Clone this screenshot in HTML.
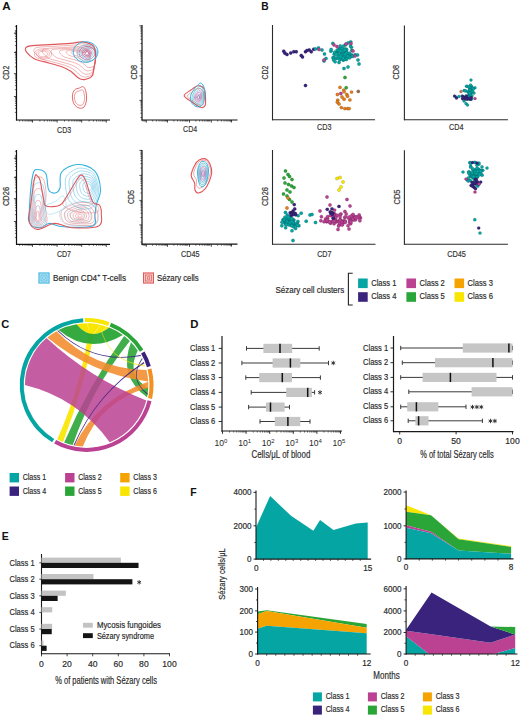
<!DOCTYPE html>
<html><head><meta charset="utf-8"><style>
html,body{margin:0;padding:0;background:#fff;}
svg{display:block;}
text{font-family:"Liberation Sans",sans-serif;}
</style></head><body>
<svg width="520" height="715" viewBox="0 0 520 715">
<rect width="520" height="715" fill="#fff"/>
<text x="2.30" y="9.70" font-size="11.5" text-anchor="start" fill="#111" font-weight="bold" textLength="8.4" lengthAdjust="spacingAndGlyphs">A</text>
<line x1="16.50" y1="25.00" x2="16.50" y2="120.50" stroke="#111" stroke-width="1.2"/>
<line x1="16.00" y1="120.00" x2="110.00" y2="120.00" stroke="#111" stroke-width="1.2"/>
<line x1="19.64" y1="120.00" x2="19.64" y2="121.60" stroke="#111" stroke-width="0.6"/>
<line x1="22.71" y1="120.00" x2="22.71" y2="121.60" stroke="#111" stroke-width="0.6"/>
<line x1="25.09" y1="120.00" x2="25.09" y2="121.60" stroke="#111" stroke-width="0.6"/>
<line x1="27.04" y1="120.00" x2="27.04" y2="121.60" stroke="#111" stroke-width="0.6"/>
<line x1="28.69" y1="120.00" x2="28.69" y2="121.60" stroke="#111" stroke-width="0.6"/>
<line x1="30.12" y1="120.00" x2="30.12" y2="121.60" stroke="#111" stroke-width="0.6"/>
<line x1="31.37" y1="120.00" x2="31.37" y2="121.60" stroke="#111" stroke-width="0.6"/>
<line x1="32.50" y1="120.00" x2="32.50" y2="122.60" stroke="#111" stroke-width="0.75"/>
<line x1="39.91" y1="120.00" x2="39.91" y2="121.60" stroke="#111" stroke-width="0.6"/>
<line x1="44.24" y1="120.00" x2="44.24" y2="121.60" stroke="#111" stroke-width="0.6"/>
<line x1="47.31" y1="120.00" x2="47.31" y2="121.60" stroke="#111" stroke-width="0.6"/>
<line x1="49.69" y1="120.00" x2="49.69" y2="121.60" stroke="#111" stroke-width="0.6"/>
<line x1="51.64" y1="120.00" x2="51.64" y2="121.60" stroke="#111" stroke-width="0.6"/>
<line x1="53.29" y1="120.00" x2="53.29" y2="121.60" stroke="#111" stroke-width="0.6"/>
<line x1="54.72" y1="120.00" x2="54.72" y2="121.60" stroke="#111" stroke-width="0.6"/>
<line x1="55.97" y1="120.00" x2="55.97" y2="121.60" stroke="#111" stroke-width="0.6"/>
<line x1="57.10" y1="120.00" x2="57.10" y2="122.60" stroke="#111" stroke-width="0.75"/>
<line x1="64.51" y1="120.00" x2="64.51" y2="121.60" stroke="#111" stroke-width="0.6"/>
<line x1="68.84" y1="120.00" x2="68.84" y2="121.60" stroke="#111" stroke-width="0.6"/>
<line x1="71.91" y1="120.00" x2="71.91" y2="121.60" stroke="#111" stroke-width="0.6"/>
<line x1="74.29" y1="120.00" x2="74.29" y2="121.60" stroke="#111" stroke-width="0.6"/>
<line x1="76.24" y1="120.00" x2="76.24" y2="121.60" stroke="#111" stroke-width="0.6"/>
<line x1="77.89" y1="120.00" x2="77.89" y2="121.60" stroke="#111" stroke-width="0.6"/>
<line x1="79.32" y1="120.00" x2="79.32" y2="121.60" stroke="#111" stroke-width="0.6"/>
<line x1="80.57" y1="120.00" x2="80.57" y2="121.60" stroke="#111" stroke-width="0.6"/>
<line x1="81.70" y1="120.00" x2="81.70" y2="122.60" stroke="#111" stroke-width="0.75"/>
<line x1="89.11" y1="120.00" x2="89.11" y2="121.60" stroke="#111" stroke-width="0.6"/>
<line x1="93.44" y1="120.00" x2="93.44" y2="121.60" stroke="#111" stroke-width="0.6"/>
<line x1="96.51" y1="120.00" x2="96.51" y2="121.60" stroke="#111" stroke-width="0.6"/>
<line x1="98.89" y1="120.00" x2="98.89" y2="121.60" stroke="#111" stroke-width="0.6"/>
<line x1="100.84" y1="120.00" x2="100.84" y2="121.60" stroke="#111" stroke-width="0.6"/>
<line x1="102.49" y1="120.00" x2="102.49" y2="121.60" stroke="#111" stroke-width="0.6"/>
<line x1="103.92" y1="120.00" x2="103.92" y2="121.60" stroke="#111" stroke-width="0.6"/>
<line x1="105.17" y1="120.00" x2="105.17" y2="121.60" stroke="#111" stroke-width="0.6"/>
<line x1="106.30" y1="120.00" x2="106.30" y2="122.60" stroke="#111" stroke-width="0.75"/>
<line x1="16.50" y1="112.44" x2="14.90" y2="112.44" stroke="#111" stroke-width="0.6"/>
<line x1="16.50" y1="108.42" x2="14.90" y2="108.42" stroke="#111" stroke-width="0.6"/>
<line x1="16.50" y1="105.57" x2="14.90" y2="105.57" stroke="#111" stroke-width="0.6"/>
<line x1="16.50" y1="103.36" x2="14.90" y2="103.36" stroke="#111" stroke-width="0.6"/>
<line x1="16.50" y1="101.56" x2="14.90" y2="101.56" stroke="#111" stroke-width="0.6"/>
<line x1="16.50" y1="100.03" x2="14.90" y2="100.03" stroke="#111" stroke-width="0.6"/>
<line x1="16.50" y1="98.71" x2="14.90" y2="98.71" stroke="#111" stroke-width="0.6"/>
<line x1="16.50" y1="97.54" x2="14.90" y2="97.54" stroke="#111" stroke-width="0.6"/>
<line x1="16.50" y1="96.50" x2="13.90" y2="96.50" stroke="#111" stroke-width="0.75"/>
<line x1="16.50" y1="89.64" x2="14.90" y2="89.64" stroke="#111" stroke-width="0.6"/>
<line x1="16.50" y1="85.62" x2="14.90" y2="85.62" stroke="#111" stroke-width="0.6"/>
<line x1="16.50" y1="82.77" x2="14.90" y2="82.77" stroke="#111" stroke-width="0.6"/>
<line x1="16.50" y1="80.56" x2="14.90" y2="80.56" stroke="#111" stroke-width="0.6"/>
<line x1="16.50" y1="78.76" x2="14.90" y2="78.76" stroke="#111" stroke-width="0.6"/>
<line x1="16.50" y1="77.23" x2="14.90" y2="77.23" stroke="#111" stroke-width="0.6"/>
<line x1="16.50" y1="75.91" x2="14.90" y2="75.91" stroke="#111" stroke-width="0.6"/>
<line x1="16.50" y1="74.74" x2="14.90" y2="74.74" stroke="#111" stroke-width="0.6"/>
<line x1="16.50" y1="73.70" x2="13.90" y2="73.70" stroke="#111" stroke-width="0.75"/>
<line x1="16.50" y1="66.84" x2="14.90" y2="66.84" stroke="#111" stroke-width="0.6"/>
<line x1="16.50" y1="62.82" x2="14.90" y2="62.82" stroke="#111" stroke-width="0.6"/>
<line x1="16.50" y1="59.97" x2="14.90" y2="59.97" stroke="#111" stroke-width="0.6"/>
<line x1="16.50" y1="57.76" x2="14.90" y2="57.76" stroke="#111" stroke-width="0.6"/>
<line x1="16.50" y1="55.96" x2="14.90" y2="55.96" stroke="#111" stroke-width="0.6"/>
<line x1="16.50" y1="54.43" x2="14.90" y2="54.43" stroke="#111" stroke-width="0.6"/>
<line x1="16.50" y1="53.11" x2="14.90" y2="53.11" stroke="#111" stroke-width="0.6"/>
<line x1="16.50" y1="51.94" x2="14.90" y2="51.94" stroke="#111" stroke-width="0.6"/>
<line x1="16.50" y1="52.40" x2="13.90" y2="52.40" stroke="#111" stroke-width="0.75"/>
<line x1="16.50" y1="45.54" x2="14.90" y2="45.54" stroke="#111" stroke-width="0.6"/>
<line x1="16.50" y1="41.52" x2="14.90" y2="41.52" stroke="#111" stroke-width="0.6"/>
<line x1="16.50" y1="38.67" x2="14.90" y2="38.67" stroke="#111" stroke-width="0.6"/>
<line x1="16.50" y1="36.46" x2="14.90" y2="36.46" stroke="#111" stroke-width="0.6"/>
<line x1="16.50" y1="34.66" x2="14.90" y2="34.66" stroke="#111" stroke-width="0.6"/>
<line x1="16.50" y1="33.13" x2="14.90" y2="33.13" stroke="#111" stroke-width="0.6"/>
<line x1="16.50" y1="31.81" x2="14.90" y2="31.81" stroke="#111" stroke-width="0.6"/>
<line x1="16.50" y1="30.64" x2="14.90" y2="30.64" stroke="#111" stroke-width="0.6"/>
<line x1="16.50" y1="33.20" x2="13.90" y2="33.20" stroke="#111" stroke-width="0.75"/>
<line x1="16.50" y1="26.34" x2="14.90" y2="26.34" stroke="#111" stroke-width="0.6"/>
<text x="64.10" y="132.90" font-size="9.2" text-anchor="middle" fill="#333" stroke="#333" stroke-width="0.18" textLength="14" lengthAdjust="spacingAndGlyphs">CD3</text>
<text x="8.80" y="72.70" font-size="9.2" text-anchor="middle" fill="#333" stroke="#333" stroke-width="0.18" textLength="14" lengthAdjust="spacingAndGlyphs" transform="rotate(-90 8.80 72.70)">CD2</text>
<line x1="142.00" y1="25.00" x2="142.00" y2="120.50" stroke="#111" stroke-width="1.2"/>
<line x1="141.50" y1="120.00" x2="237.50" y2="120.00" stroke="#111" stroke-width="1.2"/>
<line x1="143.02" y1="120.00" x2="143.02" y2="121.60" stroke="#111" stroke-width="0.6"/>
<line x1="144.25" y1="120.00" x2="144.25" y2="121.60" stroke="#111" stroke-width="0.6"/>
<line x1="145.33" y1="120.00" x2="145.33" y2="121.60" stroke="#111" stroke-width="0.6"/>
<line x1="146.30" y1="120.00" x2="146.30" y2="122.60" stroke="#111" stroke-width="0.75"/>
<line x1="152.68" y1="120.00" x2="152.68" y2="121.60" stroke="#111" stroke-width="0.6"/>
<line x1="156.41" y1="120.00" x2="156.41" y2="121.60" stroke="#111" stroke-width="0.6"/>
<line x1="159.06" y1="120.00" x2="159.06" y2="121.60" stroke="#111" stroke-width="0.6"/>
<line x1="161.12" y1="120.00" x2="161.12" y2="121.60" stroke="#111" stroke-width="0.6"/>
<line x1="162.80" y1="120.00" x2="162.80" y2="121.60" stroke="#111" stroke-width="0.6"/>
<line x1="164.22" y1="120.00" x2="164.22" y2="121.60" stroke="#111" stroke-width="0.6"/>
<line x1="165.45" y1="120.00" x2="165.45" y2="121.60" stroke="#111" stroke-width="0.6"/>
<line x1="166.53" y1="120.00" x2="166.53" y2="121.60" stroke="#111" stroke-width="0.6"/>
<line x1="167.50" y1="120.00" x2="167.50" y2="122.60" stroke="#111" stroke-width="0.75"/>
<line x1="173.88" y1="120.00" x2="173.88" y2="121.60" stroke="#111" stroke-width="0.6"/>
<line x1="177.61" y1="120.00" x2="177.61" y2="121.60" stroke="#111" stroke-width="0.6"/>
<line x1="180.26" y1="120.00" x2="180.26" y2="121.60" stroke="#111" stroke-width="0.6"/>
<line x1="182.32" y1="120.00" x2="182.32" y2="121.60" stroke="#111" stroke-width="0.6"/>
<line x1="184.00" y1="120.00" x2="184.00" y2="121.60" stroke="#111" stroke-width="0.6"/>
<line x1="185.42" y1="120.00" x2="185.42" y2="121.60" stroke="#111" stroke-width="0.6"/>
<line x1="186.65" y1="120.00" x2="186.65" y2="121.60" stroke="#111" stroke-width="0.6"/>
<line x1="187.73" y1="120.00" x2="187.73" y2="121.60" stroke="#111" stroke-width="0.6"/>
<line x1="189.50" y1="120.00" x2="189.50" y2="122.60" stroke="#111" stroke-width="0.75"/>
<line x1="195.88" y1="120.00" x2="195.88" y2="121.60" stroke="#111" stroke-width="0.6"/>
<line x1="199.61" y1="120.00" x2="199.61" y2="121.60" stroke="#111" stroke-width="0.6"/>
<line x1="202.26" y1="120.00" x2="202.26" y2="121.60" stroke="#111" stroke-width="0.6"/>
<line x1="204.32" y1="120.00" x2="204.32" y2="121.60" stroke="#111" stroke-width="0.6"/>
<line x1="206.00" y1="120.00" x2="206.00" y2="121.60" stroke="#111" stroke-width="0.6"/>
<line x1="207.42" y1="120.00" x2="207.42" y2="121.60" stroke="#111" stroke-width="0.6"/>
<line x1="208.65" y1="120.00" x2="208.65" y2="121.60" stroke="#111" stroke-width="0.6"/>
<line x1="209.73" y1="120.00" x2="209.73" y2="121.60" stroke="#111" stroke-width="0.6"/>
<line x1="211.30" y1="120.00" x2="211.30" y2="122.60" stroke="#111" stroke-width="0.75"/>
<line x1="217.68" y1="120.00" x2="217.68" y2="121.60" stroke="#111" stroke-width="0.6"/>
<line x1="221.41" y1="120.00" x2="221.41" y2="121.60" stroke="#111" stroke-width="0.6"/>
<line x1="224.06" y1="120.00" x2="224.06" y2="121.60" stroke="#111" stroke-width="0.6"/>
<line x1="226.12" y1="120.00" x2="226.12" y2="121.60" stroke="#111" stroke-width="0.6"/>
<line x1="227.80" y1="120.00" x2="227.80" y2="121.60" stroke="#111" stroke-width="0.6"/>
<line x1="229.22" y1="120.00" x2="229.22" y2="121.60" stroke="#111" stroke-width="0.6"/>
<line x1="230.45" y1="120.00" x2="230.45" y2="121.60" stroke="#111" stroke-width="0.6"/>
<line x1="231.53" y1="120.00" x2="231.53" y2="121.60" stroke="#111" stroke-width="0.6"/>
<line x1="231.30" y1="120.00" x2="231.30" y2="122.60" stroke="#111" stroke-width="0.75"/>
<line x1="142.00" y1="117.52" x2="140.40" y2="117.52" stroke="#111" stroke-width="0.6"/>
<line x1="142.00" y1="113.21" x2="140.40" y2="113.21" stroke="#111" stroke-width="0.6"/>
<line x1="142.00" y1="110.15" x2="140.40" y2="110.15" stroke="#111" stroke-width="0.6"/>
<line x1="142.00" y1="107.78" x2="140.40" y2="107.78" stroke="#111" stroke-width="0.6"/>
<line x1="142.00" y1="105.84" x2="140.40" y2="105.84" stroke="#111" stroke-width="0.6"/>
<line x1="142.00" y1="104.20" x2="140.40" y2="104.20" stroke="#111" stroke-width="0.6"/>
<line x1="142.00" y1="102.77" x2="140.40" y2="102.77" stroke="#111" stroke-width="0.6"/>
<line x1="142.00" y1="101.52" x2="140.40" y2="101.52" stroke="#111" stroke-width="0.6"/>
<line x1="142.00" y1="100.40" x2="139.40" y2="100.40" stroke="#111" stroke-width="0.75"/>
<line x1="142.00" y1="93.02" x2="140.40" y2="93.02" stroke="#111" stroke-width="0.6"/>
<line x1="142.00" y1="88.71" x2="140.40" y2="88.71" stroke="#111" stroke-width="0.6"/>
<line x1="142.00" y1="85.65" x2="140.40" y2="85.65" stroke="#111" stroke-width="0.6"/>
<line x1="142.00" y1="83.28" x2="140.40" y2="83.28" stroke="#111" stroke-width="0.6"/>
<line x1="142.00" y1="81.34" x2="140.40" y2="81.34" stroke="#111" stroke-width="0.6"/>
<line x1="142.00" y1="79.70" x2="140.40" y2="79.70" stroke="#111" stroke-width="0.6"/>
<line x1="142.00" y1="78.27" x2="140.40" y2="78.27" stroke="#111" stroke-width="0.6"/>
<line x1="142.00" y1="77.02" x2="140.40" y2="77.02" stroke="#111" stroke-width="0.6"/>
<line x1="142.00" y1="75.90" x2="139.40" y2="75.90" stroke="#111" stroke-width="0.75"/>
<line x1="142.00" y1="68.52" x2="140.40" y2="68.52" stroke="#111" stroke-width="0.6"/>
<line x1="142.00" y1="64.21" x2="140.40" y2="64.21" stroke="#111" stroke-width="0.6"/>
<line x1="142.00" y1="61.15" x2="140.40" y2="61.15" stroke="#111" stroke-width="0.6"/>
<line x1="142.00" y1="58.78" x2="140.40" y2="58.78" stroke="#111" stroke-width="0.6"/>
<line x1="142.00" y1="56.84" x2="140.40" y2="56.84" stroke="#111" stroke-width="0.6"/>
<line x1="142.00" y1="55.20" x2="140.40" y2="55.20" stroke="#111" stroke-width="0.6"/>
<line x1="142.00" y1="53.77" x2="140.40" y2="53.77" stroke="#111" stroke-width="0.6"/>
<line x1="142.00" y1="52.52" x2="140.40" y2="52.52" stroke="#111" stroke-width="0.6"/>
<line x1="142.00" y1="50.90" x2="139.40" y2="50.90" stroke="#111" stroke-width="0.75"/>
<line x1="142.00" y1="43.52" x2="140.40" y2="43.52" stroke="#111" stroke-width="0.6"/>
<line x1="142.00" y1="39.21" x2="140.40" y2="39.21" stroke="#111" stroke-width="0.6"/>
<line x1="142.00" y1="36.15" x2="140.40" y2="36.15" stroke="#111" stroke-width="0.6"/>
<line x1="142.00" y1="33.78" x2="140.40" y2="33.78" stroke="#111" stroke-width="0.6"/>
<line x1="142.00" y1="31.84" x2="140.40" y2="31.84" stroke="#111" stroke-width="0.6"/>
<line x1="142.00" y1="30.20" x2="140.40" y2="30.20" stroke="#111" stroke-width="0.6"/>
<line x1="142.00" y1="28.77" x2="140.40" y2="28.77" stroke="#111" stroke-width="0.6"/>
<line x1="142.00" y1="27.52" x2="140.40" y2="27.52" stroke="#111" stroke-width="0.6"/>
<line x1="142.00" y1="25.90" x2="139.40" y2="25.90" stroke="#111" stroke-width="0.75"/>
<text x="190.10" y="132.30" font-size="9.2" text-anchor="middle" fill="#333" stroke="#333" stroke-width="0.18" textLength="14" lengthAdjust="spacingAndGlyphs">CD4</text>
<text x="137.00" y="72.20" font-size="9.2" text-anchor="middle" fill="#333" stroke="#333" stroke-width="0.18" textLength="14.5" lengthAdjust="spacingAndGlyphs" transform="rotate(-90 137.00 72.20)">CD8</text>
<line x1="16.50" y1="150.00" x2="16.50" y2="244.80" stroke="#111" stroke-width="1.2"/>
<line x1="16.00" y1="244.30" x2="110.00" y2="244.30" stroke="#111" stroke-width="1.2"/>
<line x1="19.64" y1="244.30" x2="19.64" y2="245.90" stroke="#111" stroke-width="0.6"/>
<line x1="22.71" y1="244.30" x2="22.71" y2="245.90" stroke="#111" stroke-width="0.6"/>
<line x1="25.09" y1="244.30" x2="25.09" y2="245.90" stroke="#111" stroke-width="0.6"/>
<line x1="27.04" y1="244.30" x2="27.04" y2="245.90" stroke="#111" stroke-width="0.6"/>
<line x1="28.69" y1="244.30" x2="28.69" y2="245.90" stroke="#111" stroke-width="0.6"/>
<line x1="30.12" y1="244.30" x2="30.12" y2="245.90" stroke="#111" stroke-width="0.6"/>
<line x1="31.37" y1="244.30" x2="31.37" y2="245.90" stroke="#111" stroke-width="0.6"/>
<line x1="32.50" y1="244.30" x2="32.50" y2="246.90" stroke="#111" stroke-width="0.75"/>
<line x1="39.91" y1="244.30" x2="39.91" y2="245.90" stroke="#111" stroke-width="0.6"/>
<line x1="44.24" y1="244.30" x2="44.24" y2="245.90" stroke="#111" stroke-width="0.6"/>
<line x1="47.31" y1="244.30" x2="47.31" y2="245.90" stroke="#111" stroke-width="0.6"/>
<line x1="49.69" y1="244.30" x2="49.69" y2="245.90" stroke="#111" stroke-width="0.6"/>
<line x1="51.64" y1="244.30" x2="51.64" y2="245.90" stroke="#111" stroke-width="0.6"/>
<line x1="53.29" y1="244.30" x2="53.29" y2="245.90" stroke="#111" stroke-width="0.6"/>
<line x1="54.72" y1="244.30" x2="54.72" y2="245.90" stroke="#111" stroke-width="0.6"/>
<line x1="55.97" y1="244.30" x2="55.97" y2="245.90" stroke="#111" stroke-width="0.6"/>
<line x1="57.10" y1="244.30" x2="57.10" y2="246.90" stroke="#111" stroke-width="0.75"/>
<line x1="64.51" y1="244.30" x2="64.51" y2="245.90" stroke="#111" stroke-width="0.6"/>
<line x1="68.84" y1="244.30" x2="68.84" y2="245.90" stroke="#111" stroke-width="0.6"/>
<line x1="71.91" y1="244.30" x2="71.91" y2="245.90" stroke="#111" stroke-width="0.6"/>
<line x1="74.29" y1="244.30" x2="74.29" y2="245.90" stroke="#111" stroke-width="0.6"/>
<line x1="76.24" y1="244.30" x2="76.24" y2="245.90" stroke="#111" stroke-width="0.6"/>
<line x1="77.89" y1="244.30" x2="77.89" y2="245.90" stroke="#111" stroke-width="0.6"/>
<line x1="79.32" y1="244.30" x2="79.32" y2="245.90" stroke="#111" stroke-width="0.6"/>
<line x1="80.57" y1="244.30" x2="80.57" y2="245.90" stroke="#111" stroke-width="0.6"/>
<line x1="81.70" y1="244.30" x2="81.70" y2="246.90" stroke="#111" stroke-width="0.75"/>
<line x1="89.11" y1="244.30" x2="89.11" y2="245.90" stroke="#111" stroke-width="0.6"/>
<line x1="93.44" y1="244.30" x2="93.44" y2="245.90" stroke="#111" stroke-width="0.6"/>
<line x1="96.51" y1="244.30" x2="96.51" y2="245.90" stroke="#111" stroke-width="0.6"/>
<line x1="98.89" y1="244.30" x2="98.89" y2="245.90" stroke="#111" stroke-width="0.6"/>
<line x1="100.84" y1="244.30" x2="100.84" y2="245.90" stroke="#111" stroke-width="0.6"/>
<line x1="102.49" y1="244.30" x2="102.49" y2="245.90" stroke="#111" stroke-width="0.6"/>
<line x1="103.92" y1="244.30" x2="103.92" y2="245.90" stroke="#111" stroke-width="0.6"/>
<line x1="105.17" y1="244.30" x2="105.17" y2="245.90" stroke="#111" stroke-width="0.6"/>
<line x1="106.30" y1="244.30" x2="106.30" y2="246.90" stroke="#111" stroke-width="0.75"/>
<line x1="16.50" y1="237.44" x2="14.90" y2="237.44" stroke="#111" stroke-width="0.6"/>
<line x1="16.50" y1="233.42" x2="14.90" y2="233.42" stroke="#111" stroke-width="0.6"/>
<line x1="16.50" y1="230.57" x2="14.90" y2="230.57" stroke="#111" stroke-width="0.6"/>
<line x1="16.50" y1="228.36" x2="14.90" y2="228.36" stroke="#111" stroke-width="0.6"/>
<line x1="16.50" y1="226.56" x2="14.90" y2="226.56" stroke="#111" stroke-width="0.6"/>
<line x1="16.50" y1="225.03" x2="14.90" y2="225.03" stroke="#111" stroke-width="0.6"/>
<line x1="16.50" y1="223.71" x2="14.90" y2="223.71" stroke="#111" stroke-width="0.6"/>
<line x1="16.50" y1="222.54" x2="14.90" y2="222.54" stroke="#111" stroke-width="0.6"/>
<line x1="16.50" y1="221.50" x2="13.90" y2="221.50" stroke="#111" stroke-width="0.75"/>
<line x1="16.50" y1="214.64" x2="14.90" y2="214.64" stroke="#111" stroke-width="0.6"/>
<line x1="16.50" y1="210.62" x2="14.90" y2="210.62" stroke="#111" stroke-width="0.6"/>
<line x1="16.50" y1="207.77" x2="14.90" y2="207.77" stroke="#111" stroke-width="0.6"/>
<line x1="16.50" y1="205.56" x2="14.90" y2="205.56" stroke="#111" stroke-width="0.6"/>
<line x1="16.50" y1="203.76" x2="14.90" y2="203.76" stroke="#111" stroke-width="0.6"/>
<line x1="16.50" y1="202.23" x2="14.90" y2="202.23" stroke="#111" stroke-width="0.6"/>
<line x1="16.50" y1="200.91" x2="14.90" y2="200.91" stroke="#111" stroke-width="0.6"/>
<line x1="16.50" y1="199.74" x2="14.90" y2="199.74" stroke="#111" stroke-width="0.6"/>
<line x1="16.50" y1="198.70" x2="13.90" y2="198.70" stroke="#111" stroke-width="0.75"/>
<line x1="16.50" y1="191.84" x2="14.90" y2="191.84" stroke="#111" stroke-width="0.6"/>
<line x1="16.50" y1="187.82" x2="14.90" y2="187.82" stroke="#111" stroke-width="0.6"/>
<line x1="16.50" y1="184.97" x2="14.90" y2="184.97" stroke="#111" stroke-width="0.6"/>
<line x1="16.50" y1="182.76" x2="14.90" y2="182.76" stroke="#111" stroke-width="0.6"/>
<line x1="16.50" y1="180.96" x2="14.90" y2="180.96" stroke="#111" stroke-width="0.6"/>
<line x1="16.50" y1="179.43" x2="14.90" y2="179.43" stroke="#111" stroke-width="0.6"/>
<line x1="16.50" y1="178.11" x2="14.90" y2="178.11" stroke="#111" stroke-width="0.6"/>
<line x1="16.50" y1="176.94" x2="14.90" y2="176.94" stroke="#111" stroke-width="0.6"/>
<line x1="16.50" y1="177.40" x2="13.90" y2="177.40" stroke="#111" stroke-width="0.75"/>
<line x1="16.50" y1="170.54" x2="14.90" y2="170.54" stroke="#111" stroke-width="0.6"/>
<line x1="16.50" y1="166.52" x2="14.90" y2="166.52" stroke="#111" stroke-width="0.6"/>
<line x1="16.50" y1="163.67" x2="14.90" y2="163.67" stroke="#111" stroke-width="0.6"/>
<line x1="16.50" y1="161.46" x2="14.90" y2="161.46" stroke="#111" stroke-width="0.6"/>
<line x1="16.50" y1="159.66" x2="14.90" y2="159.66" stroke="#111" stroke-width="0.6"/>
<line x1="16.50" y1="158.13" x2="14.90" y2="158.13" stroke="#111" stroke-width="0.6"/>
<line x1="16.50" y1="156.81" x2="14.90" y2="156.81" stroke="#111" stroke-width="0.6"/>
<line x1="16.50" y1="155.64" x2="14.90" y2="155.64" stroke="#111" stroke-width="0.6"/>
<line x1="16.50" y1="158.20" x2="13.90" y2="158.20" stroke="#111" stroke-width="0.75"/>
<line x1="16.50" y1="151.34" x2="14.90" y2="151.34" stroke="#111" stroke-width="0.6"/>
<text x="64.00" y="257.30" font-size="9.2" text-anchor="middle" fill="#333" stroke="#333" stroke-width="0.18" textLength="14" lengthAdjust="spacingAndGlyphs">CD7</text>
<text x="9.00" y="196.50" font-size="9.2" text-anchor="middle" fill="#333" stroke="#333" stroke-width="0.18" textLength="19.2" lengthAdjust="spacingAndGlyphs" transform="rotate(-90 9.00 196.50)">CD26</text>
<line x1="142.00" y1="150.00" x2="142.00" y2="244.70" stroke="#111" stroke-width="1.2"/>
<line x1="141.50" y1="244.20" x2="237.50" y2="244.20" stroke="#111" stroke-width="1.2"/>
<line x1="143.02" y1="244.20" x2="143.02" y2="245.80" stroke="#111" stroke-width="0.6"/>
<line x1="144.25" y1="244.20" x2="144.25" y2="245.80" stroke="#111" stroke-width="0.6"/>
<line x1="145.33" y1="244.20" x2="145.33" y2="245.80" stroke="#111" stroke-width="0.6"/>
<line x1="146.30" y1="244.20" x2="146.30" y2="246.80" stroke="#111" stroke-width="0.75"/>
<line x1="152.68" y1="244.20" x2="152.68" y2="245.80" stroke="#111" stroke-width="0.6"/>
<line x1="156.41" y1="244.20" x2="156.41" y2="245.80" stroke="#111" stroke-width="0.6"/>
<line x1="159.06" y1="244.20" x2="159.06" y2="245.80" stroke="#111" stroke-width="0.6"/>
<line x1="161.12" y1="244.20" x2="161.12" y2="245.80" stroke="#111" stroke-width="0.6"/>
<line x1="162.80" y1="244.20" x2="162.80" y2="245.80" stroke="#111" stroke-width="0.6"/>
<line x1="164.22" y1="244.20" x2="164.22" y2="245.80" stroke="#111" stroke-width="0.6"/>
<line x1="165.45" y1="244.20" x2="165.45" y2="245.80" stroke="#111" stroke-width="0.6"/>
<line x1="166.53" y1="244.20" x2="166.53" y2="245.80" stroke="#111" stroke-width="0.6"/>
<line x1="167.50" y1="244.20" x2="167.50" y2="246.80" stroke="#111" stroke-width="0.75"/>
<line x1="173.88" y1="244.20" x2="173.88" y2="245.80" stroke="#111" stroke-width="0.6"/>
<line x1="177.61" y1="244.20" x2="177.61" y2="245.80" stroke="#111" stroke-width="0.6"/>
<line x1="180.26" y1="244.20" x2="180.26" y2="245.80" stroke="#111" stroke-width="0.6"/>
<line x1="182.32" y1="244.20" x2="182.32" y2="245.80" stroke="#111" stroke-width="0.6"/>
<line x1="184.00" y1="244.20" x2="184.00" y2="245.80" stroke="#111" stroke-width="0.6"/>
<line x1="185.42" y1="244.20" x2="185.42" y2="245.80" stroke="#111" stroke-width="0.6"/>
<line x1="186.65" y1="244.20" x2="186.65" y2="245.80" stroke="#111" stroke-width="0.6"/>
<line x1="187.73" y1="244.20" x2="187.73" y2="245.80" stroke="#111" stroke-width="0.6"/>
<line x1="189.50" y1="244.20" x2="189.50" y2="246.80" stroke="#111" stroke-width="0.75"/>
<line x1="195.88" y1="244.20" x2="195.88" y2="245.80" stroke="#111" stroke-width="0.6"/>
<line x1="199.61" y1="244.20" x2="199.61" y2="245.80" stroke="#111" stroke-width="0.6"/>
<line x1="202.26" y1="244.20" x2="202.26" y2="245.80" stroke="#111" stroke-width="0.6"/>
<line x1="204.32" y1="244.20" x2="204.32" y2="245.80" stroke="#111" stroke-width="0.6"/>
<line x1="206.00" y1="244.20" x2="206.00" y2="245.80" stroke="#111" stroke-width="0.6"/>
<line x1="207.42" y1="244.20" x2="207.42" y2="245.80" stroke="#111" stroke-width="0.6"/>
<line x1="208.65" y1="244.20" x2="208.65" y2="245.80" stroke="#111" stroke-width="0.6"/>
<line x1="209.73" y1="244.20" x2="209.73" y2="245.80" stroke="#111" stroke-width="0.6"/>
<line x1="211.30" y1="244.20" x2="211.30" y2="246.80" stroke="#111" stroke-width="0.75"/>
<line x1="217.68" y1="244.20" x2="217.68" y2="245.80" stroke="#111" stroke-width="0.6"/>
<line x1="221.41" y1="244.20" x2="221.41" y2="245.80" stroke="#111" stroke-width="0.6"/>
<line x1="224.06" y1="244.20" x2="224.06" y2="245.80" stroke="#111" stroke-width="0.6"/>
<line x1="226.12" y1="244.20" x2="226.12" y2="245.80" stroke="#111" stroke-width="0.6"/>
<line x1="227.80" y1="244.20" x2="227.80" y2="245.80" stroke="#111" stroke-width="0.6"/>
<line x1="229.22" y1="244.20" x2="229.22" y2="245.80" stroke="#111" stroke-width="0.6"/>
<line x1="230.45" y1="244.20" x2="230.45" y2="245.80" stroke="#111" stroke-width="0.6"/>
<line x1="231.53" y1="244.20" x2="231.53" y2="245.80" stroke="#111" stroke-width="0.6"/>
<line x1="231.30" y1="244.20" x2="231.30" y2="246.80" stroke="#111" stroke-width="0.75"/>
<line x1="142.00" y1="242.02" x2="140.40" y2="242.02" stroke="#111" stroke-width="0.6"/>
<line x1="142.00" y1="237.71" x2="140.40" y2="237.71" stroke="#111" stroke-width="0.6"/>
<line x1="142.00" y1="234.65" x2="140.40" y2="234.65" stroke="#111" stroke-width="0.6"/>
<line x1="142.00" y1="232.28" x2="140.40" y2="232.28" stroke="#111" stroke-width="0.6"/>
<line x1="142.00" y1="230.34" x2="140.40" y2="230.34" stroke="#111" stroke-width="0.6"/>
<line x1="142.00" y1="228.70" x2="140.40" y2="228.70" stroke="#111" stroke-width="0.6"/>
<line x1="142.00" y1="227.27" x2="140.40" y2="227.27" stroke="#111" stroke-width="0.6"/>
<line x1="142.00" y1="226.02" x2="140.40" y2="226.02" stroke="#111" stroke-width="0.6"/>
<line x1="142.00" y1="224.90" x2="139.40" y2="224.90" stroke="#111" stroke-width="0.75"/>
<line x1="142.00" y1="217.52" x2="140.40" y2="217.52" stroke="#111" stroke-width="0.6"/>
<line x1="142.00" y1="213.21" x2="140.40" y2="213.21" stroke="#111" stroke-width="0.6"/>
<line x1="142.00" y1="210.15" x2="140.40" y2="210.15" stroke="#111" stroke-width="0.6"/>
<line x1="142.00" y1="207.78" x2="140.40" y2="207.78" stroke="#111" stroke-width="0.6"/>
<line x1="142.00" y1="205.84" x2="140.40" y2="205.84" stroke="#111" stroke-width="0.6"/>
<line x1="142.00" y1="204.20" x2="140.40" y2="204.20" stroke="#111" stroke-width="0.6"/>
<line x1="142.00" y1="202.77" x2="140.40" y2="202.77" stroke="#111" stroke-width="0.6"/>
<line x1="142.00" y1="201.52" x2="140.40" y2="201.52" stroke="#111" stroke-width="0.6"/>
<line x1="142.00" y1="200.40" x2="139.40" y2="200.40" stroke="#111" stroke-width="0.75"/>
<line x1="142.00" y1="193.02" x2="140.40" y2="193.02" stroke="#111" stroke-width="0.6"/>
<line x1="142.00" y1="188.71" x2="140.40" y2="188.71" stroke="#111" stroke-width="0.6"/>
<line x1="142.00" y1="185.65" x2="140.40" y2="185.65" stroke="#111" stroke-width="0.6"/>
<line x1="142.00" y1="183.28" x2="140.40" y2="183.28" stroke="#111" stroke-width="0.6"/>
<line x1="142.00" y1="181.34" x2="140.40" y2="181.34" stroke="#111" stroke-width="0.6"/>
<line x1="142.00" y1="179.70" x2="140.40" y2="179.70" stroke="#111" stroke-width="0.6"/>
<line x1="142.00" y1="178.27" x2="140.40" y2="178.27" stroke="#111" stroke-width="0.6"/>
<line x1="142.00" y1="177.02" x2="140.40" y2="177.02" stroke="#111" stroke-width="0.6"/>
<line x1="142.00" y1="175.40" x2="139.40" y2="175.40" stroke="#111" stroke-width="0.75"/>
<line x1="142.00" y1="168.02" x2="140.40" y2="168.02" stroke="#111" stroke-width="0.6"/>
<line x1="142.00" y1="163.71" x2="140.40" y2="163.71" stroke="#111" stroke-width="0.6"/>
<line x1="142.00" y1="160.65" x2="140.40" y2="160.65" stroke="#111" stroke-width="0.6"/>
<line x1="142.00" y1="158.28" x2="140.40" y2="158.28" stroke="#111" stroke-width="0.6"/>
<line x1="142.00" y1="156.34" x2="140.40" y2="156.34" stroke="#111" stroke-width="0.6"/>
<line x1="142.00" y1="154.70" x2="140.40" y2="154.70" stroke="#111" stroke-width="0.6"/>
<line x1="142.00" y1="153.27" x2="140.40" y2="153.27" stroke="#111" stroke-width="0.6"/>
<line x1="142.00" y1="152.02" x2="140.40" y2="152.02" stroke="#111" stroke-width="0.6"/>
<line x1="142.00" y1="150.40" x2="139.40" y2="150.40" stroke="#111" stroke-width="0.75"/>
<text x="190.20" y="257.30" font-size="9.2" text-anchor="middle" fill="#333" stroke="#333" stroke-width="0.18" textLength="18.5" lengthAdjust="spacingAndGlyphs">CD45</text>
<text x="134.00" y="197.00" font-size="9.2" text-anchor="middle" fill="#333" stroke="#333" stroke-width="0.18" textLength="14" lengthAdjust="spacingAndGlyphs" transform="rotate(-90 134.00 197.00)">CD5</text>
<path d="M25.60,48.30C26.25,47.25 25.75,46.45 30.40,45.80C35.05,45.15 46.45,44.85 53.50,44.40C60.55,43.95 67.90,43.52 72.70,43.10C77.50,42.68 78.78,41.37 82.30,41.90C85.82,42.43 91.62,43.48 93.80,46.30C95.98,49.12 95.40,55.10 95.40,58.80C95.40,62.50 94.37,65.60 93.80,68.50C93.23,71.40 93.60,74.35 92.00,76.20C90.40,78.05 86.45,79.30 84.20,79.60C81.95,79.90 80.73,79.38 78.50,78.00C76.27,76.62 73.68,73.22 70.80,71.30C67.92,69.38 65.70,68.10 61.20,66.50C56.70,64.90 48.30,62.98 43.80,61.70C39.30,60.42 37.08,60.40 34.20,58.80C31.32,57.20 27.93,53.85 26.50,52.10C25.07,50.35 24.95,49.35 25.60,48.30Z" fill="none" stroke="#e0575a" stroke-width="1.2" stroke-opacity="1.0"/>
<path d="M34.09,49.48C34.66,48.56 34.22,47.86 38.31,47.28C42.40,46.71 52.44,46.45 58.64,46.05C64.84,45.66 71.31,45.27 75.54,44.91C79.76,44.54 80.89,43.38 83.98,43.85C87.08,44.32 92.18,45.25 94.10,47.72C96.03,50.20 95.51,55.47 95.51,58.72C95.51,61.98 94.60,64.71 94.10,67.26C93.61,69.81 93.93,72.41 92.52,74.04C91.11,75.66 87.64,76.76 85.66,77.03C83.68,77.29 82.61,76.84 80.64,75.62C78.67,74.40 76.40,71.41 73.86,69.72C71.33,68.04 69.38,66.91 65.42,65.50C61.46,64.09 54.06,62.41 50.10,61.28C46.14,60.15 44.19,60.13 41.66,58.72C39.12,57.32 36.14,54.37 34.88,52.83C33.62,51.29 33.52,50.41 34.09,49.48Z" fill="none" stroke="#e0575a" stroke-width="0.55" stroke-opacity="0.8"/>
<path d="M42.58,50.47C43.07,49.67 42.69,49.06 46.22,48.57C49.76,48.07 58.42,47.85 63.78,47.50C69.14,47.16 74.72,46.83 78.37,46.52C82.02,46.20 83.00,45.20 85.67,45.60C88.34,46.01 92.75,46.81 94.41,48.95C96.07,51.09 95.62,55.64 95.62,58.45C95.62,61.26 94.84,63.62 94.41,65.82C93.98,68.02 94.26,70.27 93.04,71.67C91.82,73.08 88.82,74.03 87.11,74.26C85.40,74.48 84.48,74.09 82.78,73.04C81.08,71.99 79.12,69.40 76.93,67.95C74.74,66.49 73.05,65.52 69.63,64.30C66.21,63.08 59.83,61.63 56.41,60.65C52.99,59.68 51.30,59.66 49.11,58.45C46.92,57.23 44.35,54.69 43.26,53.36C42.17,52.03 42.08,51.27 42.58,50.47Z" fill="none" stroke="#e0575a" stroke-width="0.55" stroke-opacity="0.8"/>
<path d="M51.06,50.85C51.48,50.18 51.16,49.67 54.14,49.25C57.11,48.84 64.41,48.64 68.92,48.36C73.43,48.07 78.14,47.79 81.21,47.52C84.28,47.26 85.10,46.41 87.35,46.76C89.60,47.10 93.31,47.77 94.71,49.57C96.11,51.37 95.74,55.20 95.74,57.57C95.74,59.94 95.07,61.92 94.71,63.78C94.35,65.64 94.58,67.52 93.56,68.71C92.54,69.89 90.01,70.69 88.57,70.88C87.13,71.08 86.35,70.75 84.92,69.86C83.49,68.97 81.84,66.80 79.99,65.57C78.15,64.35 76.73,63.52 73.85,62.50C70.97,61.48 65.59,60.25 62.71,59.43C59.83,58.61 58.41,58.60 56.57,57.57C54.72,56.55 52.56,54.40 51.64,53.28C50.72,52.16 50.65,51.52 51.06,50.85Z" fill="none" stroke="#e0575a" stroke-width="0.55" stroke-opacity="0.8"/>
<path d="M59.55,51.34C59.89,50.79 59.63,50.37 62.05,50.04C64.47,49.70 70.39,49.54 74.06,49.31C77.73,49.07 81.55,48.85 84.04,48.63C86.54,48.42 87.21,47.73 89.04,48.01C90.86,48.29 93.88,48.83 95.02,50.30C96.15,51.76 95.85,54.87 95.85,56.80C95.85,58.72 95.31,60.33 95.02,61.84C94.72,63.35 94.91,64.88 94.08,65.84C93.25,66.81 91.19,67.46 90.02,67.61C88.85,67.77 88.22,67.50 87.06,66.78C85.90,66.06 84.56,64.29 83.06,63.30C81.56,62.30 80.40,61.63 78.06,60.80C75.72,59.97 71.36,58.97 69.02,58.30C66.68,57.64 65.52,57.63 64.02,56.80C62.52,55.96 60.77,54.22 60.02,53.31C59.27,52.40 59.21,51.88 59.55,51.34Z" fill="none" stroke="#e0575a" stroke-width="0.55" stroke-opacity="0.8"/>
<path d="M51.75,54.00C51.75,55.24 50.65,56.84 49.19,57.71C47.73,58.59 45.06,59.25 43.00,59.25C40.94,59.25 38.27,58.59 36.81,57.71C35.35,56.84 34.25,55.24 34.25,54.00C34.25,52.76 35.35,51.16 36.81,50.29C38.27,49.41 40.94,48.75 43.00,48.75C45.06,48.75 47.73,49.41 49.19,50.29C50.65,51.16 51.75,52.76 51.75,54.00Z" fill="none" stroke="#e0575a" stroke-width="0.5" stroke-opacity="0.8"/>
<path d="M49.50,54.00C49.50,54.94 48.68,56.16 47.60,56.83C46.51,57.50 44.53,58.00 43.00,58.00C41.47,58.00 39.49,57.50 38.40,56.83C37.32,56.16 36.50,54.94 36.50,54.00C36.50,53.06 37.32,51.84 38.40,51.17C39.49,50.50 41.47,50.00 43.00,50.00C44.53,50.00 46.51,50.50 47.60,51.17C48.68,51.84 49.50,53.06 49.50,54.00Z" fill="none" stroke="#e0575a" stroke-width="0.5" stroke-opacity="0.8"/>
<path d="M47.52,54.00C47.52,54.68 46.95,55.57 46.20,56.05C45.44,56.53 44.07,56.90 43.00,56.90C41.93,56.90 40.56,56.53 39.80,56.05C39.05,55.57 38.48,54.68 38.48,54.00C38.48,53.32 39.05,52.43 39.80,51.95C40.56,51.47 41.93,51.10 43.00,51.10C44.07,51.10 45.44,51.47 46.20,51.95C46.95,52.43 47.52,53.32 47.52,54.00Z" fill="none" stroke="#e0575a" stroke-width="0.5" stroke-opacity="0.8"/>
<path d="M66.16,51.68C66.39,51.31 66.21,51.03 67.84,50.80C69.47,50.58 73.46,50.47 75.92,50.31C78.39,50.16 80.97,50.01 82.64,49.86C84.32,49.71 84.77,49.25 86.00,49.44C87.24,49.63 89.27,49.99 90.03,50.98C90.79,51.97 90.59,54.06 90.59,55.35C90.59,56.65 90.23,57.73 90.03,58.75C89.83,59.77 89.96,60.80 89.40,61.45C88.84,62.09 87.46,62.53 86.67,62.63C85.88,62.74 85.46,62.56 84.67,62.08C83.89,61.59 82.99,60.40 81.98,59.73C80.97,59.06 80.20,58.61 78.62,58.05C77.05,57.49 74.11,56.82 72.53,56.37C70.95,55.92 70.18,55.91 69.17,55.35C68.16,54.79 66.98,53.62 66.47,53.01C65.97,52.40 65.93,52.05 66.16,51.68Z" fill="none" stroke="#e0575a" stroke-width="0.5" stroke-opacity="0.8"/>
<path d="M71.40,52.12C71.57,51.84 71.44,51.62 72.68,51.45C73.92,51.28 76.95,51.20 78.82,51.08C80.70,50.96 82.65,50.84 83.93,50.73C85.21,50.62 85.55,50.27 86.48,50.41C87.42,50.56 88.96,50.84 89.54,51.58C90.12,52.33 89.97,53.93 89.97,54.91C89.97,55.89 89.69,56.72 89.54,57.49C89.39,58.26 89.49,59.05 89.06,59.54C88.64,60.03 87.59,60.36 86.99,60.44C86.39,60.52 86.07,60.38 85.47,60.02C84.88,59.65 84.19,58.74 83.42,58.23C82.66,57.72 82.07,57.38 80.87,56.96C79.67,56.53 77.44,56.02 76.24,55.68C75.05,55.34 74.46,55.34 73.69,54.91C72.92,54.48 72.02,53.59 71.64,53.13C71.26,52.66 71.23,52.40 71.40,52.12Z" fill="none" stroke="#e0575a" stroke-width="0.5" stroke-opacity="0.8"/>
<path d="M76.64,52.55C76.76,52.36 76.67,52.22 77.52,52.10C78.36,51.98 80.44,51.93 81.72,51.84C83.00,51.76 84.34,51.68 85.22,51.61C86.09,51.53 86.32,51.29 86.96,51.39C87.60,51.49 88.66,51.68 89.06,52.19C89.45,52.70 89.35,53.79 89.35,54.46C89.35,55.14 89.16,55.70 89.06,56.23C88.95,56.76 89.02,57.29 88.73,57.63C88.44,57.97 87.72,58.20 87.31,58.25C86.90,58.30 86.68,58.21 86.27,57.96C85.86,57.71 85.39,57.09 84.87,56.74C84.34,56.39 83.94,56.16 83.12,55.87C82.30,55.57 80.77,55.23 79.96,54.99C79.14,54.76 78.73,54.76 78.21,54.46C77.68,54.17 77.07,53.56 76.81,53.25C76.55,52.93 76.52,52.74 76.64,52.55Z" fill="none" stroke="#e0575a" stroke-width="0.5" stroke-opacity="0.8"/>
<path d="M81.45,52.95C81.52,52.84 81.46,52.76 81.95,52.69C82.44,52.62 83.64,52.59 84.38,52.54C85.12,52.50 85.89,52.45 86.39,52.41C86.90,52.36 87.03,52.23 87.40,52.28C87.77,52.34 88.38,52.45 88.61,52.74C88.84,53.04 88.78,53.67 88.78,54.06C88.78,54.45 88.67,54.77 88.61,55.08C88.55,55.38 88.59,55.69 88.42,55.88C88.25,56.08 87.84,56.21 87.60,56.24C87.36,56.27 87.24,56.22 87.00,56.07C86.77,55.93 86.50,55.57 86.19,55.37C85.89,55.17 85.66,55.03 85.19,54.87C84.71,54.70 83.83,54.50 83.36,54.36C82.89,54.23 82.65,54.22 82.35,54.06C82.05,53.89 81.69,53.54 81.54,53.35C81.39,53.17 81.38,53.06 81.45,52.95Z" fill="none" stroke="#e0575a" stroke-width="0.5" stroke-opacity="0.8"/>
<path d="M97.90,52.00C97.90,53.72 97.28,55.66 96.25,57.15C95.23,58.64 93.53,60.06 91.75,60.92C89.97,61.78 87.65,62.30 85.60,62.30C83.55,62.30 81.23,61.78 79.45,60.92C77.67,60.06 75.97,58.64 74.95,57.15C73.92,55.66 73.30,53.72 73.30,52.00C73.30,50.28 73.92,48.34 74.95,46.85C75.97,45.36 77.67,43.94 79.45,43.08C81.23,42.22 83.55,41.70 85.60,41.70C87.65,41.70 89.97,42.22 91.75,43.08C93.53,43.94 95.23,45.36 96.25,46.85C97.28,48.34 97.90,50.28 97.90,52.00Z" fill="none" stroke="#38b2e0" stroke-width="1.0" stroke-opacity="1.0"/>
<path d="M96.84,53.00C96.84,54.61 96.09,56.54 94.96,57.84C93.83,59.15 91.87,60.34 90.04,60.84C88.21,61.34 85.79,61.34 83.96,60.84C82.13,60.34 80.17,59.15 79.04,57.84C77.91,56.54 77.16,54.61 77.16,53.00C77.16,51.39 77.91,49.46 79.04,48.16C80.17,46.85 82.13,45.66 83.96,45.16C85.79,44.66 88.21,44.66 90.04,45.16C91.87,45.66 93.83,46.85 94.96,48.16C96.09,49.46 96.84,51.39 96.84,53.00Z" fill="none" stroke="#38b2e0" stroke-width="0.6" stroke-opacity="0.85"/>
<path d="M94.87,53.00C94.87,54.29 94.28,55.83 93.37,56.87C92.46,57.92 90.90,58.87 89.43,59.27C87.97,59.67 86.03,59.67 84.57,59.27C83.10,58.87 81.54,57.92 80.63,56.87C79.72,55.83 79.13,54.29 79.13,53.00C79.13,51.71 79.72,50.17 80.63,49.13C81.54,48.08 83.10,47.13 84.57,46.73C86.03,46.33 87.97,46.33 89.43,46.73C90.90,47.13 92.46,48.08 93.37,49.13C94.28,50.17 94.87,51.71 94.87,53.00Z" fill="none" stroke="#6a5aa8" stroke-width="0.6" stroke-opacity="0.85"/>
<path d="M93.15,53.00C93.15,54.01 92.68,55.21 91.98,56.03C91.27,56.84 90.05,57.59 88.90,57.90C87.75,58.21 86.25,58.21 85.10,57.90C83.95,57.59 82.73,56.84 82.02,56.03C81.32,55.21 80.85,54.01 80.85,53.00C80.85,51.99 81.32,50.79 82.02,49.97C82.73,49.16 83.95,48.41 85.10,48.10C86.25,47.79 87.75,47.79 88.90,48.10C90.05,48.41 91.27,49.16 91.98,49.97C92.68,50.79 93.15,51.99 93.15,53.00Z" fill="none" stroke="#38b2e0" stroke-width="0.6" stroke-opacity="0.85"/>
<path d="M91.67,53.00C91.67,53.77 91.32,54.68 90.78,55.30C90.24,55.92 89.32,56.49 88.44,56.72C87.57,56.96 86.43,56.96 85.56,56.72C84.68,56.49 83.76,55.92 83.22,55.30C82.68,54.68 82.33,53.77 82.33,53.00C82.33,52.23 82.68,51.32 83.22,50.70C83.76,50.08 84.68,49.51 85.56,49.28C86.43,49.04 87.57,49.04 88.44,49.28C89.32,49.51 90.24,50.08 90.78,50.70C91.32,51.32 91.67,52.23 91.67,53.00Z" fill="none" stroke="#bb4193" stroke-width="0.6" stroke-opacity="0.85"/>
<path d="M90.20,53.00C90.20,53.52 89.96,54.15 89.59,54.57C89.22,55.00 88.58,55.38 87.99,55.55C87.39,55.71 86.61,55.71 86.01,55.55C85.42,55.38 84.78,55.00 84.41,54.57C84.04,54.15 83.80,53.52 83.80,53.00C83.80,52.48 84.04,51.85 84.41,51.43C84.78,51.00 85.42,50.62 86.01,50.45C86.61,50.29 87.39,50.29 87.99,50.45C88.58,50.62 89.22,51.00 89.59,51.43C89.96,51.85 90.20,52.48 90.20,53.00Z" fill="none" stroke="#6a5aa8" stroke-width="0.6" stroke-opacity="0.85"/>
<path d="M88.84,53.00C88.84,53.30 88.71,53.66 88.49,53.91C88.28,54.15 87.91,54.38 87.57,54.47C87.23,54.56 86.77,54.56 86.43,54.47C86.09,54.38 85.72,54.15 85.51,53.91C85.29,53.66 85.16,53.30 85.16,53.00C85.16,52.70 85.29,52.34 85.51,52.09C85.72,51.85 86.09,51.62 86.43,51.53C86.77,51.44 87.23,51.44 87.57,51.53C87.91,51.62 88.28,51.85 88.49,52.09C88.71,52.34 88.84,52.70 88.84,53.00Z" fill="none" stroke="#bb4193" stroke-width="0.6" stroke-opacity="0.85"/>
<path d="M79.40,88.00C80.90,87.47 82.40,86.13 83.50,86.80C84.60,87.47 85.50,89.80 86.00,92.00C86.50,94.20 86.83,97.50 86.50,100.00C86.17,102.50 85.25,105.67 84.00,107.00C82.75,108.33 80.67,108.50 79.00,108.00C77.33,107.50 75.10,106.00 74.00,104.00C72.90,102.00 72.32,98.33 72.40,96.00C72.48,93.67 73.33,91.33 74.50,90.00C75.67,88.67 77.90,88.53 79.40,88.00Z" fill="none" stroke="#e0575a" stroke-width="0.9" stroke-opacity="1.0"/>
<path d="M79.43,90.80C80.51,90.42 81.59,89.46 82.38,89.94C83.17,90.42 83.82,92.10 84.18,93.68C84.54,95.26 84.78,97.64 84.54,99.44C84.30,101.24 83.64,103.52 82.74,104.48C81.84,105.44 80.34,105.56 79.14,105.20C77.94,104.84 76.33,103.76 75.54,102.32C74.75,100.88 74.33,98.24 74.39,96.56C74.45,94.88 75.06,93.20 75.90,92.24C76.74,91.28 78.35,91.18 79.43,90.80Z" fill="none" stroke="#e0575a" stroke-width="0.6" stroke-opacity="1.0"/>
<path d="M184.20,95.80C184.03,93.80 188.70,91.67 191.00,90.00C193.30,88.33 195.80,86.00 198.00,85.80C200.20,85.60 202.95,86.93 204.20,88.80C205.45,90.67 205.37,94.17 205.50,97.00C205.63,99.83 205.85,104.08 205.00,105.80C204.15,107.52 202.57,107.93 200.40,107.30C198.23,106.67 194.70,103.92 192.00,102.00C189.30,100.08 184.37,97.80 184.20,95.80Z" fill="none" stroke="#e0575a" stroke-width="1.15" stroke-opacity="1.0"/>
<path d="M187.24,96.28C187.11,94.72 190.75,93.06 192.54,91.76C194.33,90.46 196.28,88.64 198.00,88.48C199.72,88.33 201.86,89.37 202.84,90.82C203.81,92.28 203.75,95.01 203.85,97.22C203.95,99.43 204.12,102.75 203.46,104.08C202.80,105.42 201.56,105.75 199.87,105.25C198.18,104.76 195.43,102.62 193.32,101.12C191.21,99.62 187.37,97.84 187.24,96.28Z" fill="none" stroke="#e0575a" stroke-width="0.6" stroke-opacity="0.8"/>
<path d="M200.50,83.00C201.50,83.08 202.82,84.50 203.50,86.00C204.18,87.50 204.48,89.67 204.60,92.00C204.72,94.33 204.80,97.67 204.20,100.00C203.60,102.33 202.37,104.92 201.00,106.00C199.63,107.08 197.58,107.08 196.00,106.50C194.42,105.92 192.42,104.17 191.50,102.50C190.58,100.83 190.17,98.58 190.50,96.50C190.83,94.42 192.33,91.83 193.50,90.00C194.67,88.17 196.33,86.67 197.50,85.50C198.67,84.33 199.50,82.92 200.50,83.00Z" fill="none" stroke="#38b2e0" stroke-width="1.0" stroke-opacity="1.0"/>
<path d="M200.10,85.90C200.90,85.97 201.95,87.10 202.50,88.30C203.05,89.50 203.29,91.23 203.38,93.10C203.47,94.97 203.54,97.63 203.06,99.50C202.58,101.37 201.59,103.43 200.50,104.30C199.41,105.17 197.77,105.17 196.50,104.70C195.23,104.23 193.63,102.83 192.90,101.50C192.17,100.17 191.83,98.37 192.10,96.70C192.37,95.03 193.57,92.97 194.50,91.50C195.43,90.03 196.77,88.83 197.70,87.90C198.63,86.97 199.30,85.83 200.10,85.90Z" fill="none" stroke="#04a5a3" stroke-width="0.6" stroke-opacity="0.85"/>
<path d="M199.78,88.22C200.42,88.27 201.26,89.18 201.70,90.14C202.14,91.10 202.33,92.49 202.40,93.98C202.48,95.47 202.53,97.61 202.15,99.10C201.76,100.59 200.97,102.25 200.10,102.94C199.23,103.63 197.91,103.63 196.90,103.26C195.89,102.89 194.61,101.77 194.02,100.70C193.43,99.63 193.17,98.19 193.38,96.86C193.59,95.53 194.55,93.87 195.30,92.70C196.05,91.53 197.11,90.57 197.86,89.82C198.61,89.07 199.14,88.17 199.78,88.22Z" fill="none" stroke="#38b2e0" stroke-width="0.6" stroke-opacity="0.85"/>
<path d="M199.50,90.25C200.00,90.29 200.66,91.00 201.00,91.75C201.34,92.50 201.49,93.58 201.55,94.75C201.61,95.92 201.65,97.58 201.35,98.75C201.05,99.92 200.43,101.21 199.75,101.75C199.07,102.29 198.04,102.29 197.25,102.00C196.46,101.71 195.46,100.83 195.00,100.00C194.54,99.17 194.33,98.04 194.50,97.00C194.67,95.96 195.42,94.67 196.00,93.75C196.58,92.83 197.42,92.08 198.00,91.50C198.58,90.92 199.00,90.21 199.50,90.25Z" fill="none" stroke="#bb4193" stroke-width="0.6" stroke-opacity="0.85"/>
<path d="M199.26,91.99C199.64,92.02 200.14,92.56 200.40,93.13C200.66,93.70 200.77,94.52 200.82,95.41C200.86,96.30 200.89,97.56 200.67,98.45C200.44,99.34 199.97,100.32 199.45,100.73C198.93,101.14 198.15,101.14 197.55,100.92C196.95,100.70 196.19,100.03 195.84,99.40C195.49,98.77 195.33,97.91 195.46,97.12C195.59,96.33 196.16,95.35 196.60,94.65C197.04,93.95 197.68,93.38 198.12,92.94C198.56,92.50 198.88,91.96 199.26,91.99Z" fill="none" stroke="#6a5aa8" stroke-width="0.6" stroke-opacity="0.85"/>
<path d="M199.02,93.73C199.28,93.75 199.62,94.12 199.80,94.51C199.98,94.90 200.06,95.46 200.09,96.07C200.12,96.68 200.14,97.54 199.98,98.15C199.83,98.76 199.51,99.43 199.15,99.71C198.79,99.99 198.26,99.99 197.85,99.84C197.44,99.69 196.92,99.23 196.68,98.80C196.44,98.37 196.33,97.78 196.42,97.24C196.51,96.70 196.90,96.03 197.20,95.55C197.50,95.07 197.94,94.68 198.24,94.38C198.54,94.08 198.76,93.71 199.02,93.73Z" fill="none" stroke="#bb4193" stroke-width="0.6" stroke-opacity="0.85"/>
<path d="M198.80,95.33C198.95,95.34 199.15,95.55 199.25,95.78C199.35,96.00 199.40,96.33 199.41,96.67C199.43,97.02 199.44,97.53 199.35,97.88C199.26,98.22 199.08,98.61 198.88,98.78C198.67,98.94 198.36,98.94 198.12,98.85C197.89,98.76 197.59,98.50 197.45,98.25C197.31,98.00 197.25,97.66 197.30,97.35C197.35,97.04 197.57,96.65 197.75,96.38C197.93,96.10 198.17,95.88 198.35,95.70C198.53,95.53 198.65,95.31 198.80,95.33Z" fill="none" stroke="#3a237d" stroke-width="0.6" stroke-opacity="0.85"/>
<path d="M33.00,174.00C34.58,167.78 36.83,169.70 39.00,169.70C41.17,169.70 44.40,170.68 46.00,174.00C47.60,177.32 47.10,186.43 48.60,189.60C50.10,192.77 53.10,193.27 55.00,193.00C56.90,192.73 58.92,191.45 60.00,188.00C61.08,184.55 58.67,176.22 61.50,172.30C64.33,168.38 71.52,164.78 77.00,164.50C82.48,164.22 90.48,166.42 94.40,170.60C98.32,174.78 100.20,183.83 100.50,189.60C100.80,195.37 97.12,200.97 96.20,205.20C95.28,209.43 95.58,211.53 95.00,215.00C94.42,218.47 97.98,224.03 92.70,226.00C87.42,227.97 70.52,227.23 63.30,226.80C56.08,226.37 53.15,223.25 49.40,223.40C45.65,223.55 43.97,227.57 40.80,227.70C37.63,227.83 32.28,227.65 30.40,224.20C28.52,220.75 29.07,215.37 29.50,207.00C29.93,198.63 31.42,180.22 33.00,174.00Z" fill="none" stroke="#38b2e0" stroke-width="1.1" stroke-opacity="1.0"/>
<path d="M34.70,177.50C35.85,172.33 36.42,175.58 37.30,176.00C38.18,176.42 38.98,176.28 40.00,180.00C41.02,183.72 42.40,193.97 43.40,198.30C44.40,202.63 43.27,204.85 46.00,206.00C48.73,207.15 56.35,206.78 59.80,205.20C63.25,203.62 63.82,200.83 66.70,196.50C69.58,192.17 74.65,182.80 77.10,179.20C79.55,175.60 79.95,174.60 81.40,174.90C82.85,175.20 83.92,176.53 85.80,181.00C87.68,185.47 90.40,197.67 92.70,201.70C95.00,205.73 98.17,203.18 99.60,205.20C101.03,207.22 101.45,210.33 101.30,213.80C101.15,217.27 103.60,223.68 98.70,226.00C93.80,228.32 79.25,228.13 71.90,227.70C64.55,227.27 60.37,223.12 54.60,223.40C48.83,223.68 41.62,229.83 37.30,229.40C32.98,228.97 29.85,224.53 28.70,220.80C27.55,217.07 29.40,214.22 30.40,207.00C31.40,199.78 33.55,182.67 34.70,177.50Z" fill="none" stroke="#e0575a" stroke-width="1.1" stroke-opacity="1.0"/>
<path d="M33.63,180.30C34.78,177.43 37.07,176.86 38.79,176.86C40.51,176.86 42.73,177.43 43.95,180.30C45.17,183.17 45.89,189.62 46.10,194.06C46.31,198.50 45.10,202.37 45.24,206.96C45.38,211.55 47.75,218.21 46.96,221.58C46.17,224.95 43.02,226.67 40.51,227.17C38.00,227.67 33.56,227.67 31.91,224.59C30.26,221.51 30.62,213.77 30.62,208.68C30.62,203.59 31.41,198.79 31.91,194.06C32.41,189.33 32.48,183.17 33.63,180.30Z" fill="none" stroke="#e0575a" stroke-width="0.55" stroke-opacity="0.8"/>
<path d="M34.17,185.70C35.16,183.23 37.13,182.74 38.61,182.74C40.09,182.74 42.00,183.23 43.05,185.70C44.10,188.17 44.71,193.72 44.90,197.54C45.09,201.36 44.04,204.69 44.16,208.64C44.28,212.59 46.32,218.32 45.64,221.22C44.96,224.12 42.25,225.60 40.09,226.03C37.93,226.46 34.11,226.46 32.69,223.81C31.27,221.16 31.58,214.50 31.58,210.12C31.58,205.74 32.26,201.61 32.69,197.54C33.12,193.47 33.18,188.17 34.17,185.70Z" fill="none" stroke="#38b2e0" stroke-width="0.55" stroke-opacity="0.8"/>
<path d="M34.71,191.10C35.54,189.03 37.19,188.62 38.43,188.62C39.67,188.62 41.27,189.03 42.15,191.10C43.03,193.17 43.55,197.82 43.70,201.02C43.86,204.22 42.98,207.01 43.08,210.32C43.18,213.63 44.89,218.43 44.32,220.86C43.75,223.29 41.48,224.53 39.67,224.89C37.86,225.25 34.66,225.25 33.47,223.03C32.28,220.81 32.54,215.23 32.54,211.56C32.54,207.89 33.11,204.43 33.47,201.02C33.83,197.61 33.88,193.17 34.71,191.10Z" fill="none" stroke="#e0575a" stroke-width="0.55" stroke-opacity="0.8"/>
<path d="M35.25,196.50C35.92,194.83 37.25,194.50 38.25,194.50C39.25,194.50 40.54,194.83 41.25,196.50C41.96,198.17 42.38,201.92 42.50,204.50C42.62,207.08 41.92,209.33 42.00,212.00C42.08,214.67 43.46,218.54 43.00,220.50C42.54,222.46 40.71,223.46 39.25,223.75C37.79,224.04 35.21,224.04 34.25,222.25C33.29,220.46 33.50,215.96 33.50,213.00C33.50,210.04 33.96,207.25 34.25,204.50C34.54,201.75 34.58,198.17 35.25,196.50Z" fill="none" stroke="#38b2e0" stroke-width="0.55" stroke-opacity="0.8"/>
<path d="M35.79,201.90C36.30,200.63 37.31,200.38 38.07,200.38C38.83,200.38 39.81,200.63 40.35,201.90C40.89,203.17 41.20,206.02 41.30,207.98C41.39,209.94 40.86,211.65 40.92,213.68C40.98,215.71 42.03,218.65 41.68,220.14C41.33,221.63 39.94,222.39 38.83,222.61C37.72,222.83 35.76,222.83 35.03,221.47C34.30,220.11 34.46,216.69 34.46,214.44C34.46,212.19 34.81,210.07 35.03,207.98C35.25,205.89 35.28,203.17 35.79,201.90Z" fill="none" stroke="#e0575a" stroke-width="0.55" stroke-opacity="0.8"/>
<path d="M36.28,206.85C36.64,205.95 37.37,205.77 37.91,205.77C38.45,205.77 39.14,205.95 39.52,206.85C39.91,207.75 40.13,209.77 40.20,211.17C40.27,212.56 39.88,213.78 39.93,215.22C39.98,216.66 40.72,218.75 40.47,219.81C40.22,220.87 39.23,221.41 38.45,221.56C37.66,221.72 36.26,221.72 35.74,220.75C35.23,219.79 35.34,217.36 35.34,215.76C35.34,214.16 35.59,212.65 35.74,211.17C35.90,209.69 35.92,207.75 36.28,206.85Z" fill="none" stroke="#8a6ab0" stroke-width="0.55" stroke-opacity="0.8"/>
<path d="M36.78,211.80C36.99,211.27 37.42,211.16 37.74,211.16C38.06,211.16 38.47,211.27 38.70,211.80C38.93,212.33 39.06,213.53 39.10,214.36C39.14,215.19 38.91,215.91 38.94,216.76C38.97,217.61 39.41,218.85 39.26,219.48C39.11,220.11 38.53,220.43 38.06,220.52C37.59,220.61 36.77,220.61 36.46,220.04C36.15,219.47 36.22,218.03 36.22,217.08C36.22,216.13 36.37,215.24 36.46,214.36C36.55,213.48 36.57,212.33 36.78,211.80Z" fill="none" stroke="#e0575a" stroke-width="0.55" stroke-opacity="0.8"/>
<path d="M65.92,177.54C67.07,174.39 70.22,172.24 72.80,170.66C75.38,169.08 77.96,167.71 81.40,168.08C84.84,168.45 90.57,169.37 93.44,172.90C96.31,176.42 98.17,184.45 98.60,189.24C99.03,194.02 97.45,198.41 96.02,201.62C94.59,204.83 93.01,207.50 90.00,208.50C86.99,209.50 81.40,208.93 77.96,207.64C74.52,206.35 71.37,203.77 69.36,200.76C67.35,197.75 66.49,193.45 65.92,189.58C65.35,185.71 64.77,180.69 65.92,177.54Z" fill="none" stroke="#38b2e0" stroke-width="0.55" stroke-opacity="0.8"/>
<path d="M69.56,178.97C70.53,176.29 73.21,174.47 75.40,173.13C77.59,171.79 79.78,170.62 82.70,170.94C85.62,171.26 90.49,172.03 92.92,175.03C95.35,178.02 96.94,184.83 97.30,188.90C97.66,192.96 96.33,196.68 95.11,199.41C93.89,202.14 92.56,204.40 90.00,205.25C87.44,206.10 82.70,205.62 79.78,204.52C76.86,203.43 74.18,201.24 72.48,198.68C70.78,196.12 70.05,192.47 69.56,189.19C69.07,185.91 68.59,181.65 69.56,178.97Z" fill="none" stroke="#38b2e0" stroke-width="0.55" stroke-opacity="0.8"/>
<path d="M73.20,180.40C74.00,178.20 76.20,176.70 78.00,175.60C79.80,174.50 81.60,173.54 84.00,173.80C86.40,174.06 90.40,174.70 92.40,177.16C94.40,179.62 95.70,185.22 96.00,188.56C96.30,191.90 95.20,194.96 94.20,197.20C93.20,199.44 92.10,201.30 90.00,202.00C87.90,202.70 84.00,202.30 81.60,201.40C79.20,200.50 77.00,198.70 75.60,196.60C74.20,194.50 73.60,191.50 73.20,188.80C72.80,186.10 72.40,182.60 73.20,180.40Z" fill="none" stroke="#38b2e0" stroke-width="0.55" stroke-opacity="0.8"/>
<path d="M76.56,181.72C77.20,179.96 78.96,178.76 80.40,177.88C81.84,177.00 83.28,176.23 85.20,176.44C87.12,176.65 90.32,177.16 91.92,179.13C93.52,181.10 94.56,185.58 94.80,188.25C95.04,190.92 94.16,193.37 93.36,195.16C92.56,196.95 91.68,198.44 90.00,199.00C88.32,199.56 85.20,199.24 83.28,198.52C81.36,197.80 79.60,196.36 78.48,194.68C77.36,193.00 76.88,190.60 76.56,188.44C76.24,186.28 75.92,183.48 76.56,181.72Z" fill="none" stroke="#38b2e0" stroke-width="0.55" stroke-opacity="0.8"/>
<path d="M79.92,183.04C80.40,181.72 81.72,180.82 82.80,180.16C83.88,179.50 84.96,178.92 86.40,179.08C87.84,179.24 90.24,179.62 91.44,181.10C92.64,182.57 93.42,185.93 93.60,187.94C93.78,189.94 93.12,191.78 92.52,193.12C91.92,194.46 91.26,195.58 90.00,196.00C88.74,196.42 86.40,196.18 84.96,195.64C83.52,195.10 82.20,194.02 81.36,192.76C80.52,191.50 80.16,189.70 79.92,188.08C79.68,186.46 79.44,184.36 79.92,183.04Z" fill="none" stroke="#38b2e0" stroke-width="0.55" stroke-opacity="0.8"/>
<path d="M83.00,184.25C83.33,183.33 84.25,182.71 85.00,182.25C85.75,181.79 86.50,181.39 87.50,181.50C88.50,181.61 90.17,181.88 91.00,182.90C91.83,183.93 92.38,186.26 92.50,187.65C92.62,189.04 92.17,190.32 91.75,191.25C91.33,192.18 90.88,192.96 90.00,193.25C89.12,193.54 87.50,193.38 86.50,193.00C85.50,192.62 84.58,191.88 84.00,191.00C83.42,190.12 83.17,188.88 83.00,187.75C82.83,186.62 82.67,185.17 83.00,184.25Z" fill="none" stroke="#38b2e0" stroke-width="0.55" stroke-opacity="0.8"/>
<path d="M86.08,185.46C86.27,184.95 86.78,184.60 87.20,184.34C87.62,184.08 88.04,183.86 88.60,183.92C89.16,183.98 90.09,184.13 90.56,184.70C91.03,185.28 91.33,186.58 91.40,187.36C91.47,188.14 91.21,188.86 90.98,189.38C90.75,189.90 90.49,190.34 90.00,190.50C89.51,190.66 88.60,190.57 88.04,190.36C87.48,190.15 86.97,189.73 86.64,189.24C86.31,188.75 86.17,188.05 86.08,187.42C85.99,186.79 85.89,185.97 86.08,185.46Z" fill="none" stroke="#38b2e0" stroke-width="0.55" stroke-opacity="0.8"/>
<path d="M61.30,211.75C62.43,208.78 68.10,206.51 71.50,204.95C74.90,203.39 78.44,202.54 81.70,202.40C84.96,202.26 88.43,202.40 91.05,204.10C93.67,205.80 96.72,209.27 97.42,212.60C98.13,215.93 98.20,221.95 95.30,224.07C92.40,226.20 85.10,225.56 80.00,225.35C74.90,225.14 67.82,225.07 64.70,222.80C61.58,220.53 60.17,214.72 61.30,211.75Z" fill="none" stroke="#e0575a" stroke-width="0.55" stroke-opacity="0.75"/>
<path d="M64.60,212.50C65.53,210.05 70.20,208.18 73.00,206.90C75.80,205.62 78.72,204.92 81.40,204.80C84.08,204.68 86.94,204.80 89.10,206.20C91.26,207.60 93.77,210.46 94.35,213.20C94.93,215.94 94.99,220.90 92.60,222.65C90.21,224.40 84.20,223.88 80.00,223.70C75.80,223.52 69.97,223.47 67.40,221.60C64.83,219.73 63.67,214.95 64.60,212.50Z" fill="none" stroke="#e0575a" stroke-width="0.55" stroke-opacity="0.75"/>
<path d="M67.68,213.20C68.43,211.24 72.16,209.75 74.40,208.72C76.64,207.69 78.97,207.13 81.12,207.04C83.27,206.95 85.55,207.04 87.28,208.16C89.01,209.28 91.01,211.57 91.48,213.76C91.95,215.95 91.99,219.92 90.08,221.32C88.17,222.72 83.36,222.30 80.00,222.16C76.64,222.02 71.97,221.97 69.92,220.48C67.87,218.99 66.93,215.16 67.68,213.20Z" fill="none" stroke="#e0575a" stroke-width="0.55" stroke-opacity="0.75"/>
<path d="M70.54,213.85C71.11,212.34 73.98,211.20 75.70,210.41C77.42,209.62 79.21,209.19 80.86,209.12C82.51,209.05 84.26,209.12 85.59,209.98C86.92,210.84 88.46,212.60 88.81,214.28C89.17,215.96 89.21,219.01 87.74,220.09C86.27,221.16 82.58,220.84 80.00,220.73C77.42,220.62 73.84,220.59 72.26,219.44C70.68,218.29 69.97,215.35 70.54,213.85Z" fill="none" stroke="#e0575a" stroke-width="0.55" stroke-opacity="0.75"/>
<path d="M73.18,214.45C73.59,213.36 75.66,212.54 76.90,211.97C78.14,211.40 79.43,211.09 80.62,211.04C81.81,210.99 83.07,211.04 84.03,211.66C84.99,212.28 86.10,213.55 86.36,214.76C86.61,215.97 86.64,218.17 85.58,218.94C84.52,219.72 81.86,219.49 80.00,219.41C78.14,219.33 75.56,219.31 74.42,218.48C73.28,217.65 72.77,215.53 73.18,214.45Z" fill="none" stroke="#e0575a" stroke-width="0.55" stroke-opacity="0.75"/>
<path d="M75.60,215.00C75.87,214.30 77.20,213.77 78.00,213.40C78.80,213.03 79.63,212.83 80.40,212.80C81.17,212.77 81.98,212.80 82.60,213.20C83.22,213.60 83.93,214.42 84.10,215.20C84.27,215.98 84.28,217.40 83.60,217.90C82.92,218.40 81.20,218.25 80.00,218.20C78.80,218.15 77.13,218.13 76.40,217.60C75.67,217.07 75.33,215.70 75.60,215.00Z" fill="none" stroke="#e0575a" stroke-width="0.55" stroke-opacity="0.75"/>
<path d="M77.80,215.50C77.93,215.15 78.60,214.88 79.00,214.70C79.40,214.52 79.82,214.42 80.20,214.40C80.58,214.38 80.99,214.40 81.30,214.60C81.61,214.80 81.97,215.21 82.05,215.60C82.13,215.99 82.14,216.70 81.80,216.95C81.46,217.20 80.60,217.12 80.00,217.10C79.40,217.07 78.57,217.07 78.20,216.80C77.83,216.53 77.67,215.85 77.80,215.50Z" fill="none" stroke="#e0575a" stroke-width="0.55" stroke-opacity="0.75"/>
<path d="M59.80,211.40C61.00,208.25 67.00,205.85 70.60,204.20C74.20,202.55 77.95,201.65 81.40,201.50C84.85,201.35 88.53,201.50 91.30,203.30C94.07,205.10 97.30,208.78 98.05,212.30C98.80,215.83 98.88,222.20 95.80,224.45C92.72,226.70 85.00,226.03 79.60,225.80C74.20,225.58 66.70,225.50 63.40,223.10C60.10,220.70 58.60,214.55 59.80,211.40Z" fill="none" stroke="#38b2e0" stroke-width="0.45" stroke-opacity="0.55"/>
<path d="M65.20,212.60C66.00,210.50 70.00,208.90 72.40,207.80C74.80,206.70 77.30,206.10 79.60,206.00C81.90,205.90 84.35,206.00 86.20,207.20C88.05,208.40 90.20,210.85 90.70,213.20C91.20,215.55 91.25,219.80 89.20,221.30C87.15,222.80 82.00,222.35 78.40,222.20C74.80,222.05 69.80,222.00 67.60,220.40C65.40,218.80 64.40,214.70 65.20,212.60Z" fill="none" stroke="#38b2e0" stroke-width="0.45" stroke-opacity="0.55"/>
<path d="M69.70,213.60C70.17,212.38 72.50,211.44 73.90,210.80C75.30,210.16 76.76,209.81 78.10,209.75C79.44,209.69 80.87,209.75 81.95,210.45C83.03,211.15 84.28,212.58 84.58,213.95C84.87,215.32 84.90,217.80 83.70,218.68C82.50,219.55 79.50,219.29 77.40,219.20C75.30,219.11 72.38,219.08 71.10,218.15C69.82,217.22 69.23,214.82 69.70,213.60Z" fill="none" stroke="#38b2e0" stroke-width="0.45" stroke-opacity="0.55"/>
<path d="M62.83,204.42C62.36,202.22 66.24,200.71 68.70,197.03C71.15,193.34 75.45,185.38 77.53,182.32C79.62,179.26 79.96,178.41 81.19,178.67C82.42,178.92 83.33,180.05 84.93,183.85C86.53,187.65 88.84,198.02 90.80,201.44C92.75,204.87 95.44,202.71 96.66,204.42C97.88,206.13 100.17,210.34 98.10,211.73C96.04,213.12 88.68,213.00 84.25,212.75C79.82,212.50 75.07,211.59 71.50,210.20C67.93,208.81 63.30,206.62 62.83,204.42Z" fill="none" stroke="#e0575a" stroke-width="0.5" stroke-opacity="0.7"/>
<path d="M46.00,206.00C47.33,203.83 53.17,202.67 56.00,201.00C58.83,199.33 61.33,195.17 63.00,196.00C64.67,196.83 66.83,203.33 66.00,206.00C65.17,208.67 61.00,210.67 58.00,212.00C55.00,213.33 50.00,215.00 48.00,214.00C46.00,213.00 44.67,208.17 46.00,206.00Z" fill="none" stroke="#38b2e0" stroke-width="0.5" stroke-opacity="0.6"/>
<path d="M199.20,160.00C201.25,159.03 204.85,158.07 206.90,159.60C208.95,161.13 210.85,166.32 211.50,169.20C212.15,172.08 211.82,173.68 210.80,176.90C209.78,180.12 207.45,185.82 205.40,188.50C203.35,191.18 200.23,192.75 198.50,193.00C196.77,193.25 195.65,191.67 195.00,190.00C194.35,188.33 195.23,185.43 194.60,183.00C193.97,180.57 191.20,178.33 191.20,175.40C191.20,172.47 193.27,167.97 194.60,165.40C195.93,162.83 197.15,160.97 199.20,160.00Z" fill="none" stroke="#e0575a" stroke-width="1.15" stroke-opacity="1.0"/>
<path d="M200.20,161.16C201.88,160.37 204.84,159.57 206.52,160.83C208.20,162.09 209.76,166.34 210.29,168.70C210.82,171.07 210.55,172.38 209.72,175.02C208.88,177.66 206.97,182.33 205.29,184.53C203.61,186.73 201.05,188.01 199.63,188.22C198.21,188.43 197.29,187.13 196.76,185.76C196.23,184.39 196.95,182.02 196.43,180.02C195.91,178.02 193.64,176.19 193.64,173.79C193.64,171.38 195.34,167.69 196.43,165.59C197.53,163.48 198.52,161.95 200.20,161.16Z" fill="none" stroke="#e0575a" stroke-width="0.6" stroke-opacity="0.85"/>
<path d="M202.00,161.50C203.25,161.17 205.42,161.58 206.50,163.00C207.58,164.42 208.33,167.50 208.50,170.00C208.67,172.50 208.08,175.50 207.50,178.00C206.92,180.50 206.08,183.58 205.00,185.00C203.92,186.42 202.08,187.17 201.00,186.50C199.92,185.83 199.08,183.42 198.50,181.00C197.92,178.58 197.42,174.67 197.50,172.00C197.58,169.33 198.25,166.75 199.00,165.00C199.75,163.25 200.75,161.83 202.00,161.50Z" fill="none" stroke="#38b2e0" stroke-width="0.95" stroke-opacity="1.0"/>
<path d="M202.15,163.30C203.21,163.02 205.05,163.37 205.97,164.57C206.90,165.78 207.53,168.40 207.68,170.53C207.82,172.65 207.32,175.20 206.82,177.32C206.33,179.45 205.62,182.07 204.70,183.28C203.78,184.48 202.22,185.12 201.30,184.55C200.38,183.98 199.67,181.93 199.18,179.88C198.68,177.82 198.25,174.49 198.32,172.22C198.40,169.96 198.96,167.76 199.60,166.28C200.24,164.79 201.09,163.58 202.15,163.30Z" fill="none" stroke="#04a5a3" stroke-width="0.6" stroke-opacity="0.85"/>
<path d="M202.28,164.86C203.18,164.62 204.74,164.92 205.52,165.94C206.30,166.96 206.84,169.18 206.96,170.98C207.08,172.78 206.66,174.94 206.24,176.74C205.82,178.54 205.22,180.76 204.44,181.78C203.66,182.80 202.34,183.34 201.56,182.86C200.78,182.38 200.18,180.64 199.76,178.90C199.34,177.16 198.98,174.34 199.04,172.42C199.10,170.50 199.58,168.64 200.12,167.38C200.66,166.12 201.38,165.10 202.28,164.86Z" fill="none" stroke="#38b2e0" stroke-width="0.6" stroke-opacity="0.85"/>
<path d="M202.40,166.30C203.15,166.10 204.45,166.35 205.10,167.20C205.75,168.05 206.20,169.90 206.30,171.40C206.40,172.90 206.05,174.70 205.70,176.20C205.35,177.70 204.85,179.55 204.20,180.40C203.55,181.25 202.45,181.70 201.80,181.30C201.15,180.90 200.65,179.45 200.30,178.00C199.95,176.55 199.65,174.20 199.70,172.60C199.75,171.00 200.15,169.45 200.60,168.40C201.05,167.35 201.65,166.50 202.40,166.30Z" fill="none" stroke="#6a5aa8" stroke-width="0.6" stroke-opacity="0.85"/>
<path d="M202.52,167.74C203.12,167.58 204.16,167.78 204.68,168.46C205.20,169.14 205.56,170.62 205.64,171.82C205.72,173.02 205.44,174.46 205.16,175.66C204.88,176.86 204.48,178.34 203.96,179.02C203.44,179.70 202.56,180.06 202.04,179.74C201.52,179.42 201.12,178.26 200.84,177.10C200.56,175.94 200.32,174.06 200.36,172.78C200.40,171.50 200.72,170.26 201.08,169.42C201.44,168.58 201.92,167.90 202.52,167.74Z" fill="none" stroke="#bb4193" stroke-width="0.6" stroke-opacity="0.85"/>
<path d="M202.63,169.06C203.09,168.94 203.89,169.09 204.29,169.62C204.70,170.14 204.97,171.28 205.03,172.21C205.10,173.13 204.88,174.24 204.66,175.16C204.45,176.09 204.14,177.23 203.74,177.75C203.34,178.28 202.66,178.56 202.26,178.31C201.86,178.06 201.55,177.17 201.34,176.28C201.12,175.38 200.93,173.93 200.97,172.94C201.00,171.96 201.24,171.00 201.52,170.35C201.80,169.71 202.17,169.18 202.63,169.06Z" fill="none" stroke="#38b2e0" stroke-width="0.6" stroke-opacity="0.85"/>
<path d="M202.73,170.26C203.07,170.17 203.65,170.28 203.94,170.66C204.24,171.05 204.44,171.88 204.49,172.56C204.53,173.23 204.37,174.04 204.22,174.72C204.06,175.39 203.83,176.22 203.54,176.60C203.25,176.99 202.75,177.19 202.46,177.01C202.17,176.83 201.94,176.18 201.78,175.53C201.63,174.87 201.49,173.81 201.51,173.09C201.54,172.38 201.72,171.68 201.92,171.21C202.12,170.73 202.39,170.35 202.73,170.26Z" fill="none" stroke="#6a5aa8" stroke-width="0.6" stroke-opacity="0.85"/>
<path d="M202.83,171.46C203.04,171.40 203.41,171.47 203.59,171.72C203.78,171.96 203.91,172.48 203.94,172.91C203.96,173.33 203.86,173.84 203.76,174.26C203.67,174.69 203.52,175.21 203.34,175.46C203.16,175.70 202.84,175.82 202.66,175.71C202.48,175.60 202.33,175.19 202.24,174.78C202.14,174.36 202.05,173.70 202.06,173.25C202.08,172.79 202.19,172.35 202.32,172.06C202.45,171.76 202.62,171.52 202.83,171.46Z" fill="none" stroke="#bb4193" stroke-width="0.6" stroke-opacity="0.85"/>
<rect x="38.50" y="272.50" width="11.00" height="11.00" fill="#bfe6f5"/>
<rect x="39.00" y="273.00" width="10" height="10" fill="none" stroke="#38b2e0" stroke-width="1"/>
<rect x="41.00" y="275.00" width="6" height="6" fill="none" stroke="#38b2e0" stroke-width="0.7"/>
<rect x="42.80" y="276.80" width="2.4" height="2.4" fill="none" stroke="#38b2e0" stroke-width="0.6"/>
<text x="53.00" y="280.60" font-size="8.6" text-anchor="start" fill="#2a2a2a" stroke="#2a2a2a" stroke-width="0.18" textLength="73" lengthAdjust="spacingAndGlyphs">Benign CD4<tspan font-size="5.5" dy="-3.2">+</tspan><tspan dy="3.2"> T-cells</tspan></text>
<rect x="143.00" y="272.50" width="11.00" height="11.00" fill="#f6c9c3"/>
<rect x="143.50" y="273.00" width="10" height="10" fill="none" stroke="#e0575a" stroke-width="1"/>
<rect x="145.50" y="275.00" width="6" height="6" fill="none" stroke="#e0575a" stroke-width="0.7"/>
<rect x="147.30" y="276.80" width="2.4" height="2.4" fill="none" stroke="#e0575a" stroke-width="0.6"/>
<text x="157.00" y="280.60" font-size="8.6" text-anchor="start" fill="#2a2a2a" stroke="#2a2a2a" stroke-width="0.18" textLength="41.7" lengthAdjust="spacingAndGlyphs">Sézary cells</text>
<text x="261.20" y="9.70" font-size="11.5" text-anchor="start" fill="#111" font-weight="bold" textLength="7.4" lengthAdjust="spacingAndGlyphs">B</text>
<line x1="272.50" y1="25.00" x2="272.50" y2="120.30" stroke="#2a2a2a" stroke-width="1.1"/>
<line x1="272.00" y1="119.80" x2="375.00" y2="119.80" stroke="#2a2a2a" stroke-width="1.1"/>
<text x="324.20" y="129.80" font-size="9.2" text-anchor="middle" fill="#333" stroke="#333" stroke-width="0.18" textLength="14.4" lengthAdjust="spacingAndGlyphs">CD3</text>
<text x="268.00" y="72.50" font-size="9.2" text-anchor="middle" fill="#333" stroke="#333" stroke-width="0.18" textLength="14" lengthAdjust="spacingAndGlyphs" transform="rotate(-90 268.00 72.50)">CD2</text>
<line x1="404.40" y1="25.60" x2="404.40" y2="120.30" stroke="#2a2a2a" stroke-width="1.1"/>
<line x1="403.90" y1="119.80" x2="507.90" y2="119.80" stroke="#2a2a2a" stroke-width="1.1"/>
<text x="456.20" y="129.80" font-size="9.2" text-anchor="middle" fill="#333" stroke="#333" stroke-width="0.18" textLength="14.4" lengthAdjust="spacingAndGlyphs">CD4</text>
<text x="399.40" y="72.20" font-size="9.2" text-anchor="middle" fill="#333" stroke="#333" stroke-width="0.18" textLength="14.5" lengthAdjust="spacingAndGlyphs" transform="rotate(-90 399.40 72.20)">CD8</text>
<line x1="272.50" y1="150.00" x2="272.50" y2="244.70" stroke="#2a2a2a" stroke-width="1.1"/>
<line x1="272.00" y1="244.20" x2="375.50" y2="244.20" stroke="#2a2a2a" stroke-width="1.1"/>
<text x="324.30" y="257.00" font-size="9.2" text-anchor="middle" fill="#333" stroke="#333" stroke-width="0.18" textLength="14.3" lengthAdjust="spacingAndGlyphs">CD7</text>
<text x="268.00" y="196.60" font-size="9.2" text-anchor="middle" fill="#333" stroke="#333" stroke-width="0.18" textLength="19" lengthAdjust="spacingAndGlyphs" transform="rotate(-90 268.00 196.60)">CD26</text>
<line x1="404.40" y1="150.20" x2="404.40" y2="244.70" stroke="#2a2a2a" stroke-width="1.1"/>
<line x1="403.90" y1="244.20" x2="507.90" y2="244.20" stroke="#2a2a2a" stroke-width="1.1"/>
<text x="456.50" y="257.00" font-size="9.2" text-anchor="middle" fill="#333" stroke="#333" stroke-width="0.18" textLength="18.7" lengthAdjust="spacingAndGlyphs">CD45</text>
<text x="399.70" y="197.00" font-size="9.2" text-anchor="middle" fill="#333" stroke="#333" stroke-width="0.18" textLength="15" lengthAdjust="spacingAndGlyphs" transform="rotate(-90 399.70 197.00)">CD5</text>
<circle cx="283.75" cy="51.25" r="1.7" fill="#3a237d" stroke="#000" stroke-opacity="0.3" stroke-width="0.4"/>
<circle cx="285.00" cy="53.25" r="1.7" fill="#3a237d" stroke="#000" stroke-opacity="0.3" stroke-width="0.4"/>
<circle cx="287.00" cy="54.50" r="1.7" fill="#3a237d" stroke="#000" stroke-opacity="0.3" stroke-width="0.4"/>
<circle cx="290.75" cy="53.00" r="1.7" fill="#3a237d" stroke="#000" stroke-opacity="0.3" stroke-width="0.4"/>
<circle cx="293.75" cy="51.75" r="1.7" fill="#3a237d" stroke="#000" stroke-opacity="0.3" stroke-width="0.4"/>
<circle cx="296.25" cy="51.75" r="1.7" fill="#3a237d" stroke="#000" stroke-opacity="0.3" stroke-width="0.4"/>
<circle cx="301.25" cy="55.50" r="1.7" fill="#3a237d" stroke="#000" stroke-opacity="0.3" stroke-width="0.4"/>
<circle cx="302.50" cy="57.00" r="1.7" fill="#3a237d" stroke="#000" stroke-opacity="0.3" stroke-width="0.4"/>
<circle cx="305.50" cy="51.75" r="1.7" fill="#3a237d" stroke="#000" stroke-opacity="0.3" stroke-width="0.4"/>
<circle cx="309.25" cy="50.00" r="1.7" fill="#3a237d" stroke="#000" stroke-opacity="0.3" stroke-width="0.4"/>
<circle cx="311.25" cy="51.75" r="1.7" fill="#3a237d" stroke="#000" stroke-opacity="0.3" stroke-width="0.4"/>
<circle cx="313.75" cy="49.25" r="1.7" fill="#3a237d" stroke="#000" stroke-opacity="0.3" stroke-width="0.4"/>
<circle cx="307.00" cy="50.50" r="1.7" fill="#3a237d" stroke="#000" stroke-opacity="0.3" stroke-width="0.4"/>
<circle cx="305.50" cy="85.50" r="1.7" fill="#3a237d" stroke="#000" stroke-opacity="0.3" stroke-width="0.4"/>
<circle cx="315.50" cy="49.00" r="1.7" fill="#04a5a3" stroke="#000" stroke-opacity="0.3" stroke-width="0.4"/>
<circle cx="318.50" cy="48.00" r="1.7" fill="#04a5a3" stroke="#000" stroke-opacity="0.3" stroke-width="0.4"/>
<circle cx="322.00" cy="50.00" r="1.7" fill="#04a5a3" stroke="#000" stroke-opacity="0.3" stroke-width="0.4"/>
<circle cx="324.50" cy="54.00" r="1.7" fill="#04a5a3" stroke="#000" stroke-opacity="0.3" stroke-width="0.4"/>
<circle cx="326.00" cy="58.50" r="1.7" fill="#04a5a3" stroke="#000" stroke-opacity="0.3" stroke-width="0.4"/>
<circle cx="324.00" cy="61.00" r="1.7" fill="#04a5a3" stroke="#000" stroke-opacity="0.3" stroke-width="0.4"/>
<circle cx="358.00" cy="60.00" r="1.7" fill="#04a5a3" stroke="#000" stroke-opacity="0.3" stroke-width="0.4"/>
<circle cx="359.00" cy="64.00" r="1.7" fill="#04a5a3" stroke="#000" stroke-opacity="0.3" stroke-width="0.4"/>
<circle cx="348.00" cy="67.00" r="1.7" fill="#04a5a3" stroke="#000" stroke-opacity="0.3" stroke-width="0.4"/>
<circle cx="344.00" cy="68.50" r="1.7" fill="#04a5a3" stroke="#000" stroke-opacity="0.3" stroke-width="0.4"/>
<circle cx="341.46" cy="55.81" r="1.7" fill="#04a5a3" stroke="#000" stroke-opacity="0.3" stroke-width="0.4"/>
<circle cx="341.64" cy="51.27" r="1.7" fill="#04a5a3" stroke="#000" stroke-opacity="0.3" stroke-width="0.4"/>
<circle cx="337.42" cy="51.83" r="1.7" fill="#04a5a3" stroke="#000" stroke-opacity="0.3" stroke-width="0.4"/>
<circle cx="349.67" cy="55.33" r="1.7" fill="#04a5a3" stroke="#000" stroke-opacity="0.3" stroke-width="0.4"/>
<circle cx="349.22" cy="54.37" r="1.7" fill="#04a5a3" stroke="#000" stroke-opacity="0.3" stroke-width="0.4"/>
<circle cx="345.37" cy="54.02" r="1.7" fill="#04a5a3" stroke="#000" stroke-opacity="0.3" stroke-width="0.4"/>
<circle cx="333.00" cy="57.70" r="1.7" fill="#04a5a3" stroke="#000" stroke-opacity="0.3" stroke-width="0.4"/>
<circle cx="346.04" cy="55.74" r="1.7" fill="#04a5a3" stroke="#000" stroke-opacity="0.3" stroke-width="0.4"/>
<circle cx="332.85" cy="43.41" r="1.7" fill="#04a5a3" stroke="#000" stroke-opacity="0.3" stroke-width="0.4"/>
<circle cx="337.66" cy="50.42" r="1.7" fill="#04a5a3" stroke="#000" stroke-opacity="0.3" stroke-width="0.4"/>
<circle cx="344.83" cy="52.75" r="1.7" fill="#04a5a3" stroke="#000" stroke-opacity="0.3" stroke-width="0.4"/>
<circle cx="346.13" cy="49.47" r="1.7" fill="#04a5a3" stroke="#000" stroke-opacity="0.3" stroke-width="0.4"/>
<circle cx="344.85" cy="55.17" r="1.7" fill="#04a5a3" stroke="#000" stroke-opacity="0.3" stroke-width="0.4"/>
<circle cx="339.03" cy="62.45" r="1.7" fill="#04a5a3" stroke="#000" stroke-opacity="0.3" stroke-width="0.4"/>
<circle cx="346.34" cy="59.58" r="1.7" fill="#04a5a3" stroke="#000" stroke-opacity="0.3" stroke-width="0.4"/>
<circle cx="339.28" cy="48.93" r="1.7" fill="#04a5a3" stroke="#000" stroke-opacity="0.3" stroke-width="0.4"/>
<circle cx="340.94" cy="52.41" r="1.7" fill="#04a5a3" stroke="#000" stroke-opacity="0.3" stroke-width="0.4"/>
<circle cx="346.79" cy="54.37" r="1.7" fill="#04a5a3" stroke="#000" stroke-opacity="0.3" stroke-width="0.4"/>
<circle cx="340.32" cy="47.74" r="1.7" fill="#04a5a3" stroke="#000" stroke-opacity="0.3" stroke-width="0.4"/>
<circle cx="339.88" cy="59.72" r="1.7" fill="#04a5a3" stroke="#000" stroke-opacity="0.3" stroke-width="0.4"/>
<circle cx="338.15" cy="54.35" r="1.7" fill="#04a5a3" stroke="#000" stroke-opacity="0.3" stroke-width="0.4"/>
<circle cx="345.56" cy="44.81" r="1.7" fill="#04a5a3" stroke="#000" stroke-opacity="0.3" stroke-width="0.4"/>
<circle cx="343.29" cy="60.18" r="1.7" fill="#04a5a3" stroke="#000" stroke-opacity="0.3" stroke-width="0.4"/>
<circle cx="330.91" cy="51.23" r="1.7" fill="#04a5a3" stroke="#000" stroke-opacity="0.3" stroke-width="0.4"/>
<circle cx="342.36" cy="48.51" r="1.7" fill="#04a5a3" stroke="#000" stroke-opacity="0.3" stroke-width="0.4"/>
<circle cx="345.98" cy="52.66" r="1.7" fill="#04a5a3" stroke="#000" stroke-opacity="0.3" stroke-width="0.4"/>
<circle cx="334.21" cy="57.55" r="1.7" fill="#04a5a3" stroke="#000" stroke-opacity="0.3" stroke-width="0.4"/>
<circle cx="347.02" cy="58.20" r="1.7" fill="#04a5a3" stroke="#000" stroke-opacity="0.3" stroke-width="0.4"/>
<circle cx="351.64" cy="54.99" r="1.7" fill="#04a5a3" stroke="#000" stroke-opacity="0.3" stroke-width="0.4"/>
<circle cx="343.72" cy="45.85" r="1.7" fill="#04a5a3" stroke="#000" stroke-opacity="0.3" stroke-width="0.4"/>
<circle cx="346.69" cy="49.64" r="1.7" fill="#04a5a3" stroke="#000" stroke-opacity="0.3" stroke-width="0.4"/>
<circle cx="340.28" cy="46.04" r="1.7" fill="#04a5a3" stroke="#000" stroke-opacity="0.3" stroke-width="0.4"/>
<circle cx="337.19" cy="50.08" r="1.7" fill="#04a5a3" stroke="#000" stroke-opacity="0.3" stroke-width="0.4"/>
<circle cx="350.73" cy="41.83" r="1.7" fill="#04a5a3" stroke="#000" stroke-opacity="0.3" stroke-width="0.4"/>
<circle cx="334.25" cy="54.32" r="1.7" fill="#04a5a3" stroke="#000" stroke-opacity="0.3" stroke-width="0.4"/>
<circle cx="351.66" cy="56.18" r="1.7" fill="#04a5a3" stroke="#000" stroke-opacity="0.3" stroke-width="0.4"/>
<circle cx="345.14" cy="48.95" r="1.7" fill="#04a5a3" stroke="#000" stroke-opacity="0.3" stroke-width="0.4"/>
<circle cx="336.28" cy="58.38" r="1.7" fill="#04a5a3" stroke="#000" stroke-opacity="0.3" stroke-width="0.4"/>
<circle cx="349.61" cy="53.86" r="1.7" fill="#04a5a3" stroke="#000" stroke-opacity="0.3" stroke-width="0.4"/>
<circle cx="344.47" cy="55.39" r="1.7" fill="#04a5a3" stroke="#000" stroke-opacity="0.3" stroke-width="0.4"/>
<circle cx="352.56" cy="56.40" r="1.7" fill="#04a5a3" stroke="#000" stroke-opacity="0.3" stroke-width="0.4"/>
<circle cx="346.11" cy="56.01" r="1.7" fill="#04a5a3" stroke="#000" stroke-opacity="0.3" stroke-width="0.4"/>
<circle cx="333.59" cy="60.05" r="1.7" fill="#04a5a3" stroke="#000" stroke-opacity="0.3" stroke-width="0.4"/>
<circle cx="348.73" cy="55.91" r="1.7" fill="#04a5a3" stroke="#000" stroke-opacity="0.3" stroke-width="0.4"/>
<circle cx="331.16" cy="49.51" r="1.7" fill="#04a5a3" stroke="#000" stroke-opacity="0.3" stroke-width="0.4"/>
<circle cx="348.05" cy="43.04" r="1.7" fill="#04a5a3" stroke="#000" stroke-opacity="0.3" stroke-width="0.4"/>
<circle cx="341.90" cy="58.61" r="1.7" fill="#04a5a3" stroke="#000" stroke-opacity="0.3" stroke-width="0.4"/>
<circle cx="335.13" cy="61.86" r="1.7" fill="#04a5a3" stroke="#000" stroke-opacity="0.3" stroke-width="0.4"/>
<circle cx="346.31" cy="52.17" r="1.7" fill="#04a5a3" stroke="#000" stroke-opacity="0.3" stroke-width="0.4"/>
<circle cx="344.95" cy="56.57" r="1.7" fill="#04a5a3" stroke="#000" stroke-opacity="0.3" stroke-width="0.4"/>
<circle cx="343.72" cy="59.30" r="1.7" fill="#04a5a3" stroke="#000" stroke-opacity="0.3" stroke-width="0.4"/>
<circle cx="339.03" cy="50.72" r="1.7" fill="#04a5a3" stroke="#000" stroke-opacity="0.3" stroke-width="0.4"/>
<circle cx="349.25" cy="53.15" r="1.7" fill="#04a5a3" stroke="#000" stroke-opacity="0.3" stroke-width="0.4"/>
<circle cx="337.72" cy="58.21" r="1.7" fill="#04a5a3" stroke="#000" stroke-opacity="0.3" stroke-width="0.4"/>
<circle cx="351.79" cy="50.55" r="1.7" fill="#04a5a3" stroke="#000" stroke-opacity="0.3" stroke-width="0.4"/>
<circle cx="334.72" cy="52.26" r="1.7" fill="#04a5a3" stroke="#000" stroke-opacity="0.3" stroke-width="0.4"/>
<circle cx="342.11" cy="51.36" r="1.7" fill="#04a5a3" stroke="#000" stroke-opacity="0.3" stroke-width="0.4"/>
<circle cx="351.43" cy="47.35" r="1.7" fill="#04a5a3" stroke="#000" stroke-opacity="0.3" stroke-width="0.4"/>
<circle cx="350.56" cy="46.02" r="1.7" fill="#04a5a3" stroke="#000" stroke-opacity="0.3" stroke-width="0.4"/>
<circle cx="338.28" cy="56.47" r="1.7" fill="#04a5a3" stroke="#000" stroke-opacity="0.3" stroke-width="0.4"/>
<circle cx="349.77" cy="57.72" r="1.7" fill="#04a5a3" stroke="#000" stroke-opacity="0.3" stroke-width="0.4"/>
<circle cx="345.07" cy="53.78" r="1.7" fill="#04a5a3" stroke="#000" stroke-opacity="0.3" stroke-width="0.4"/>
<circle cx="343.91" cy="56.16" r="1.7" fill="#04a5a3" stroke="#000" stroke-opacity="0.3" stroke-width="0.4"/>
<circle cx="341.94" cy="54.53" r="1.7" fill="#04a5a3" stroke="#000" stroke-opacity="0.3" stroke-width="0.4"/>
<circle cx="346.44" cy="53.00" r="1.7" fill="#04a5a3" stroke="#000" stroke-opacity="0.3" stroke-width="0.4"/>
<circle cx="347.58" cy="56.11" r="1.7" fill="#04a5a3" stroke="#000" stroke-opacity="0.3" stroke-width="0.4"/>
<circle cx="355.06" cy="54.79" r="1.7" fill="#04a5a3" stroke="#000" stroke-opacity="0.3" stroke-width="0.4"/>
<circle cx="340.43" cy="50.95" r="1.7" fill="#04a5a3" stroke="#000" stroke-opacity="0.3" stroke-width="0.4"/>
<circle cx="342.92" cy="58.08" r="1.7" fill="#04a5a3" stroke="#000" stroke-opacity="0.3" stroke-width="0.4"/>
<circle cx="340.98" cy="55.12" r="1.7" fill="#04a5a3" stroke="#000" stroke-opacity="0.3" stroke-width="0.4"/>
<circle cx="336.26" cy="54.34" r="1.7" fill="#04a5a3" stroke="#000" stroke-opacity="0.3" stroke-width="0.4"/>
<circle cx="345.39" cy="54.31" r="1.7" fill="#04a5a3" stroke="#000" stroke-opacity="0.3" stroke-width="0.4"/>
<circle cx="340.41" cy="56.60" r="1.7" fill="#04a5a3" stroke="#000" stroke-opacity="0.3" stroke-width="0.4"/>
<circle cx="344.69" cy="50.13" r="1.7" fill="#04a5a3" stroke="#000" stroke-opacity="0.3" stroke-width="0.4"/>
<circle cx="357.58" cy="54.95" r="1.7" fill="#04a5a3" stroke="#000" stroke-opacity="0.3" stroke-width="0.4"/>
<circle cx="319.00" cy="49.50" r="1.7" fill="#bb4193" stroke="#000" stroke-opacity="0.3" stroke-width="0.4"/>
<circle cx="334.00" cy="45.00" r="1.7" fill="#bb4193" stroke="#000" stroke-opacity="0.3" stroke-width="0.4"/>
<circle cx="337.00" cy="46.50" r="1.7" fill="#bb4193" stroke="#000" stroke-opacity="0.3" stroke-width="0.4"/>
<circle cx="346.00" cy="44.00" r="1.7" fill="#bb4193" stroke="#000" stroke-opacity="0.3" stroke-width="0.4"/>
<circle cx="353.00" cy="51.00" r="1.7" fill="#bb4193" stroke="#000" stroke-opacity="0.3" stroke-width="0.4"/>
<circle cx="324.00" cy="60.00" r="1.7" fill="#bb4193" stroke="#000" stroke-opacity="0.3" stroke-width="0.4"/>
<circle cx="351.00" cy="43.50" r="1.7" fill="#bb4193" stroke="#000" stroke-opacity="0.3" stroke-width="0.4"/>
<circle cx="355.00" cy="56.00" r="1.7" fill="#bb4193" stroke="#000" stroke-opacity="0.3" stroke-width="0.4"/>
<circle cx="340.00" cy="87.40" r="1.7" fill="#e27d1a" stroke="#000" stroke-opacity="0.3" stroke-width="0.4"/>
<circle cx="343.80" cy="90.10" r="1.7" fill="#e27d1a" stroke="#000" stroke-opacity="0.3" stroke-width="0.4"/>
<circle cx="344.10" cy="91.80" r="1.7" fill="#e27d1a" stroke="#000" stroke-opacity="0.3" stroke-width="0.4"/>
<circle cx="351.50" cy="92.10" r="1.7" fill="#e27d1a" stroke="#000" stroke-opacity="0.3" stroke-width="0.4"/>
<circle cx="337.40" cy="94.50" r="1.7" fill="#e27d1a" stroke="#000" stroke-opacity="0.3" stroke-width="0.4"/>
<circle cx="346.80" cy="94.50" r="1.7" fill="#e27d1a" stroke="#000" stroke-opacity="0.3" stroke-width="0.4"/>
<circle cx="347.50" cy="96.20" r="1.7" fill="#e27d1a" stroke="#000" stroke-opacity="0.3" stroke-width="0.4"/>
<circle cx="344.10" cy="99.20" r="1.7" fill="#e27d1a" stroke="#000" stroke-opacity="0.3" stroke-width="0.4"/>
<circle cx="337.70" cy="100.20" r="1.7" fill="#e27d1a" stroke="#000" stroke-opacity="0.3" stroke-width="0.4"/>
<circle cx="337.40" cy="102.20" r="1.7" fill="#e27d1a" stroke="#000" stroke-opacity="0.3" stroke-width="0.4"/>
<circle cx="349.90" cy="99.90" r="1.7" fill="#e27d1a" stroke="#000" stroke-opacity="0.3" stroke-width="0.4"/>
<circle cx="341.40" cy="107.60" r="1.7" fill="#e27d1a" stroke="#000" stroke-opacity="0.3" stroke-width="0.4"/>
<circle cx="344.80" cy="108.60" r="1.7" fill="#e27d1a" stroke="#000" stroke-opacity="0.3" stroke-width="0.4"/>
<circle cx="347.50" cy="108.60" r="1.7" fill="#e27d1a" stroke="#000" stroke-opacity="0.3" stroke-width="0.4"/>
<circle cx="349.20" cy="108.60" r="1.7" fill="#e27d1a" stroke="#000" stroke-opacity="0.3" stroke-width="0.4"/>
<circle cx="342.00" cy="97.00" r="1.7" fill="#e27d1a" stroke="#000" stroke-opacity="0.3" stroke-width="0.4"/>
<circle cx="339.00" cy="104.00" r="1.7" fill="#e27d1a" stroke="#000" stroke-opacity="0.3" stroke-width="0.4"/>
<circle cx="358.30" cy="91.40" r="1.7" fill="#9a6a50" stroke="#000" stroke-opacity="0.3" stroke-width="0.4"/>
<circle cx="340.80" cy="93.50" r="1.7" fill="#bb4193" stroke="#000" stroke-opacity="0.3" stroke-width="0.4"/>
<circle cx="345.00" cy="77.50" r="1.7" fill="#2aa537" stroke="#000" stroke-opacity="0.3" stroke-width="0.4"/>
<circle cx="346.20" cy="87.70" r="1.7" fill="#2aa537" stroke="#000" stroke-opacity="0.3" stroke-width="0.4"/>
<circle cx="468.39" cy="92.08" r="1.5" fill="#04a5a3" stroke="#000" stroke-opacity="0.3" stroke-width="0.4"/>
<circle cx="469.05" cy="92.24" r="1.5" fill="#04a5a3" stroke="#000" stroke-opacity="0.3" stroke-width="0.4"/>
<circle cx="464.04" cy="90.46" r="1.5" fill="#04a5a3" stroke="#000" stroke-opacity="0.3" stroke-width="0.4"/>
<circle cx="471.52" cy="87.59" r="1.5" fill="#04a5a3" stroke="#000" stroke-opacity="0.3" stroke-width="0.4"/>
<circle cx="469.37" cy="96.50" r="1.5" fill="#04a5a3" stroke="#000" stroke-opacity="0.3" stroke-width="0.4"/>
<circle cx="471.21" cy="98.76" r="1.5" fill="#04a5a3" stroke="#000" stroke-opacity="0.3" stroke-width="0.4"/>
<circle cx="466.10" cy="91.02" r="1.5" fill="#04a5a3" stroke="#000" stroke-opacity="0.3" stroke-width="0.4"/>
<circle cx="468.82" cy="95.12" r="1.5" fill="#04a5a3" stroke="#000" stroke-opacity="0.3" stroke-width="0.4"/>
<circle cx="471.68" cy="86.42" r="1.5" fill="#04a5a3" stroke="#000" stroke-opacity="0.3" stroke-width="0.4"/>
<circle cx="470.87" cy="86.23" r="1.5" fill="#04a5a3" stroke="#000" stroke-opacity="0.3" stroke-width="0.4"/>
<circle cx="469.85" cy="97.52" r="1.5" fill="#04a5a3" stroke="#000" stroke-opacity="0.3" stroke-width="0.4"/>
<circle cx="469.20" cy="93.30" r="1.5" fill="#04a5a3" stroke="#000" stroke-opacity="0.3" stroke-width="0.4"/>
<circle cx="471.09" cy="93.09" r="1.5" fill="#04a5a3" stroke="#000" stroke-opacity="0.3" stroke-width="0.4"/>
<circle cx="469.32" cy="98.94" r="1.5" fill="#04a5a3" stroke="#000" stroke-opacity="0.3" stroke-width="0.4"/>
<circle cx="471.60" cy="91.27" r="1.5" fill="#04a5a3" stroke="#000" stroke-opacity="0.3" stroke-width="0.4"/>
<circle cx="474.99" cy="87.68" r="1.5" fill="#04a5a3" stroke="#000" stroke-opacity="0.3" stroke-width="0.4"/>
<circle cx="471.33" cy="91.38" r="1.5" fill="#04a5a3" stroke="#000" stroke-opacity="0.3" stroke-width="0.4"/>
<circle cx="469.76" cy="95.46" r="1.5" fill="#04a5a3" stroke="#000" stroke-opacity="0.3" stroke-width="0.4"/>
<circle cx="469.94" cy="95.18" r="1.5" fill="#04a5a3" stroke="#000" stroke-opacity="0.3" stroke-width="0.4"/>
<circle cx="466.45" cy="86.16" r="1.5" fill="#04a5a3" stroke="#000" stroke-opacity="0.3" stroke-width="0.4"/>
<circle cx="470.73" cy="88.45" r="1.5" fill="#04a5a3" stroke="#000" stroke-opacity="0.3" stroke-width="0.4"/>
<circle cx="467.45" cy="86.33" r="1.5" fill="#04a5a3" stroke="#000" stroke-opacity="0.3" stroke-width="0.4"/>
<circle cx="472.03" cy="95.64" r="1.5" fill="#04a5a3" stroke="#000" stroke-opacity="0.3" stroke-width="0.4"/>
<circle cx="472.45" cy="88.56" r="1.5" fill="#04a5a3" stroke="#000" stroke-opacity="0.3" stroke-width="0.4"/>
<circle cx="469.50" cy="87.71" r="1.5" fill="#04a5a3" stroke="#000" stroke-opacity="0.3" stroke-width="0.4"/>
<circle cx="471.03" cy="99.18" r="1.5" fill="#04a5a3" stroke="#000" stroke-opacity="0.3" stroke-width="0.4"/>
<circle cx="467.72" cy="99.05" r="1.5" fill="#04a5a3" stroke="#000" stroke-opacity="0.3" stroke-width="0.4"/>
<circle cx="471.48" cy="91.75" r="1.5" fill="#04a5a3" stroke="#000" stroke-opacity="0.3" stroke-width="0.4"/>
<circle cx="465.56" cy="98.41" r="1.5" fill="#04a5a3" stroke="#000" stroke-opacity="0.3" stroke-width="0.4"/>
<circle cx="469.31" cy="89.97" r="1.5" fill="#04a5a3" stroke="#000" stroke-opacity="0.3" stroke-width="0.4"/>
<circle cx="470.30" cy="94.22" r="1.5" fill="#04a5a3" stroke="#000" stroke-opacity="0.3" stroke-width="0.4"/>
<circle cx="472.50" cy="88.22" r="1.5" fill="#04a5a3" stroke="#000" stroke-opacity="0.3" stroke-width="0.4"/>
<circle cx="471.77" cy="98.75" r="1.5" fill="#04a5a3" stroke="#000" stroke-opacity="0.3" stroke-width="0.4"/>
<circle cx="472.40" cy="91.74" r="1.5" fill="#04a5a3" stroke="#000" stroke-opacity="0.3" stroke-width="0.4"/>
<circle cx="468.01" cy="96.78" r="1.5" fill="#04a5a3" stroke="#000" stroke-opacity="0.3" stroke-width="0.4"/>
<circle cx="469.73" cy="93.02" r="1.5" fill="#04a5a3" stroke="#000" stroke-opacity="0.3" stroke-width="0.4"/>
<circle cx="472.35" cy="91.39" r="1.5" fill="#04a5a3" stroke="#000" stroke-opacity="0.3" stroke-width="0.4"/>
<circle cx="464.91" cy="90.87" r="1.5" fill="#04a5a3" stroke="#000" stroke-opacity="0.3" stroke-width="0.4"/>
<circle cx="465.79" cy="95.94" r="1.5" fill="#04a5a3" stroke="#000" stroke-opacity="0.3" stroke-width="0.4"/>
<circle cx="470.13" cy="89.93" r="1.5" fill="#04a5a3" stroke="#000" stroke-opacity="0.3" stroke-width="0.4"/>
<circle cx="471.00" cy="80.00" r="1.5" fill="#04a5a3" stroke="#000" stroke-opacity="0.3" stroke-width="0.4"/>
<circle cx="470.50" cy="85.00" r="1.5" fill="#04a5a3" stroke="#000" stroke-opacity="0.3" stroke-width="0.4"/>
<circle cx="469.00" cy="87.00" r="1.5" fill="#04a5a3" stroke="#000" stroke-opacity="0.3" stroke-width="0.4"/>
<circle cx="473.50" cy="89.00" r="1.5" fill="#04a5a3" stroke="#000" stroke-opacity="0.3" stroke-width="0.4"/>
<circle cx="474.00" cy="93.00" r="1.5" fill="#04a5a3" stroke="#000" stroke-opacity="0.3" stroke-width="0.4"/>
<circle cx="462.00" cy="96.00" r="1.5" fill="#04a5a3" stroke="#000" stroke-opacity="0.3" stroke-width="0.4"/>
<circle cx="459.00" cy="96.50" r="1.5" fill="#04a5a3" stroke="#000" stroke-opacity="0.3" stroke-width="0.4"/>
<circle cx="456.00" cy="97.00" r="1.5" fill="#04a5a3" stroke="#000" stroke-opacity="0.3" stroke-width="0.4"/>
<circle cx="464.00" cy="101.00" r="1.5" fill="#04a5a3" stroke="#000" stroke-opacity="0.3" stroke-width="0.4"/>
<circle cx="466.00" cy="103.50" r="1.5" fill="#04a5a3" stroke="#000" stroke-opacity="0.3" stroke-width="0.4"/>
<circle cx="467.50" cy="105.00" r="1.5" fill="#04a5a3" stroke="#000" stroke-opacity="0.3" stroke-width="0.4"/>
<circle cx="465.00" cy="99.00" r="1.5" fill="#04a5a3" stroke="#000" stroke-opacity="0.3" stroke-width="0.4"/>
<circle cx="466.98" cy="98.42" r="1.5" fill="#3a237d" stroke="#000" stroke-opacity="0.3" stroke-width="0.4"/>
<circle cx="467.18" cy="98.96" r="1.5" fill="#3a237d" stroke="#000" stroke-opacity="0.3" stroke-width="0.4"/>
<circle cx="466.86" cy="98.64" r="1.5" fill="#3a237d" stroke="#000" stroke-opacity="0.3" stroke-width="0.4"/>
<circle cx="470.43" cy="99.27" r="1.5" fill="#3a237d" stroke="#000" stroke-opacity="0.3" stroke-width="0.4"/>
<circle cx="465.45" cy="98.47" r="1.5" fill="#3a237d" stroke="#000" stroke-opacity="0.3" stroke-width="0.4"/>
<circle cx="462.69" cy="96.31" r="1.5" fill="#3a237d" stroke="#000" stroke-opacity="0.3" stroke-width="0.4"/>
<circle cx="462.49" cy="98.68" r="1.5" fill="#3a237d" stroke="#000" stroke-opacity="0.3" stroke-width="0.4"/>
<circle cx="464.17" cy="97.49" r="1.5" fill="#3a237d" stroke="#000" stroke-opacity="0.3" stroke-width="0.4"/>
<circle cx="466.56" cy="97.47" r="1.5" fill="#3a237d" stroke="#000" stroke-opacity="0.3" stroke-width="0.4"/>
<circle cx="465.64" cy="97.76" r="1.5" fill="#3a237d" stroke="#000" stroke-opacity="0.3" stroke-width="0.4"/>
<circle cx="471.12" cy="97.55" r="1.5" fill="#3a237d" stroke="#000" stroke-opacity="0.3" stroke-width="0.4"/>
<circle cx="468.22" cy="98.60" r="1.5" fill="#3a237d" stroke="#000" stroke-opacity="0.3" stroke-width="0.4"/>
<circle cx="466.54" cy="96.11" r="1.5" fill="#3a237d" stroke="#000" stroke-opacity="0.3" stroke-width="0.4"/>
<circle cx="465.72" cy="98.68" r="1.5" fill="#3a237d" stroke="#000" stroke-opacity="0.3" stroke-width="0.4"/>
<circle cx="454.50" cy="96.00" r="1.5" fill="#3a237d" stroke="#000" stroke-opacity="0.3" stroke-width="0.4"/>
<circle cx="456.50" cy="98.00" r="1.5" fill="#3a237d" stroke="#000" stroke-opacity="0.3" stroke-width="0.4"/>
<circle cx="461.00" cy="91.50" r="1.5" fill="#c0785a" stroke="#000" stroke-opacity="0.3" stroke-width="0.4"/>
<circle cx="475.00" cy="98.50" r="1.5" fill="#bb4193" stroke="#000" stroke-opacity="0.3" stroke-width="0.4"/>
<circle cx="285.50" cy="171.00" r="1.7" fill="#2aa537" stroke="#000" stroke-opacity="0.3" stroke-width="0.4"/>
<circle cx="288.00" cy="174.50" r="1.7" fill="#2aa537" stroke="#000" stroke-opacity="0.3" stroke-width="0.4"/>
<circle cx="289.50" cy="176.50" r="1.7" fill="#2aa537" stroke="#000" stroke-opacity="0.3" stroke-width="0.4"/>
<circle cx="292.00" cy="179.50" r="1.7" fill="#2aa537" stroke="#000" stroke-opacity="0.3" stroke-width="0.4"/>
<circle cx="285.00" cy="183.00" r="1.7" fill="#2aa537" stroke="#000" stroke-opacity="0.3" stroke-width="0.4"/>
<circle cx="288.50" cy="184.50" r="1.7" fill="#2aa537" stroke="#000" stroke-opacity="0.3" stroke-width="0.4"/>
<circle cx="291.50" cy="186.00" r="1.7" fill="#2aa537" stroke="#000" stroke-opacity="0.3" stroke-width="0.4"/>
<circle cx="294.00" cy="187.50" r="1.7" fill="#2aa537" stroke="#000" stroke-opacity="0.3" stroke-width="0.4"/>
<circle cx="283.50" cy="194.00" r="1.7" fill="#2aa537" stroke="#000" stroke-opacity="0.3" stroke-width="0.4"/>
<circle cx="287.00" cy="196.00" r="1.7" fill="#2aa537" stroke="#000" stroke-opacity="0.3" stroke-width="0.4"/>
<circle cx="289.50" cy="199.50" r="1.7" fill="#2aa537" stroke="#000" stroke-opacity="0.3" stroke-width="0.4"/>
<circle cx="292.00" cy="202.00" r="1.7" fill="#2aa537" stroke="#000" stroke-opacity="0.3" stroke-width="0.4"/>
<circle cx="287.00" cy="190.00" r="1.7" fill="#2aa537" stroke="#000" stroke-opacity="0.3" stroke-width="0.4"/>
<circle cx="290.00" cy="192.00" r="1.7" fill="#2aa537" stroke="#000" stroke-opacity="0.3" stroke-width="0.4"/>
<circle cx="284.00" cy="178.00" r="1.7" fill="#2aa537" stroke="#000" stroke-opacity="0.3" stroke-width="0.4"/>
<circle cx="283.09" cy="219.85" r="1.7" fill="#04a5a3" stroke="#000" stroke-opacity="0.3" stroke-width="0.4"/>
<circle cx="294.23" cy="224.85" r="1.7" fill="#04a5a3" stroke="#000" stroke-opacity="0.3" stroke-width="0.4"/>
<circle cx="290.03" cy="224.90" r="1.7" fill="#04a5a3" stroke="#000" stroke-opacity="0.3" stroke-width="0.4"/>
<circle cx="290.70" cy="217.76" r="1.7" fill="#04a5a3" stroke="#000" stroke-opacity="0.3" stroke-width="0.4"/>
<circle cx="283.43" cy="219.70" r="1.7" fill="#04a5a3" stroke="#000" stroke-opacity="0.3" stroke-width="0.4"/>
<circle cx="293.88" cy="219.96" r="1.7" fill="#04a5a3" stroke="#000" stroke-opacity="0.3" stroke-width="0.4"/>
<circle cx="286.21" cy="219.22" r="1.7" fill="#04a5a3" stroke="#000" stroke-opacity="0.3" stroke-width="0.4"/>
<circle cx="283.57" cy="221.58" r="1.7" fill="#04a5a3" stroke="#000" stroke-opacity="0.3" stroke-width="0.4"/>
<circle cx="285.05" cy="223.31" r="1.7" fill="#04a5a3" stroke="#000" stroke-opacity="0.3" stroke-width="0.4"/>
<circle cx="287.31" cy="215.01" r="1.7" fill="#04a5a3" stroke="#000" stroke-opacity="0.3" stroke-width="0.4"/>
<circle cx="293.04" cy="221.01" r="1.7" fill="#04a5a3" stroke="#000" stroke-opacity="0.3" stroke-width="0.4"/>
<circle cx="291.22" cy="220.35" r="1.7" fill="#04a5a3" stroke="#000" stroke-opacity="0.3" stroke-width="0.4"/>
<circle cx="293.28" cy="224.69" r="1.7" fill="#04a5a3" stroke="#000" stroke-opacity="0.3" stroke-width="0.4"/>
<circle cx="292.80" cy="223.18" r="1.7" fill="#04a5a3" stroke="#000" stroke-opacity="0.3" stroke-width="0.4"/>
<circle cx="295.60" cy="224.38" r="1.7" fill="#04a5a3" stroke="#000" stroke-opacity="0.3" stroke-width="0.4"/>
<circle cx="291.90" cy="214.50" r="1.7" fill="#04a5a3" stroke="#000" stroke-opacity="0.3" stroke-width="0.4"/>
<circle cx="293.77" cy="226.71" r="1.7" fill="#04a5a3" stroke="#000" stroke-opacity="0.3" stroke-width="0.4"/>
<circle cx="288.75" cy="220.31" r="1.7" fill="#04a5a3" stroke="#000" stroke-opacity="0.3" stroke-width="0.4"/>
<circle cx="298.15" cy="215.67" r="1.7" fill="#04a5a3" stroke="#000" stroke-opacity="0.3" stroke-width="0.4"/>
<circle cx="291.97" cy="230.73" r="1.7" fill="#04a5a3" stroke="#000" stroke-opacity="0.3" stroke-width="0.4"/>
<circle cx="286.10" cy="224.48" r="1.7" fill="#04a5a3" stroke="#000" stroke-opacity="0.3" stroke-width="0.4"/>
<circle cx="297.92" cy="221.57" r="1.7" fill="#04a5a3" stroke="#000" stroke-opacity="0.3" stroke-width="0.4"/>
<circle cx="292.36" cy="225.25" r="1.7" fill="#04a5a3" stroke="#000" stroke-opacity="0.3" stroke-width="0.4"/>
<circle cx="286.20" cy="221.68" r="1.7" fill="#04a5a3" stroke="#000" stroke-opacity="0.3" stroke-width="0.4"/>
<circle cx="291.23" cy="224.97" r="1.7" fill="#04a5a3" stroke="#000" stroke-opacity="0.3" stroke-width="0.4"/>
<circle cx="289.85" cy="221.30" r="1.7" fill="#04a5a3" stroke="#000" stroke-opacity="0.3" stroke-width="0.4"/>
<circle cx="285.73" cy="220.71" r="1.7" fill="#04a5a3" stroke="#000" stroke-opacity="0.3" stroke-width="0.4"/>
<circle cx="293.75" cy="222.37" r="1.7" fill="#04a5a3" stroke="#000" stroke-opacity="0.3" stroke-width="0.4"/>
<circle cx="286.42" cy="218.97" r="1.7" fill="#04a5a3" stroke="#000" stroke-opacity="0.3" stroke-width="0.4"/>
<circle cx="292.68" cy="212.67" r="1.7" fill="#04a5a3" stroke="#000" stroke-opacity="0.3" stroke-width="0.4"/>
<circle cx="292.61" cy="223.73" r="1.7" fill="#04a5a3" stroke="#000" stroke-opacity="0.3" stroke-width="0.4"/>
<circle cx="297.07" cy="223.54" r="1.7" fill="#04a5a3" stroke="#000" stroke-opacity="0.3" stroke-width="0.4"/>
<circle cx="289.72" cy="223.88" r="1.7" fill="#04a5a3" stroke="#000" stroke-opacity="0.3" stroke-width="0.4"/>
<circle cx="281.83" cy="225.72" r="1.7" fill="#04a5a3" stroke="#000" stroke-opacity="0.3" stroke-width="0.4"/>
<circle cx="291.36" cy="219.47" r="1.7" fill="#04a5a3" stroke="#000" stroke-opacity="0.3" stroke-width="0.4"/>
<circle cx="295.57" cy="228.51" r="1.7" fill="#04a5a3" stroke="#000" stroke-opacity="0.3" stroke-width="0.4"/>
<circle cx="284.11" cy="219.60" r="1.7" fill="#04a5a3" stroke="#000" stroke-opacity="0.3" stroke-width="0.4"/>
<circle cx="291.22" cy="222.66" r="1.7" fill="#04a5a3" stroke="#000" stroke-opacity="0.3" stroke-width="0.4"/>
<circle cx="288.33" cy="218.49" r="1.7" fill="#04a5a3" stroke="#000" stroke-opacity="0.3" stroke-width="0.4"/>
<circle cx="298.91" cy="225.73" r="1.7" fill="#04a5a3" stroke="#000" stroke-opacity="0.3" stroke-width="0.4"/>
<circle cx="284.98" cy="217.16" r="1.7" fill="#04a5a3" stroke="#000" stroke-opacity="0.3" stroke-width="0.4"/>
<circle cx="297.15" cy="225.56" r="1.7" fill="#04a5a3" stroke="#000" stroke-opacity="0.3" stroke-width="0.4"/>
<circle cx="297.65" cy="224.92" r="1.7" fill="#04a5a3" stroke="#000" stroke-opacity="0.3" stroke-width="0.4"/>
<circle cx="286.34" cy="222.94" r="1.7" fill="#04a5a3" stroke="#000" stroke-opacity="0.3" stroke-width="0.4"/>
<circle cx="289.75" cy="223.88" r="1.7" fill="#04a5a3" stroke="#000" stroke-opacity="0.3" stroke-width="0.4"/>
<circle cx="286.94" cy="221.55" r="1.7" fill="#04a5a3" stroke="#000" stroke-opacity="0.3" stroke-width="0.4"/>
<circle cx="291.93" cy="223.36" r="1.7" fill="#04a5a3" stroke="#000" stroke-opacity="0.3" stroke-width="0.4"/>
<circle cx="292.68" cy="222.75" r="1.7" fill="#04a5a3" stroke="#000" stroke-opacity="0.3" stroke-width="0.4"/>
<circle cx="288.64" cy="224.84" r="1.7" fill="#04a5a3" stroke="#000" stroke-opacity="0.3" stroke-width="0.4"/>
<circle cx="290.21" cy="219.03" r="1.7" fill="#04a5a3" stroke="#000" stroke-opacity="0.3" stroke-width="0.4"/>
<circle cx="287.37" cy="222.00" r="1.7" fill="#04a5a3" stroke="#000" stroke-opacity="0.3" stroke-width="0.4"/>
<circle cx="289.54" cy="222.57" r="1.7" fill="#04a5a3" stroke="#000" stroke-opacity="0.3" stroke-width="0.4"/>
<circle cx="290.00" cy="222.63" r="1.7" fill="#04a5a3" stroke="#000" stroke-opacity="0.3" stroke-width="0.4"/>
<circle cx="289.44" cy="217.47" r="1.7" fill="#04a5a3" stroke="#000" stroke-opacity="0.3" stroke-width="0.4"/>
<circle cx="291.77" cy="225.79" r="1.7" fill="#04a5a3" stroke="#000" stroke-opacity="0.3" stroke-width="0.4"/>
<circle cx="291.83" cy="221.32" r="1.7" fill="#04a5a3" stroke="#000" stroke-opacity="0.3" stroke-width="0.4"/>
<circle cx="291.88" cy="218.52" r="1.7" fill="#04a5a3" stroke="#000" stroke-opacity="0.3" stroke-width="0.4"/>
<circle cx="282.04" cy="222.21" r="1.7" fill="#04a5a3" stroke="#000" stroke-opacity="0.3" stroke-width="0.4"/>
<circle cx="286.09" cy="224.66" r="1.7" fill="#04a5a3" stroke="#000" stroke-opacity="0.3" stroke-width="0.4"/>
<circle cx="285.45" cy="212.54" r="1.7" fill="#04a5a3" stroke="#000" stroke-opacity="0.3" stroke-width="0.4"/>
<circle cx="285.63" cy="227.68" r="1.7" fill="#04a5a3" stroke="#000" stroke-opacity="0.3" stroke-width="0.4"/>
<circle cx="288.40" cy="217.07" r="1.7" fill="#04a5a3" stroke="#000" stroke-opacity="0.3" stroke-width="0.4"/>
<circle cx="290.32" cy="212.60" r="1.7" fill="#3a237d" stroke="#000" stroke-opacity="0.3" stroke-width="0.4"/>
<circle cx="293.09" cy="210.88" r="1.7" fill="#3a237d" stroke="#000" stroke-opacity="0.3" stroke-width="0.4"/>
<circle cx="295.26" cy="213.53" r="1.7" fill="#3a237d" stroke="#000" stroke-opacity="0.3" stroke-width="0.4"/>
<circle cx="291.95" cy="212.98" r="1.7" fill="#3a237d" stroke="#000" stroke-opacity="0.3" stroke-width="0.4"/>
<circle cx="295.64" cy="214.86" r="1.7" fill="#3a237d" stroke="#000" stroke-opacity="0.3" stroke-width="0.4"/>
<circle cx="294.25" cy="204.59" r="1.7" fill="#3a237d" stroke="#000" stroke-opacity="0.3" stroke-width="0.4"/>
<circle cx="291.67" cy="213.65" r="1.7" fill="#3a237d" stroke="#000" stroke-opacity="0.3" stroke-width="0.4"/>
<circle cx="291.35" cy="215.34" r="1.7" fill="#3a237d" stroke="#000" stroke-opacity="0.3" stroke-width="0.4"/>
<circle cx="293.31" cy="214.54" r="1.7" fill="#3a237d" stroke="#000" stroke-opacity="0.3" stroke-width="0.4"/>
<circle cx="294.73" cy="208.92" r="1.7" fill="#3a237d" stroke="#000" stroke-opacity="0.3" stroke-width="0.4"/>
<circle cx="291.24" cy="214.37" r="1.7" fill="#3a237d" stroke="#000" stroke-opacity="0.3" stroke-width="0.4"/>
<circle cx="293.00" cy="240.50" r="1.7" fill="#04a5a3" stroke="#000" stroke-opacity="0.3" stroke-width="0.4"/>
<circle cx="301.20" cy="213.20" r="1.7" fill="#04a5a3" stroke="#000" stroke-opacity="0.3" stroke-width="0.4"/>
<circle cx="310.00" cy="215.00" r="1.7" fill="#04a5a3" stroke="#000" stroke-opacity="0.3" stroke-width="0.4"/>
<circle cx="306.20" cy="221.20" r="1.7" fill="#04a5a3" stroke="#000" stroke-opacity="0.3" stroke-width="0.4"/>
<circle cx="315.50" cy="222.50" r="1.7" fill="#04a5a3" stroke="#000" stroke-opacity="0.3" stroke-width="0.4"/>
<circle cx="312.00" cy="214.50" r="1.7" fill="#04a5a3" stroke="#000" stroke-opacity="0.3" stroke-width="0.4"/>
<circle cx="287.00" cy="208.00" r="1.7" fill="#e27d1a" stroke="#000" stroke-opacity="0.3" stroke-width="0.4"/>
<circle cx="288.00" cy="198.00" r="1.7" fill="#e27d1a" stroke="#000" stroke-opacity="0.3" stroke-width="0.4"/>
<circle cx="343.84" cy="221.03" r="1.7" fill="#bb4193" stroke="#000" stroke-opacity="0.3" stroke-width="0.4"/>
<circle cx="326.66" cy="221.75" r="1.7" fill="#bb4193" stroke="#000" stroke-opacity="0.3" stroke-width="0.4"/>
<circle cx="338.88" cy="225.52" r="1.7" fill="#bb4193" stroke="#000" stroke-opacity="0.3" stroke-width="0.4"/>
<circle cx="342.26" cy="221.10" r="1.7" fill="#bb4193" stroke="#000" stroke-opacity="0.3" stroke-width="0.4"/>
<circle cx="342.83" cy="223.16" r="1.7" fill="#bb4193" stroke="#000" stroke-opacity="0.3" stroke-width="0.4"/>
<circle cx="337.65" cy="221.22" r="1.7" fill="#bb4193" stroke="#000" stroke-opacity="0.3" stroke-width="0.4"/>
<circle cx="334.05" cy="223.74" r="1.7" fill="#bb4193" stroke="#000" stroke-opacity="0.3" stroke-width="0.4"/>
<circle cx="327.57" cy="218.49" r="1.7" fill="#bb4193" stroke="#000" stroke-opacity="0.3" stroke-width="0.4"/>
<circle cx="336.04" cy="215.14" r="1.7" fill="#bb4193" stroke="#000" stroke-opacity="0.3" stroke-width="0.4"/>
<circle cx="332.51" cy="212.96" r="1.7" fill="#bb4193" stroke="#000" stroke-opacity="0.3" stroke-width="0.4"/>
<circle cx="330.54" cy="223.27" r="1.7" fill="#bb4193" stroke="#000" stroke-opacity="0.3" stroke-width="0.4"/>
<circle cx="340.53" cy="220.78" r="1.7" fill="#bb4193" stroke="#000" stroke-opacity="0.3" stroke-width="0.4"/>
<circle cx="334.14" cy="215.33" r="1.7" fill="#bb4193" stroke="#000" stroke-opacity="0.3" stroke-width="0.4"/>
<circle cx="350.62" cy="223.06" r="1.7" fill="#bb4193" stroke="#000" stroke-opacity="0.3" stroke-width="0.4"/>
<circle cx="344.75" cy="217.47" r="1.7" fill="#bb4193" stroke="#000" stroke-opacity="0.3" stroke-width="0.4"/>
<circle cx="334.52" cy="213.72" r="1.7" fill="#bb4193" stroke="#000" stroke-opacity="0.3" stroke-width="0.4"/>
<circle cx="342.24" cy="224.74" r="1.7" fill="#bb4193" stroke="#000" stroke-opacity="0.3" stroke-width="0.4"/>
<circle cx="320.82" cy="220.79" r="1.7" fill="#bb4193" stroke="#000" stroke-opacity="0.3" stroke-width="0.4"/>
<circle cx="341.04" cy="213.95" r="1.7" fill="#bb4193" stroke="#000" stroke-opacity="0.3" stroke-width="0.4"/>
<circle cx="321.40" cy="216.74" r="1.7" fill="#bb4193" stroke="#000" stroke-opacity="0.3" stroke-width="0.4"/>
<circle cx="330.97" cy="215.39" r="1.7" fill="#bb4193" stroke="#000" stroke-opacity="0.3" stroke-width="0.4"/>
<circle cx="336.25" cy="222.00" r="1.7" fill="#bb4193" stroke="#000" stroke-opacity="0.3" stroke-width="0.4"/>
<circle cx="341.07" cy="223.81" r="1.7" fill="#bb4193" stroke="#000" stroke-opacity="0.3" stroke-width="0.4"/>
<circle cx="348.02" cy="225.66" r="1.7" fill="#bb4193" stroke="#000" stroke-opacity="0.3" stroke-width="0.4"/>
<circle cx="325.50" cy="218.98" r="1.7" fill="#bb4193" stroke="#000" stroke-opacity="0.3" stroke-width="0.4"/>
<circle cx="327.52" cy="216.69" r="1.7" fill="#bb4193" stroke="#000" stroke-opacity="0.3" stroke-width="0.4"/>
<circle cx="335.35" cy="221.02" r="1.7" fill="#bb4193" stroke="#000" stroke-opacity="0.3" stroke-width="0.4"/>
<circle cx="339.92" cy="214.65" r="1.7" fill="#bb4193" stroke="#000" stroke-opacity="0.3" stroke-width="0.4"/>
<circle cx="326.10" cy="220.91" r="1.7" fill="#bb4193" stroke="#000" stroke-opacity="0.3" stroke-width="0.4"/>
<circle cx="334.40" cy="219.75" r="1.7" fill="#bb4193" stroke="#000" stroke-opacity="0.3" stroke-width="0.4"/>
<circle cx="335.49" cy="217.96" r="1.7" fill="#bb4193" stroke="#000" stroke-opacity="0.3" stroke-width="0.4"/>
<circle cx="341.61" cy="222.42" r="1.7" fill="#bb4193" stroke="#000" stroke-opacity="0.3" stroke-width="0.4"/>
<circle cx="335.30" cy="218.31" r="1.7" fill="#bb4193" stroke="#000" stroke-opacity="0.3" stroke-width="0.4"/>
<circle cx="334.61" cy="210.11" r="1.7" fill="#bb4193" stroke="#000" stroke-opacity="0.3" stroke-width="0.4"/>
<circle cx="328.15" cy="221.15" r="1.7" fill="#bb4193" stroke="#000" stroke-opacity="0.3" stroke-width="0.4"/>
<circle cx="323.97" cy="221.80" r="1.7" fill="#bb4193" stroke="#000" stroke-opacity="0.3" stroke-width="0.4"/>
<circle cx="337.18" cy="215.49" r="1.7" fill="#bb4193" stroke="#000" stroke-opacity="0.3" stroke-width="0.4"/>
<circle cx="334.00" cy="219.74" r="1.7" fill="#bb4193" stroke="#000" stroke-opacity="0.3" stroke-width="0.4"/>
<circle cx="339.68" cy="223.45" r="1.7" fill="#bb4193" stroke="#000" stroke-opacity="0.3" stroke-width="0.4"/>
<circle cx="335.71" cy="217.59" r="1.7" fill="#bb4193" stroke="#000" stroke-opacity="0.3" stroke-width="0.4"/>
<circle cx="334.85" cy="220.74" r="1.7" fill="#bb4193" stroke="#000" stroke-opacity="0.3" stroke-width="0.4"/>
<circle cx="341.88" cy="222.18" r="1.7" fill="#bb4193" stroke="#000" stroke-opacity="0.3" stroke-width="0.4"/>
<circle cx="330.22" cy="215.58" r="1.7" fill="#bb4193" stroke="#000" stroke-opacity="0.3" stroke-width="0.4"/>
<circle cx="333.02" cy="218.04" r="1.7" fill="#bb4193" stroke="#000" stroke-opacity="0.3" stroke-width="0.4"/>
<circle cx="327.10" cy="220.54" r="1.7" fill="#bb4193" stroke="#000" stroke-opacity="0.3" stroke-width="0.4"/>
<circle cx="332.07" cy="221.42" r="1.7" fill="#bb4193" stroke="#000" stroke-opacity="0.3" stroke-width="0.4"/>
<circle cx="340.19" cy="219.35" r="1.7" fill="#bb4193" stroke="#000" stroke-opacity="0.3" stroke-width="0.4"/>
<circle cx="354.59" cy="219.71" r="1.7" fill="#bb4193" stroke="#000" stroke-opacity="0.3" stroke-width="0.4"/>
<circle cx="344.81" cy="221.49" r="1.7" fill="#bb4193" stroke="#000" stroke-opacity="0.3" stroke-width="0.4"/>
<circle cx="344.93" cy="211.50" r="1.7" fill="#bb4193" stroke="#000" stroke-opacity="0.3" stroke-width="0.4"/>
<circle cx="329.99" cy="221.99" r="1.7" fill="#bb4193" stroke="#000" stroke-opacity="0.3" stroke-width="0.4"/>
<circle cx="338.58" cy="226.12" r="1.7" fill="#bb4193" stroke="#000" stroke-opacity="0.3" stroke-width="0.4"/>
<circle cx="342.13" cy="224.79" r="1.7" fill="#bb4193" stroke="#000" stroke-opacity="0.3" stroke-width="0.4"/>
<circle cx="340.08" cy="220.38" r="1.7" fill="#bb4193" stroke="#000" stroke-opacity="0.3" stroke-width="0.4"/>
<circle cx="340.07" cy="216.69" r="1.7" fill="#bb4193" stroke="#000" stroke-opacity="0.3" stroke-width="0.4"/>
<circle cx="345.45" cy="216.93" r="1.7" fill="#bb4193" stroke="#000" stroke-opacity="0.3" stroke-width="0.4"/>
<circle cx="337.99" cy="229.48" r="1.7" fill="#bb4193" stroke="#000" stroke-opacity="0.3" stroke-width="0.4"/>
<circle cx="334.21" cy="221.08" r="1.7" fill="#bb4193" stroke="#000" stroke-opacity="0.3" stroke-width="0.4"/>
<circle cx="345.30" cy="221.10" r="1.7" fill="#bb4193" stroke="#000" stroke-opacity="0.3" stroke-width="0.4"/>
<circle cx="329.54" cy="222.03" r="1.7" fill="#bb4193" stroke="#000" stroke-opacity="0.3" stroke-width="0.4"/>
<circle cx="355.62" cy="219.78" r="1.7" fill="#bb4193" stroke="#000" stroke-opacity="0.3" stroke-width="0.4"/>
<circle cx="349.52" cy="222.38" r="1.7" fill="#bb4193" stroke="#000" stroke-opacity="0.3" stroke-width="0.4"/>
<circle cx="360.50" cy="218.05" r="1.7" fill="#bb4193" stroke="#000" stroke-opacity="0.3" stroke-width="0.4"/>
<circle cx="354.21" cy="216.93" r="1.7" fill="#bb4193" stroke="#000" stroke-opacity="0.3" stroke-width="0.4"/>
<circle cx="359.36" cy="216.24" r="1.7" fill="#bb4193" stroke="#000" stroke-opacity="0.3" stroke-width="0.4"/>
<circle cx="356.03" cy="216.80" r="1.7" fill="#bb4193" stroke="#000" stroke-opacity="0.3" stroke-width="0.4"/>
<circle cx="349.88" cy="219.80" r="1.7" fill="#bb4193" stroke="#000" stroke-opacity="0.3" stroke-width="0.4"/>
<circle cx="359.00" cy="217.97" r="1.7" fill="#bb4193" stroke="#000" stroke-opacity="0.3" stroke-width="0.4"/>
<circle cx="349.95" cy="220.03" r="1.7" fill="#bb4193" stroke="#000" stroke-opacity="0.3" stroke-width="0.4"/>
<circle cx="352.78" cy="218.78" r="1.7" fill="#bb4193" stroke="#000" stroke-opacity="0.3" stroke-width="0.4"/>
<circle cx="359.85" cy="220.83" r="1.7" fill="#bb4193" stroke="#000" stroke-opacity="0.3" stroke-width="0.4"/>
<circle cx="350.66" cy="223.71" r="1.7" fill="#bb4193" stroke="#000" stroke-opacity="0.3" stroke-width="0.4"/>
<circle cx="353.02" cy="219.96" r="1.7" fill="#bb4193" stroke="#000" stroke-opacity="0.3" stroke-width="0.4"/>
<circle cx="350.09" cy="217.89" r="1.7" fill="#bb4193" stroke="#000" stroke-opacity="0.3" stroke-width="0.4"/>
<circle cx="345.13" cy="222.47" r="1.7" fill="#bb4193" stroke="#000" stroke-opacity="0.3" stroke-width="0.4"/>
<circle cx="359.15" cy="214.96" r="1.7" fill="#bb4193" stroke="#000" stroke-opacity="0.3" stroke-width="0.4"/>
<circle cx="346.23" cy="213.95" r="1.7" fill="#bb4193" stroke="#000" stroke-opacity="0.3" stroke-width="0.4"/>
<circle cx="358.29" cy="216.85" r="1.7" fill="#bb4193" stroke="#000" stroke-opacity="0.3" stroke-width="0.4"/>
<circle cx="352.73" cy="217.22" r="1.7" fill="#bb4193" stroke="#000" stroke-opacity="0.3" stroke-width="0.4"/>
<circle cx="352.45" cy="215.28" r="1.7" fill="#bb4193" stroke="#000" stroke-opacity="0.3" stroke-width="0.4"/>
<circle cx="353.11" cy="214.41" r="1.7" fill="#bb4193" stroke="#000" stroke-opacity="0.3" stroke-width="0.4"/>
<circle cx="352.68" cy="218.77" r="1.7" fill="#bb4193" stroke="#000" stroke-opacity="0.3" stroke-width="0.4"/>
<circle cx="355.10" cy="217.42" r="1.7" fill="#bb4193" stroke="#000" stroke-opacity="0.3" stroke-width="0.4"/>
<circle cx="348.93" cy="218.40" r="1.7" fill="#bb4193" stroke="#000" stroke-opacity="0.3" stroke-width="0.4"/>
<circle cx="350.82" cy="221.91" r="1.7" fill="#bb4193" stroke="#000" stroke-opacity="0.3" stroke-width="0.4"/>
<circle cx="356.45" cy="217.71" r="1.7" fill="#bb4193" stroke="#000" stroke-opacity="0.3" stroke-width="0.4"/>
<circle cx="350.88" cy="216.24" r="1.7" fill="#bb4193" stroke="#000" stroke-opacity="0.3" stroke-width="0.4"/>
<circle cx="348.78" cy="217.12" r="1.7" fill="#bb4193" stroke="#000" stroke-opacity="0.3" stroke-width="0.4"/>
<circle cx="327.00" cy="197.00" r="1.7" fill="#bb4193" stroke="#000" stroke-opacity="0.3" stroke-width="0.4"/>
<circle cx="347.00" cy="199.50" r="1.7" fill="#bb4193" stroke="#000" stroke-opacity="0.3" stroke-width="0.4"/>
<circle cx="350.00" cy="206.00" r="1.7" fill="#bb4193" stroke="#000" stroke-opacity="0.3" stroke-width="0.4"/>
<circle cx="330.00" cy="205.00" r="1.7" fill="#bb4193" stroke="#000" stroke-opacity="0.3" stroke-width="0.4"/>
<circle cx="349.00" cy="229.00" r="1.7" fill="#bb4193" stroke="#000" stroke-opacity="0.3" stroke-width="0.4"/>
<circle cx="320.00" cy="211.00" r="1.7" fill="#bb4193" stroke="#000" stroke-opacity="0.3" stroke-width="0.4"/>
<circle cx="332.74" cy="213.55" r="1.7" fill="#3a237d" stroke="#000" stroke-opacity="0.3" stroke-width="0.4"/>
<circle cx="333.42" cy="218.30" r="1.7" fill="#3a237d" stroke="#000" stroke-opacity="0.3" stroke-width="0.4"/>
<circle cx="330.24" cy="212.04" r="1.7" fill="#3a237d" stroke="#000" stroke-opacity="0.3" stroke-width="0.4"/>
<circle cx="338.99" cy="206.40" r="1.7" fill="#3a237d" stroke="#000" stroke-opacity="0.3" stroke-width="0.4"/>
<circle cx="330.70" cy="212.51" r="1.7" fill="#3a237d" stroke="#000" stroke-opacity="0.3" stroke-width="0.4"/>
<circle cx="332.39" cy="213.22" r="1.7" fill="#3a237d" stroke="#000" stroke-opacity="0.3" stroke-width="0.4"/>
<circle cx="331.40" cy="213.10" r="1.7" fill="#3a237d" stroke="#000" stroke-opacity="0.3" stroke-width="0.4"/>
<circle cx="332.13" cy="214.31" r="1.7" fill="#3a237d" stroke="#000" stroke-opacity="0.3" stroke-width="0.4"/>
<circle cx="327.27" cy="209.34" r="1.7" fill="#3a237d" stroke="#000" stroke-opacity="0.3" stroke-width="0.4"/>
<circle cx="331.99" cy="208.90" r="1.7" fill="#3a237d" stroke="#000" stroke-opacity="0.3" stroke-width="0.4"/>
<circle cx="337.00" cy="178.50" r="1.7" fill="#f9e600" stroke="#000" stroke-opacity="0.3" stroke-width="0.4"/>
<circle cx="340.00" cy="177.50" r="1.7" fill="#f9e600" stroke="#000" stroke-opacity="0.3" stroke-width="0.4"/>
<circle cx="343.00" cy="182.00" r="1.7" fill="#f9e600" stroke="#000" stroke-opacity="0.3" stroke-width="0.4"/>
<circle cx="341.00" cy="187.00" r="1.7" fill="#f9e600" stroke="#000" stroke-opacity="0.3" stroke-width="0.4"/>
<circle cx="339.00" cy="190.00" r="1.7" fill="#f9e600" stroke="#000" stroke-opacity="0.3" stroke-width="0.4"/>
<circle cx="470.61" cy="176.14" r="1.6" fill="#04a5a3" stroke="#000" stroke-opacity="0.3" stroke-width="0.4"/>
<circle cx="472.27" cy="176.17" r="1.6" fill="#04a5a3" stroke="#000" stroke-opacity="0.3" stroke-width="0.4"/>
<circle cx="478.13" cy="174.53" r="1.6" fill="#04a5a3" stroke="#000" stroke-opacity="0.3" stroke-width="0.4"/>
<circle cx="477.13" cy="172.48" r="1.6" fill="#04a5a3" stroke="#000" stroke-opacity="0.3" stroke-width="0.4"/>
<circle cx="469.08" cy="172.85" r="1.6" fill="#04a5a3" stroke="#000" stroke-opacity="0.3" stroke-width="0.4"/>
<circle cx="476.91" cy="170.35" r="1.6" fill="#04a5a3" stroke="#000" stroke-opacity="0.3" stroke-width="0.4"/>
<circle cx="474.58" cy="176.75" r="1.6" fill="#04a5a3" stroke="#000" stroke-opacity="0.3" stroke-width="0.4"/>
<circle cx="471.31" cy="176.20" r="1.6" fill="#04a5a3" stroke="#000" stroke-opacity="0.3" stroke-width="0.4"/>
<circle cx="482.82" cy="170.23" r="1.6" fill="#04a5a3" stroke="#000" stroke-opacity="0.3" stroke-width="0.4"/>
<circle cx="475.62" cy="172.25" r="1.6" fill="#04a5a3" stroke="#000" stroke-opacity="0.3" stroke-width="0.4"/>
<circle cx="481.47" cy="174.58" r="1.6" fill="#04a5a3" stroke="#000" stroke-opacity="0.3" stroke-width="0.4"/>
<circle cx="478.77" cy="169.55" r="1.6" fill="#04a5a3" stroke="#000" stroke-opacity="0.3" stroke-width="0.4"/>
<circle cx="474.93" cy="172.95" r="1.6" fill="#04a5a3" stroke="#000" stroke-opacity="0.3" stroke-width="0.4"/>
<circle cx="467.54" cy="180.20" r="1.6" fill="#04a5a3" stroke="#000" stroke-opacity="0.3" stroke-width="0.4"/>
<circle cx="478.78" cy="164.25" r="1.6" fill="#04a5a3" stroke="#000" stroke-opacity="0.3" stroke-width="0.4"/>
<circle cx="478.13" cy="172.34" r="1.6" fill="#04a5a3" stroke="#000" stroke-opacity="0.3" stroke-width="0.4"/>
<circle cx="476.88" cy="174.83" r="1.6" fill="#04a5a3" stroke="#000" stroke-opacity="0.3" stroke-width="0.4"/>
<circle cx="468.70" cy="171.94" r="1.6" fill="#04a5a3" stroke="#000" stroke-opacity="0.3" stroke-width="0.4"/>
<circle cx="481.27" cy="170.13" r="1.6" fill="#04a5a3" stroke="#000" stroke-opacity="0.3" stroke-width="0.4"/>
<circle cx="470.70" cy="166.20" r="1.6" fill="#04a5a3" stroke="#000" stroke-opacity="0.3" stroke-width="0.4"/>
<circle cx="469.87" cy="174.68" r="1.6" fill="#04a5a3" stroke="#000" stroke-opacity="0.3" stroke-width="0.4"/>
<circle cx="482.11" cy="175.15" r="1.6" fill="#04a5a3" stroke="#000" stroke-opacity="0.3" stroke-width="0.4"/>
<circle cx="476.03" cy="184.17" r="1.6" fill="#04a5a3" stroke="#000" stroke-opacity="0.3" stroke-width="0.4"/>
<circle cx="472.82" cy="169.63" r="1.6" fill="#04a5a3" stroke="#000" stroke-opacity="0.3" stroke-width="0.4"/>
<circle cx="477.22" cy="175.74" r="1.6" fill="#04a5a3" stroke="#000" stroke-opacity="0.3" stroke-width="0.4"/>
<circle cx="470.74" cy="167.15" r="1.6" fill="#04a5a3" stroke="#000" stroke-opacity="0.3" stroke-width="0.4"/>
<circle cx="476.22" cy="174.24" r="1.6" fill="#04a5a3" stroke="#000" stroke-opacity="0.3" stroke-width="0.4"/>
<circle cx="469.51" cy="171.99" r="1.6" fill="#04a5a3" stroke="#000" stroke-opacity="0.3" stroke-width="0.4"/>
<circle cx="472.72" cy="175.30" r="1.6" fill="#04a5a3" stroke="#000" stroke-opacity="0.3" stroke-width="0.4"/>
<circle cx="474.51" cy="172.57" r="1.6" fill="#04a5a3" stroke="#000" stroke-opacity="0.3" stroke-width="0.4"/>
<circle cx="473.52" cy="178.27" r="1.6" fill="#04a5a3" stroke="#000" stroke-opacity="0.3" stroke-width="0.4"/>
<circle cx="480.84" cy="171.17" r="1.6" fill="#04a5a3" stroke="#000" stroke-opacity="0.3" stroke-width="0.4"/>
<circle cx="478.55" cy="169.21" r="1.6" fill="#04a5a3" stroke="#000" stroke-opacity="0.3" stroke-width="0.4"/>
<circle cx="475.30" cy="176.75" r="1.6" fill="#04a5a3" stroke="#000" stroke-opacity="0.3" stroke-width="0.4"/>
<circle cx="481.36" cy="171.09" r="1.6" fill="#04a5a3" stroke="#000" stroke-opacity="0.3" stroke-width="0.4"/>
<circle cx="474.69" cy="173.98" r="1.6" fill="#04a5a3" stroke="#000" stroke-opacity="0.3" stroke-width="0.4"/>
<circle cx="468.71" cy="173.08" r="1.6" fill="#04a5a3" stroke="#000" stroke-opacity="0.3" stroke-width="0.4"/>
<circle cx="472.16" cy="174.86" r="1.6" fill="#04a5a3" stroke="#000" stroke-opacity="0.3" stroke-width="0.4"/>
<circle cx="470.25" cy="163.12" r="1.6" fill="#04a5a3" stroke="#000" stroke-opacity="0.3" stroke-width="0.4"/>
<circle cx="475.16" cy="174.30" r="1.6" fill="#04a5a3" stroke="#000" stroke-opacity="0.3" stroke-width="0.4"/>
<circle cx="472.69" cy="177.44" r="1.6" fill="#04a5a3" stroke="#000" stroke-opacity="0.3" stroke-width="0.4"/>
<circle cx="473.85" cy="169.97" r="1.6" fill="#04a5a3" stroke="#000" stroke-opacity="0.3" stroke-width="0.4"/>
<circle cx="477.01" cy="165.16" r="1.6" fill="#04a5a3" stroke="#000" stroke-opacity="0.3" stroke-width="0.4"/>
<circle cx="472.15" cy="172.90" r="1.6" fill="#04a5a3" stroke="#000" stroke-opacity="0.3" stroke-width="0.4"/>
<circle cx="478.57" cy="172.19" r="1.6" fill="#04a5a3" stroke="#000" stroke-opacity="0.3" stroke-width="0.4"/>
<circle cx="476.30" cy="169.72" r="1.6" fill="#04a5a3" stroke="#000" stroke-opacity="0.3" stroke-width="0.4"/>
<circle cx="476.27" cy="181.32" r="1.6" fill="#04a5a3" stroke="#000" stroke-opacity="0.3" stroke-width="0.4"/>
<circle cx="472.12" cy="184.83" r="1.6" fill="#04a5a3" stroke="#000" stroke-opacity="0.3" stroke-width="0.4"/>
<circle cx="472.30" cy="173.09" r="1.6" fill="#04a5a3" stroke="#000" stroke-opacity="0.3" stroke-width="0.4"/>
<circle cx="475.73" cy="178.12" r="1.6" fill="#04a5a3" stroke="#000" stroke-opacity="0.3" stroke-width="0.4"/>
<circle cx="469.80" cy="162.50" r="1.6" fill="#04a5a3" stroke="#000" stroke-opacity="0.3" stroke-width="0.4"/>
<circle cx="477.55" cy="176.98" r="1.6" fill="#04a5a3" stroke="#000" stroke-opacity="0.3" stroke-width="0.4"/>
<circle cx="477.62" cy="186.15" r="1.6" fill="#04a5a3" stroke="#000" stroke-opacity="0.3" stroke-width="0.4"/>
<circle cx="475.86" cy="174.27" r="1.6" fill="#04a5a3" stroke="#000" stroke-opacity="0.3" stroke-width="0.4"/>
<circle cx="478.90" cy="174.84" r="1.6" fill="#04a5a3" stroke="#000" stroke-opacity="0.3" stroke-width="0.4"/>
<circle cx="481.99" cy="166.81" r="1.6" fill="#04a5a3" stroke="#000" stroke-opacity="0.3" stroke-width="0.4"/>
<circle cx="478.41" cy="171.14" r="1.6" fill="#04a5a3" stroke="#000" stroke-opacity="0.3" stroke-width="0.4"/>
<circle cx="478.88" cy="183.77" r="1.6" fill="#04a5a3" stroke="#000" stroke-opacity="0.3" stroke-width="0.4"/>
<circle cx="474.98" cy="171.73" r="1.6" fill="#04a5a3" stroke="#000" stroke-opacity="0.3" stroke-width="0.4"/>
<circle cx="472.90" cy="168.81" r="1.6" fill="#04a5a3" stroke="#000" stroke-opacity="0.3" stroke-width="0.4"/>
<circle cx="472.35" cy="176.20" r="1.6" fill="#04a5a3" stroke="#000" stroke-opacity="0.3" stroke-width="0.4"/>
<circle cx="475.15" cy="173.33" r="1.6" fill="#04a5a3" stroke="#000" stroke-opacity="0.3" stroke-width="0.4"/>
<circle cx="474.27" cy="177.57" r="1.6" fill="#04a5a3" stroke="#000" stroke-opacity="0.3" stroke-width="0.4"/>
<circle cx="477.07" cy="172.29" r="1.6" fill="#04a5a3" stroke="#000" stroke-opacity="0.3" stroke-width="0.4"/>
<circle cx="477.79" cy="172.24" r="1.6" fill="#04a5a3" stroke="#000" stroke-opacity="0.3" stroke-width="0.4"/>
<circle cx="470.16" cy="180.28" r="1.6" fill="#04a5a3" stroke="#000" stroke-opacity="0.3" stroke-width="0.4"/>
<circle cx="476.95" cy="168.21" r="1.6" fill="#04a5a3" stroke="#000" stroke-opacity="0.3" stroke-width="0.4"/>
<circle cx="479.53" cy="174.72" r="1.6" fill="#04a5a3" stroke="#000" stroke-opacity="0.3" stroke-width="0.4"/>
<circle cx="468.43" cy="181.05" r="1.6" fill="#04a5a3" stroke="#000" stroke-opacity="0.3" stroke-width="0.4"/>
<circle cx="476.40" cy="177.46" r="1.6" fill="#04a5a3" stroke="#000" stroke-opacity="0.3" stroke-width="0.4"/>
<circle cx="475.83" cy="172.25" r="1.6" fill="#04a5a3" stroke="#000" stroke-opacity="0.3" stroke-width="0.4"/>
<circle cx="468.50" cy="177.86" r="1.6" fill="#04a5a3" stroke="#000" stroke-opacity="0.3" stroke-width="0.4"/>
<circle cx="475.13" cy="171.57" r="1.6" fill="#04a5a3" stroke="#000" stroke-opacity="0.3" stroke-width="0.4"/>
<circle cx="476.47" cy="173.39" r="1.6" fill="#04a5a3" stroke="#000" stroke-opacity="0.3" stroke-width="0.4"/>
<circle cx="477.84" cy="171.14" r="1.6" fill="#04a5a3" stroke="#000" stroke-opacity="0.3" stroke-width="0.4"/>
<circle cx="474.85" cy="162.31" r="1.6" fill="#04a5a3" stroke="#000" stroke-opacity="0.3" stroke-width="0.4"/>
<circle cx="473.22" cy="176.38" r="1.6" fill="#04a5a3" stroke="#000" stroke-opacity="0.3" stroke-width="0.4"/>
<circle cx="480.61" cy="171.18" r="1.6" fill="#04a5a3" stroke="#000" stroke-opacity="0.3" stroke-width="0.4"/>
<circle cx="474.49" cy="180.92" r="1.6" fill="#04a5a3" stroke="#000" stroke-opacity="0.3" stroke-width="0.4"/>
<circle cx="473.63" cy="176.67" r="1.6" fill="#04a5a3" stroke="#000" stroke-opacity="0.3" stroke-width="0.4"/>
<circle cx="471.00" cy="163.00" r="1.6" fill="#04a5a3" stroke="#000" stroke-opacity="0.3" stroke-width="0.4"/>
<circle cx="475.00" cy="162.50" r="1.6" fill="#04a5a3" stroke="#000" stroke-opacity="0.3" stroke-width="0.4"/>
<circle cx="479.00" cy="163.00" r="1.6" fill="#04a5a3" stroke="#000" stroke-opacity="0.3" stroke-width="0.4"/>
<circle cx="487.00" cy="168.00" r="1.6" fill="#04a5a3" stroke="#000" stroke-opacity="0.3" stroke-width="0.4"/>
<circle cx="463.00" cy="172.00" r="1.6" fill="#04a5a3" stroke="#000" stroke-opacity="0.3" stroke-width="0.4"/>
<circle cx="472.50" cy="162.50" r="1.6" fill="#3a237d" stroke="#000" stroke-opacity="0.3" stroke-width="0.4"/>
<circle cx="477.00" cy="163.00" r="1.6" fill="#3a237d" stroke="#000" stroke-opacity="0.3" stroke-width="0.4"/>
<circle cx="478.70" cy="184.12" r="1.6" fill="#3a237d" stroke="#000" stroke-opacity="0.3" stroke-width="0.4"/>
<circle cx="477.44" cy="181.87" r="1.6" fill="#3a237d" stroke="#000" stroke-opacity="0.3" stroke-width="0.4"/>
<circle cx="474.58" cy="183.77" r="1.6" fill="#3a237d" stroke="#000" stroke-opacity="0.3" stroke-width="0.4"/>
<circle cx="474.32" cy="187.39" r="1.6" fill="#3a237d" stroke="#000" stroke-opacity="0.3" stroke-width="0.4"/>
<circle cx="480.69" cy="182.00" r="1.6" fill="#3a237d" stroke="#000" stroke-opacity="0.3" stroke-width="0.4"/>
<circle cx="472.39" cy="185.49" r="1.6" fill="#3a237d" stroke="#000" stroke-opacity="0.3" stroke-width="0.4"/>
<circle cx="471.05" cy="185.49" r="1.6" fill="#3a237d" stroke="#000" stroke-opacity="0.3" stroke-width="0.4"/>
<circle cx="475.60" cy="183.17" r="1.6" fill="#3a237d" stroke="#000" stroke-opacity="0.3" stroke-width="0.4"/>
<circle cx="475.49" cy="179.35" r="1.6" fill="#3a237d" stroke="#000" stroke-opacity="0.3" stroke-width="0.4"/>
<circle cx="476.13" cy="179.37" r="1.6" fill="#3a237d" stroke="#000" stroke-opacity="0.3" stroke-width="0.4"/>
<circle cx="472.05" cy="182.33" r="1.6" fill="#3a237d" stroke="#000" stroke-opacity="0.3" stroke-width="0.4"/>
<circle cx="472.88" cy="186.58" r="1.6" fill="#3a237d" stroke="#000" stroke-opacity="0.3" stroke-width="0.4"/>
<circle cx="474.23" cy="182.81" r="1.6" fill="#3a237d" stroke="#000" stroke-opacity="0.3" stroke-width="0.4"/>
<circle cx="475.52" cy="188.74" r="1.6" fill="#3a237d" stroke="#000" stroke-opacity="0.3" stroke-width="0.4"/>
<circle cx="466.00" cy="179.00" r="1.6" fill="#bb4193" stroke="#000" stroke-opacity="0.3" stroke-width="0.4"/>
<circle cx="475.00" cy="192.00" r="1.6" fill="#bb4193" stroke="#000" stroke-opacity="0.3" stroke-width="0.4"/>
<circle cx="479.00" cy="184.00" r="1.6" fill="#bb4193" stroke="#000" stroke-opacity="0.3" stroke-width="0.4"/>
<circle cx="474.80" cy="219.70" r="1.6" fill="#04a5a3" stroke="#000" stroke-opacity="0.3" stroke-width="0.4"/>
<circle cx="478.70" cy="228.00" r="1.6" fill="#3a237d" stroke="#000" stroke-opacity="0.3" stroke-width="0.4"/>
<circle cx="480.00" cy="233.00" r="1.6" fill="#04a5a3" stroke="#000" stroke-opacity="0.3" stroke-width="0.4"/>
<text x="275.50" y="292.50" font-size="8.8" text-anchor="start" fill="#2a2a2a" stroke="#2a2a2a" stroke-width="0.18" textLength="68.7" lengthAdjust="spacingAndGlyphs">Sézary cell clusters</text>
<path d="M352.7,273.3 L348.4,273.3 L348.4,305 L352.7,305" fill="none" stroke="#222" stroke-width="1.1"/>
<rect x="358.10" y="278.50" width="9.60" height="9.60" fill="#04a5a3"/>
<text x="371.20" y="285.70" font-size="8.6" text-anchor="start" fill="#2a2a2a" stroke="#2a2a2a" stroke-width="0.18" textLength="25.3" lengthAdjust="spacingAndGlyphs">Class 1</text>
<rect x="406.40" y="278.50" width="9.60" height="9.60" fill="#bb4193"/>
<text x="419.50" y="285.70" font-size="8.6" text-anchor="start" fill="#2a2a2a" stroke="#2a2a2a" stroke-width="0.18" textLength="25.3" lengthAdjust="spacingAndGlyphs">Class 2</text>
<rect x="454.50" y="278.50" width="9.60" height="9.60" fill="#f5a300"/>
<text x="467.60" y="285.70" font-size="8.6" text-anchor="start" fill="#2a2a2a" stroke="#2a2a2a" stroke-width="0.18" textLength="25.3" lengthAdjust="spacingAndGlyphs">Class 3</text>
<rect x="358.10" y="292.20" width="9.60" height="9.60" fill="#3a237d"/>
<text x="371.20" y="299.40" font-size="8.6" text-anchor="start" fill="#2a2a2a" stroke="#2a2a2a" stroke-width="0.18" textLength="25.3" lengthAdjust="spacingAndGlyphs">Class 4</text>
<rect x="406.40" y="292.20" width="9.60" height="9.60" fill="#2aa537"/>
<text x="419.50" y="299.40" font-size="8.6" text-anchor="start" fill="#2a2a2a" stroke="#2a2a2a" stroke-width="0.18" textLength="25.3" lengthAdjust="spacingAndGlyphs">Class 5</text>
<rect x="454.50" y="292.20" width="9.60" height="9.60" fill="#f9e600"/>
<text x="467.60" y="299.40" font-size="8.6" text-anchor="start" fill="#2a2a2a" stroke="#2a2a2a" stroke-width="0.18" textLength="25.3" lengthAdjust="spacingAndGlyphs">Class 6</text>
<text x="1.30" y="327.70" font-size="11.5" text-anchor="start" fill="#111" font-weight="bold" textLength="8" lengthAdjust="spacingAndGlyphs">C</text>
<path d="M76.52,324.13A61.7,61.7 0 0 1 109.21,327.59Q91.18,341.76 76.52,324.13Z" fill="#f9e600"/>
<path d="M87.14,323.30L91.59,337.56" stroke="#fff8b0" stroke-width="0.5"/>
<path d="M94.12,323.76L88.26,337.33" stroke="#fff8b0" stroke-width="0.5"/>
<path d="M100.48,324.88L90.76,337.48" stroke="#fff8b0" stroke-width="0.6"/>
<path d="M106.69,326.66L94.88,338.02" stroke="#fff8b0" stroke-width="0.5"/>
<path d="M89.83,323.38A61.7,61.7 0 0 1 95.72,323.98Q85.14,384.59 62.99,442.00A61.7,61.7 0 0 1 57.25,439.27Q82.08,383.73 89.83,323.38Z" fill="#f9e600" fill-opacity="0.92"/>
<path d="M58.59,330.02A61.7,61.7 0 0 1 76.52,324.13Q91.18,341.76 109.21,327.59A61.7,61.7 0 0 1 122.87,335.08Q88.93,355.38 58.59,330.02Z" fill="#2aa537" fill-opacity="0.95"/>
<path d="M124.16,336.05A61.7,61.7 0 0 1 129.85,340.99Q92.16,388.05 72.72,445.12A61.7,61.7 0 0 1 64.19,442.49Q88.46,386.05 124.16,336.05Z" fill="#2aa537" fill-opacity="0.9"/>
<path d="M130.98,342.14A61.7,61.7 0 0 1 137.75,350.50Q125.60,374.18 148.22,388.23A61.7,61.7 0 0 1 147.06,397.30Q117.80,375.91 130.98,342.14Z" fill="#2aa537" fill-opacity="0.9"/>
<path d="M148.22,381.77A61.7,61.7 0 0 1 148.24,387.69Q100.68,400.63 82.83,446.58A61.7,61.7 0 0 1 74.51,445.50Q98.08,398.27 148.22,381.77Z" fill="#f28c2e" fill-opacity="0.88"/>
<path d="M47.35,337.39A61.7,61.7 0 0 1 56.50,331.14Q93.48,369.11 146.47,370.07A61.7,61.7 0 0 1 148.20,381.56Q91.44,373.95 47.35,337.39Z" fill="#f28c2e" fill-opacity="0.88"/>
<path d="M24.90,385.00A61.7,61.7 0 0 1 46.53,338.08Q90.45,378.83 146.33,400.45A61.7,61.7 0 0 1 109.71,442.21Q77.87,397.94 24.90,385.00Z" fill="#bb4193" fill-opacity="0.85"/>
<path d="M57.25,330.73A61.7,61.7 0 0 1 58.01,330.32Q92.83,364.22 140.56,355.09A61.7,61.7 0 0 1 141.08,356.03Q92.73,364.71 57.25,330.73Z" fill="#3a237d" fill-opacity="0.95"/>
<path d="M143.81,361.89A61.7,61.7 0 0 1 144.32,363.19Q96.59,393.49 74.40,445.48A61.7,61.7 0 0 1 73.56,445.31Q96.23,393.11 143.81,361.89Z" fill="#3a237d" fill-opacity="0.95"/>
<path d="M142.06,357.95A61.7,61.7 0 0 1 142.52,358.92Q128.56,378.73 147.70,393.59A61.7,61.7 0 0 1 147.54,394.65Q127.58,378.87 142.06,357.95Z" fill="#3a237d" fill-opacity="0.9"/>
<path d="M99.43,324.65A61.7,61.7 0 0 1 100.48,324.88Q107.71,361.56 144.94,364.91A61.7,61.7 0 0 1 145.44,366.45Q107.18,362.34 99.43,324.65Z" fill="#f9e600" fill-opacity="0.6"/>
<path d="M52.14,442.34A66.9,66.9 0 0 1 83.10,318.19L83.31,322.19A62.9,62.9 0 0 0 54.20,438.92Z" fill="#04a5a3"/>
<path d="M84.85,318.12A66.9,66.9 0 0 1 109.48,322.13L108.11,325.89A62.9,62.9 0 0 0 84.95,322.12Z" fill="#f9e600"/>
<path d="M111.12,322.76A66.9,66.9 0 0 1 143.33,349.55L139.94,351.67A62.9,62.9 0 0 0 109.65,326.48Z" fill="#2aa537"/>
<path d="M144.54,351.55A66.9,66.9 0 0 1 150.78,366.11L146.94,367.24A62.9,62.9 0 0 0 141.07,353.55Z" fill="#3a237d"/>
<path d="M151.46,368.59A66.9,66.9 0 0 1 152.04,398.91L148.13,398.08A62.9,62.9 0 0 0 147.58,369.57Z" fill="#f29020"/>
<path d="M151.51,401.18A66.9,66.9 0 0 1 54.17,443.51L56.11,440.01A62.9,62.9 0 0 0 147.63,400.22Z" fill="#bb4193"/>
<rect x="9.60" y="473.00" width="9.40" height="9.40" fill="#04a5a3"/>
<text x="22.70" y="480.40" font-size="8.6" text-anchor="start" fill="#2a2a2a" stroke="#2a2a2a" stroke-width="0.18" textLength="23.5" lengthAdjust="spacingAndGlyphs">Class 1</text>
<rect x="65.10" y="473.00" width="9.40" height="9.40" fill="#bb4193"/>
<text x="78.20" y="480.40" font-size="8.6" text-anchor="start" fill="#2a2a2a" stroke="#2a2a2a" stroke-width="0.18" textLength="23.5" lengthAdjust="spacingAndGlyphs">Class 2</text>
<rect x="120.20" y="473.00" width="9.40" height="9.40" fill="#f5a300"/>
<text x="133.30" y="480.40" font-size="8.6" text-anchor="start" fill="#2a2a2a" stroke="#2a2a2a" stroke-width="0.18" textLength="23.5" lengthAdjust="spacingAndGlyphs">Class 3</text>
<rect x="9.60" y="486.50" width="9.40" height="9.40" fill="#3a237d"/>
<text x="22.70" y="493.90" font-size="8.6" text-anchor="start" fill="#2a2a2a" stroke="#2a2a2a" stroke-width="0.18" textLength="23.5" lengthAdjust="spacingAndGlyphs">Class 4</text>
<rect x="65.10" y="486.50" width="9.40" height="9.40" fill="#2aa537"/>
<text x="78.20" y="493.90" font-size="8.6" text-anchor="start" fill="#2a2a2a" stroke="#2a2a2a" stroke-width="0.18" textLength="23.5" lengthAdjust="spacingAndGlyphs">Class 5</text>
<rect x="120.20" y="486.50" width="9.40" height="9.40" fill="#f9e600"/>
<text x="133.30" y="493.90" font-size="8.6" text-anchor="start" fill="#2a2a2a" stroke="#2a2a2a" stroke-width="0.18" textLength="23.5" lengthAdjust="spacingAndGlyphs">Class 6</text>
<text x="190.30" y="327.80" font-size="11.5" text-anchor="start" fill="#111" font-weight="bold" textLength="8.2" lengthAdjust="spacingAndGlyphs">D</text>
<line x1="222.00" y1="336.00" x2="222.00" y2="431.50" stroke="#1a1a1a" stroke-width="1.2"/>
<line x1="221.40" y1="431.00" x2="342.00" y2="431.00" stroke="#1a1a1a" stroke-width="1.2"/>
<line x1="218.70" y1="348.40" x2="222.00" y2="348.40" stroke="#1a1a1a" stroke-width="0.9"/>
<text x="215.30" y="350.90" font-size="8.6" text-anchor="end" fill="#2a2a2a" stroke="#2a2a2a" stroke-width="0.18" textLength="25.3" lengthAdjust="spacingAndGlyphs">Class 1</text>
<line x1="218.70" y1="363.00" x2="222.00" y2="363.00" stroke="#1a1a1a" stroke-width="0.9"/>
<text x="215.30" y="365.50" font-size="8.6" text-anchor="end" fill="#2a2a2a" stroke="#2a2a2a" stroke-width="0.18" textLength="25.3" lengthAdjust="spacingAndGlyphs">Class 2</text>
<line x1="218.70" y1="377.60" x2="222.00" y2="377.60" stroke="#1a1a1a" stroke-width="0.9"/>
<text x="215.30" y="380.10" font-size="8.6" text-anchor="end" fill="#2a2a2a" stroke="#2a2a2a" stroke-width="0.18" textLength="25.3" lengthAdjust="spacingAndGlyphs">Class 3</text>
<line x1="218.70" y1="392.40" x2="222.00" y2="392.40" stroke="#1a1a1a" stroke-width="0.9"/>
<text x="215.30" y="394.90" font-size="8.6" text-anchor="end" fill="#2a2a2a" stroke="#2a2a2a" stroke-width="0.18" textLength="25.3" lengthAdjust="spacingAndGlyphs">Class 4</text>
<line x1="218.70" y1="407.10" x2="222.00" y2="407.10" stroke="#1a1a1a" stroke-width="0.9"/>
<text x="215.30" y="409.60" font-size="8.6" text-anchor="end" fill="#2a2a2a" stroke="#2a2a2a" stroke-width="0.18" textLength="25.3" lengthAdjust="spacingAndGlyphs">Class 5</text>
<line x1="218.70" y1="421.50" x2="222.00" y2="421.50" stroke="#1a1a1a" stroke-width="0.9"/>
<text x="215.30" y="424.00" font-size="8.6" text-anchor="end" fill="#2a2a2a" stroke="#2a2a2a" stroke-width="0.18" textLength="25.3" lengthAdjust="spacingAndGlyphs">Class 6</text>
<line x1="246.50" y1="348.40" x2="319.20" y2="348.40" stroke="#3a3a3a" stroke-width="1.0"/>
<line x1="246.50" y1="346.20" x2="246.50" y2="350.60" stroke="#3a3a3a" stroke-width="1.0"/>
<line x1="319.20" y1="346.20" x2="319.20" y2="350.60" stroke="#3a3a3a" stroke-width="1.0"/>
<rect x="263.40" y="343.80" width="28.80" height="9.20" fill="#c6c6c6"/>
<line x1="280.00" y1="343.80" x2="280.00" y2="353.00" stroke="#111" stroke-width="1.5"/>
<line x1="241.90" y1="363.00" x2="328.50" y2="363.00" stroke="#3a3a3a" stroke-width="1.0"/>
<line x1="241.90" y1="360.80" x2="241.90" y2="365.20" stroke="#3a3a3a" stroke-width="1.0"/>
<line x1="328.50" y1="360.80" x2="328.50" y2="365.20" stroke="#3a3a3a" stroke-width="1.0"/>
<rect x="272.60" y="358.40" width="27.70" height="9.20" fill="#c6c6c6"/>
<line x1="290.40" y1="358.40" x2="290.40" y2="367.60" stroke="#111" stroke-width="1.5"/>
<line x1="245.80" y1="377.60" x2="320.40" y2="377.60" stroke="#3a3a3a" stroke-width="1.0"/>
<line x1="245.80" y1="375.40" x2="245.80" y2="379.80" stroke="#3a3a3a" stroke-width="1.0"/>
<line x1="320.40" y1="375.40" x2="320.40" y2="379.80" stroke="#3a3a3a" stroke-width="1.0"/>
<rect x="259.20" y="373.00" width="32.80" height="9.20" fill="#c6c6c6"/>
<line x1="282.30" y1="373.00" x2="282.30" y2="382.20" stroke="#111" stroke-width="1.5"/>
<line x1="251.20" y1="392.40" x2="314.60" y2="392.40" stroke="#3a3a3a" stroke-width="1.0"/>
<line x1="251.20" y1="390.20" x2="251.20" y2="394.60" stroke="#3a3a3a" stroke-width="1.0"/>
<line x1="314.60" y1="390.20" x2="314.60" y2="394.60" stroke="#3a3a3a" stroke-width="1.0"/>
<rect x="286.20" y="387.80" width="25.70" height="9.20" fill="#c6c6c6"/>
<line x1="307.70" y1="387.80" x2="307.70" y2="397.00" stroke="#111" stroke-width="1.5"/>
<line x1="248.60" y1="407.10" x2="289.50" y2="407.10" stroke="#3a3a3a" stroke-width="1.0"/>
<line x1="248.60" y1="404.90" x2="248.60" y2="409.30" stroke="#3a3a3a" stroke-width="1.0"/>
<line x1="289.50" y1="404.90" x2="289.50" y2="409.30" stroke="#3a3a3a" stroke-width="1.0"/>
<rect x="266.00" y="402.50" width="18.60" height="9.20" fill="#c6c6c6"/>
<line x1="270.50" y1="402.50" x2="270.50" y2="411.70" stroke="#111" stroke-width="1.5"/>
<line x1="260.00" y1="421.50" x2="310.00" y2="421.50" stroke="#3a3a3a" stroke-width="1.0"/>
<line x1="260.00" y1="419.30" x2="260.00" y2="423.70" stroke="#3a3a3a" stroke-width="1.0"/>
<line x1="310.00" y1="419.30" x2="310.00" y2="423.70" stroke="#3a3a3a" stroke-width="1.0"/>
<rect x="274.80" y="416.90" width="25.50" height="9.20" fill="#c6c6c6"/>
<line x1="287.90" y1="416.90" x2="287.90" y2="426.10" stroke="#111" stroke-width="1.5"/>
<line x1="333.30" y1="360.80" x2="333.30" y2="365.20" stroke="#222" stroke-width="0.85"/>
<line x1="331.39" y1="361.90" x2="335.21" y2="364.10" stroke="#222" stroke-width="0.85"/>
<line x1="335.21" y1="361.90" x2="331.39" y2="364.10" stroke="#222" stroke-width="0.85"/>
<line x1="320.00" y1="390.20" x2="320.00" y2="394.60" stroke="#222" stroke-width="0.85"/>
<line x1="318.09" y1="391.30" x2="321.91" y2="393.50" stroke="#222" stroke-width="0.85"/>
<line x1="321.91" y1="391.30" x2="318.09" y2="393.50" stroke="#222" stroke-width="0.85"/>
<line x1="222.50" y1="431.00" x2="222.50" y2="433.80" stroke="#1a1a1a" stroke-width="0.9"/>
<line x1="229.60" y1="431.00" x2="229.60" y2="432.60" stroke="#1a1a1a" stroke-width="0.6"/>
<line x1="233.76" y1="431.00" x2="233.76" y2="432.60" stroke="#1a1a1a" stroke-width="0.6"/>
<line x1="236.71" y1="431.00" x2="236.71" y2="432.60" stroke="#1a1a1a" stroke-width="0.6"/>
<line x1="239.00" y1="431.00" x2="239.00" y2="432.60" stroke="#1a1a1a" stroke-width="0.6"/>
<line x1="240.86" y1="431.00" x2="240.86" y2="432.60" stroke="#1a1a1a" stroke-width="0.6"/>
<line x1="242.44" y1="431.00" x2="242.44" y2="432.60" stroke="#1a1a1a" stroke-width="0.6"/>
<line x1="243.81" y1="431.00" x2="243.81" y2="432.60" stroke="#1a1a1a" stroke-width="0.6"/>
<line x1="245.02" y1="431.00" x2="245.02" y2="432.60" stroke="#1a1a1a" stroke-width="0.6"/>
<text x="221.00" y="446.3" font-size="8.6" text-anchor="middle" fill="#2a2a2a" font-family="Liberation Sans, sans-serif">10<tspan font-size="6" dy="-3.4">0</tspan></text>
<line x1="246.10" y1="431.00" x2="246.10" y2="433.80" stroke="#1a1a1a" stroke-width="0.9"/>
<line x1="253.20" y1="431.00" x2="253.20" y2="432.60" stroke="#1a1a1a" stroke-width="0.6"/>
<line x1="257.36" y1="431.00" x2="257.36" y2="432.60" stroke="#1a1a1a" stroke-width="0.6"/>
<line x1="260.31" y1="431.00" x2="260.31" y2="432.60" stroke="#1a1a1a" stroke-width="0.6"/>
<line x1="262.60" y1="431.00" x2="262.60" y2="432.60" stroke="#1a1a1a" stroke-width="0.6"/>
<line x1="264.46" y1="431.00" x2="264.46" y2="432.60" stroke="#1a1a1a" stroke-width="0.6"/>
<line x1="266.04" y1="431.00" x2="266.04" y2="432.60" stroke="#1a1a1a" stroke-width="0.6"/>
<line x1="267.41" y1="431.00" x2="267.41" y2="432.60" stroke="#1a1a1a" stroke-width="0.6"/>
<line x1="268.62" y1="431.00" x2="268.62" y2="432.60" stroke="#1a1a1a" stroke-width="0.6"/>
<text x="244.60" y="446.3" font-size="8.6" text-anchor="middle" fill="#2a2a2a" font-family="Liberation Sans, sans-serif">10<tspan font-size="6" dy="-3.4">1</tspan></text>
<line x1="269.70" y1="431.00" x2="269.70" y2="433.80" stroke="#1a1a1a" stroke-width="0.9"/>
<line x1="276.80" y1="431.00" x2="276.80" y2="432.60" stroke="#1a1a1a" stroke-width="0.6"/>
<line x1="280.96" y1="431.00" x2="280.96" y2="432.60" stroke="#1a1a1a" stroke-width="0.6"/>
<line x1="283.91" y1="431.00" x2="283.91" y2="432.60" stroke="#1a1a1a" stroke-width="0.6"/>
<line x1="286.20" y1="431.00" x2="286.20" y2="432.60" stroke="#1a1a1a" stroke-width="0.6"/>
<line x1="288.06" y1="431.00" x2="288.06" y2="432.60" stroke="#1a1a1a" stroke-width="0.6"/>
<line x1="289.64" y1="431.00" x2="289.64" y2="432.60" stroke="#1a1a1a" stroke-width="0.6"/>
<line x1="291.01" y1="431.00" x2="291.01" y2="432.60" stroke="#1a1a1a" stroke-width="0.6"/>
<line x1="292.22" y1="431.00" x2="292.22" y2="432.60" stroke="#1a1a1a" stroke-width="0.6"/>
<text x="268.20" y="446.3" font-size="8.6" text-anchor="middle" fill="#2a2a2a" font-family="Liberation Sans, sans-serif">10<tspan font-size="6" dy="-3.4">2</tspan></text>
<line x1="293.30" y1="431.00" x2="293.30" y2="433.80" stroke="#1a1a1a" stroke-width="0.9"/>
<line x1="300.40" y1="431.00" x2="300.40" y2="432.60" stroke="#1a1a1a" stroke-width="0.6"/>
<line x1="304.56" y1="431.00" x2="304.56" y2="432.60" stroke="#1a1a1a" stroke-width="0.6"/>
<line x1="307.51" y1="431.00" x2="307.51" y2="432.60" stroke="#1a1a1a" stroke-width="0.6"/>
<line x1="309.80" y1="431.00" x2="309.80" y2="432.60" stroke="#1a1a1a" stroke-width="0.6"/>
<line x1="311.66" y1="431.00" x2="311.66" y2="432.60" stroke="#1a1a1a" stroke-width="0.6"/>
<line x1="313.24" y1="431.00" x2="313.24" y2="432.60" stroke="#1a1a1a" stroke-width="0.6"/>
<line x1="314.61" y1="431.00" x2="314.61" y2="432.60" stroke="#1a1a1a" stroke-width="0.6"/>
<line x1="315.82" y1="431.00" x2="315.82" y2="432.60" stroke="#1a1a1a" stroke-width="0.6"/>
<text x="291.80" y="446.3" font-size="8.6" text-anchor="middle" fill="#2a2a2a" font-family="Liberation Sans, sans-serif">10<tspan font-size="6" dy="-3.4">3</tspan></text>
<line x1="316.90" y1="431.00" x2="316.90" y2="433.80" stroke="#1a1a1a" stroke-width="0.9"/>
<line x1="324.00" y1="431.00" x2="324.00" y2="432.60" stroke="#1a1a1a" stroke-width="0.6"/>
<line x1="328.16" y1="431.00" x2="328.16" y2="432.60" stroke="#1a1a1a" stroke-width="0.6"/>
<line x1="331.11" y1="431.00" x2="331.11" y2="432.60" stroke="#1a1a1a" stroke-width="0.6"/>
<line x1="333.40" y1="431.00" x2="333.40" y2="432.60" stroke="#1a1a1a" stroke-width="0.6"/>
<line x1="335.26" y1="431.00" x2="335.26" y2="432.60" stroke="#1a1a1a" stroke-width="0.6"/>
<line x1="336.84" y1="431.00" x2="336.84" y2="432.60" stroke="#1a1a1a" stroke-width="0.6"/>
<line x1="338.21" y1="431.00" x2="338.21" y2="432.60" stroke="#1a1a1a" stroke-width="0.6"/>
<line x1="339.42" y1="431.00" x2="339.42" y2="432.60" stroke="#1a1a1a" stroke-width="0.6"/>
<text x="315.40" y="446.3" font-size="8.6" text-anchor="middle" fill="#2a2a2a" font-family="Liberation Sans, sans-serif">10<tspan font-size="6" dy="-3.4">4</tspan></text>
<line x1="340.50" y1="431.00" x2="340.50" y2="433.80" stroke="#1a1a1a" stroke-width="0.9"/>
<text x="339.00" y="446.3" font-size="8.6" text-anchor="middle" fill="#2a2a2a" font-family="Liberation Sans, sans-serif">10<tspan font-size="6" dy="-3.4">5</tspan></text>
<text x="280.90" y="457.80" font-size="10.3" text-anchor="middle" fill="#2a2a2a" stroke="#2a2a2a" stroke-width="0.18" textLength="58.8" lengthAdjust="spacingAndGlyphs">Cells/μL of blood</text>
<line x1="393.50" y1="336.00" x2="393.50" y2="432.10" stroke="#1a1a1a" stroke-width="1.2"/>
<line x1="393.00" y1="431.60" x2="513.50" y2="431.60" stroke="#1a1a1a" stroke-width="1.2"/>
<line x1="390.50" y1="348.00" x2="393.50" y2="348.00" stroke="#1a1a1a" stroke-width="0.9"/>
<text x="388.20" y="350.50" font-size="8.6" text-anchor="end" fill="#2a2a2a" stroke="#2a2a2a" stroke-width="0.18" textLength="25.2" lengthAdjust="spacingAndGlyphs">Class 1</text>
<line x1="390.50" y1="362.70" x2="393.50" y2="362.70" stroke="#1a1a1a" stroke-width="0.9"/>
<text x="388.20" y="365.20" font-size="8.6" text-anchor="end" fill="#2a2a2a" stroke="#2a2a2a" stroke-width="0.18" textLength="25.2" lengthAdjust="spacingAndGlyphs">Class 2</text>
<line x1="390.50" y1="377.40" x2="393.50" y2="377.40" stroke="#1a1a1a" stroke-width="0.9"/>
<text x="388.20" y="379.90" font-size="8.6" text-anchor="end" fill="#2a2a2a" stroke="#2a2a2a" stroke-width="0.18" textLength="25.2" lengthAdjust="spacingAndGlyphs">Class 3</text>
<line x1="390.50" y1="391.80" x2="393.50" y2="391.80" stroke="#1a1a1a" stroke-width="0.9"/>
<text x="388.20" y="394.30" font-size="8.6" text-anchor="end" fill="#2a2a2a" stroke="#2a2a2a" stroke-width="0.18" textLength="25.2" lengthAdjust="spacingAndGlyphs">Class 4</text>
<line x1="390.50" y1="406.80" x2="393.50" y2="406.80" stroke="#1a1a1a" stroke-width="0.9"/>
<text x="388.20" y="409.30" font-size="8.6" text-anchor="end" fill="#2a2a2a" stroke="#2a2a2a" stroke-width="0.18" textLength="25.2" lengthAdjust="spacingAndGlyphs">Class 5</text>
<line x1="390.50" y1="420.80" x2="393.50" y2="420.80" stroke="#1a1a1a" stroke-width="0.9"/>
<text x="388.20" y="423.30" font-size="8.6" text-anchor="end" fill="#2a2a2a" stroke="#2a2a2a" stroke-width="0.18" textLength="25.2" lengthAdjust="spacingAndGlyphs">Class 6</text>
<line x1="400.70" y1="348.00" x2="512.50" y2="348.00" stroke="#3a3a3a" stroke-width="1.0"/>
<line x1="400.70" y1="345.80" x2="400.70" y2="350.20" stroke="#3a3a3a" stroke-width="1.0"/>
<line x1="512.50" y1="345.80" x2="512.50" y2="350.20" stroke="#3a3a3a" stroke-width="1.0"/>
<rect x="462.80" y="343.40" width="49.70" height="9.20" fill="#c6c6c6"/>
<line x1="508.90" y1="343.40" x2="508.90" y2="352.60" stroke="#111" stroke-width="1.5"/>
<line x1="402.30" y1="362.70" x2="512.50" y2="362.70" stroke="#3a3a3a" stroke-width="1.0"/>
<line x1="402.30" y1="360.50" x2="402.30" y2="364.90" stroke="#3a3a3a" stroke-width="1.0"/>
<line x1="512.50" y1="360.50" x2="512.50" y2="364.90" stroke="#3a3a3a" stroke-width="1.0"/>
<rect x="435.00" y="358.10" width="77.50" height="9.20" fill="#c6c6c6"/>
<line x1="492.90" y1="358.10" x2="492.90" y2="367.30" stroke="#111" stroke-width="1.5"/>
<line x1="400.70" y1="377.40" x2="512.50" y2="377.40" stroke="#3a3a3a" stroke-width="1.0"/>
<line x1="400.70" y1="375.20" x2="400.70" y2="379.60" stroke="#3a3a3a" stroke-width="1.0"/>
<line x1="512.50" y1="375.20" x2="512.50" y2="379.60" stroke="#3a3a3a" stroke-width="1.0"/>
<rect x="422.60" y="372.80" width="73.90" height="9.20" fill="#c6c6c6"/>
<line x1="450.40" y1="372.80" x2="450.40" y2="382.00" stroke="#111" stroke-width="1.5"/>
<line x1="408.80" y1="391.80" x2="512.50" y2="391.80" stroke="#3a3a3a" stroke-width="1.0"/>
<line x1="408.80" y1="389.60" x2="408.80" y2="394.00" stroke="#3a3a3a" stroke-width="1.0"/>
<line x1="512.50" y1="389.60" x2="512.50" y2="394.00" stroke="#3a3a3a" stroke-width="1.0"/>
<rect x="471.60" y="387.20" width="40.90" height="9.20" fill="#c6c6c6"/>
<line x1="400.70" y1="406.80" x2="466.00" y2="406.80" stroke="#3a3a3a" stroke-width="1.0"/>
<line x1="400.70" y1="404.60" x2="400.70" y2="409.00" stroke="#3a3a3a" stroke-width="1.0"/>
<line x1="466.00" y1="404.60" x2="466.00" y2="409.00" stroke="#3a3a3a" stroke-width="1.0"/>
<rect x="407.20" y="402.20" width="31.10" height="9.20" fill="#c6c6c6"/>
<line x1="416.40" y1="402.20" x2="416.40" y2="411.40" stroke="#111" stroke-width="1.5"/>
<line x1="408.20" y1="420.80" x2="482.40" y2="420.80" stroke="#3a3a3a" stroke-width="1.0"/>
<line x1="408.20" y1="418.60" x2="408.20" y2="423.00" stroke="#3a3a3a" stroke-width="1.0"/>
<line x1="482.40" y1="418.60" x2="482.40" y2="423.00" stroke="#3a3a3a" stroke-width="1.0"/>
<rect x="415.40" y="416.20" width="13.10" height="9.20" fill="#c6c6c6"/>
<line x1="418.60" y1="416.20" x2="418.60" y2="425.40" stroke="#111" stroke-width="1.5"/>
<line x1="472.50" y1="404.80" x2="472.50" y2="409.20" stroke="#222" stroke-width="0.85"/>
<line x1="470.59" y1="405.90" x2="474.41" y2="408.10" stroke="#222" stroke-width="0.85"/>
<line x1="474.41" y1="405.90" x2="470.59" y2="408.10" stroke="#222" stroke-width="0.85"/>
<line x1="476.90" y1="404.80" x2="476.90" y2="409.20" stroke="#222" stroke-width="0.85"/>
<line x1="474.99" y1="405.90" x2="478.81" y2="408.10" stroke="#222" stroke-width="0.85"/>
<line x1="478.81" y1="405.90" x2="474.99" y2="408.10" stroke="#222" stroke-width="0.85"/>
<line x1="481.30" y1="404.80" x2="481.30" y2="409.20" stroke="#222" stroke-width="0.85"/>
<line x1="479.39" y1="405.90" x2="483.21" y2="408.10" stroke="#222" stroke-width="0.85"/>
<line x1="483.21" y1="405.90" x2="479.39" y2="408.10" stroke="#222" stroke-width="0.85"/>
<line x1="490.50" y1="418.80" x2="490.50" y2="423.20" stroke="#222" stroke-width="0.85"/>
<line x1="488.59" y1="419.90" x2="492.41" y2="422.10" stroke="#222" stroke-width="0.85"/>
<line x1="492.41" y1="419.90" x2="488.59" y2="422.10" stroke="#222" stroke-width="0.85"/>
<line x1="494.90" y1="418.80" x2="494.90" y2="423.20" stroke="#222" stroke-width="0.85"/>
<line x1="492.99" y1="419.90" x2="496.81" y2="422.10" stroke="#222" stroke-width="0.85"/>
<line x1="496.81" y1="419.90" x2="492.99" y2="422.10" stroke="#222" stroke-width="0.85"/>
<line x1="399.70" y1="431.60" x2="399.70" y2="434.40" stroke="#1a1a1a" stroke-width="0.9"/>
<text x="399.70" y="444.30" font-size="8.6" text-anchor="middle" fill="#2a2a2a" stroke="#2a2a2a" stroke-width="0.18">0</text>
<line x1="456.10" y1="431.60" x2="456.10" y2="434.40" stroke="#1a1a1a" stroke-width="0.9"/>
<text x="456.10" y="444.30" font-size="8.6" text-anchor="middle" fill="#2a2a2a" stroke="#2a2a2a" stroke-width="0.18">50</text>
<line x1="512.50" y1="431.60" x2="512.50" y2="434.40" stroke="#1a1a1a" stroke-width="0.9"/>
<text x="512.50" y="444.30" font-size="8.6" text-anchor="middle" fill="#2a2a2a" stroke="#2a2a2a" stroke-width="0.18">100</text>
<text x="457.00" y="457.90" font-size="10.3" text-anchor="middle" fill="#2a2a2a" stroke="#2a2a2a" stroke-width="0.18" textLength="73.5" lengthAdjust="spacingAndGlyphs">% of total Sézary cells</text>
<text x="1.80" y="539.60" font-size="11.5" text-anchor="start" fill="#111" font-weight="bold" textLength="7" lengthAdjust="spacingAndGlyphs">E</text>
<line x1="41.50" y1="554.00" x2="41.50" y2="654.20" stroke="#1a1a1a" stroke-width="1.1"/>
<line x1="41.00" y1="653.70" x2="170.00" y2="653.70" stroke="#1a1a1a" stroke-width="1.1"/>
<line x1="39.30" y1="562.80" x2="41.50" y2="562.80" stroke="#1a1a1a" stroke-width="0.8"/>
<text x="34.60" y="565.50" font-size="8.6" text-anchor="end" fill="#2a2a2a" stroke="#2a2a2a" stroke-width="0.18" textLength="25.1" lengthAdjust="spacingAndGlyphs">Class 1</text>
<rect x="41.50" y="557.60" width="79.36" height="5.20" fill="#c3c3c3"/>
<rect x="41.50" y="562.80" width="97.02" height="5.20" fill="#141414"/>
<line x1="39.30" y1="579.20" x2="41.50" y2="579.20" stroke="#1a1a1a" stroke-width="0.8"/>
<text x="34.60" y="581.90" font-size="8.6" text-anchor="end" fill="#2a2a2a" stroke="#2a2a2a" stroke-width="0.18" textLength="25.1" lengthAdjust="spacingAndGlyphs">Class 2</text>
<rect x="41.50" y="574.00" width="51.97" height="5.20" fill="#c3c3c3"/>
<rect x="41.50" y="579.20" width="90.88" height="5.20" fill="#141414"/>
<line x1="39.30" y1="595.80" x2="41.50" y2="595.80" stroke="#1a1a1a" stroke-width="0.8"/>
<text x="34.60" y="598.50" font-size="8.6" text-anchor="end" fill="#2a2a2a" stroke="#2a2a2a" stroke-width="0.18" textLength="25.1" lengthAdjust="spacingAndGlyphs">Class 3</text>
<rect x="41.50" y="590.60" width="24.32" height="5.20" fill="#c3c3c3"/>
<rect x="41.50" y="595.80" width="16.13" height="5.20" fill="#141414"/>
<line x1="39.30" y1="612.40" x2="41.50" y2="612.40" stroke="#1a1a1a" stroke-width="0.8"/>
<text x="34.60" y="615.10" font-size="8.6" text-anchor="end" fill="#2a2a2a" stroke="#2a2a2a" stroke-width="0.18" textLength="25.1" lengthAdjust="spacingAndGlyphs">Class 4</text>
<rect x="41.50" y="607.20" width="10.75" height="5.20" fill="#c3c3c3"/>
<line x1="39.30" y1="629.00" x2="41.50" y2="629.00" stroke="#1a1a1a" stroke-width="0.8"/>
<text x="34.60" y="631.70" font-size="8.6" text-anchor="end" fill="#2a2a2a" stroke="#2a2a2a" stroke-width="0.18" textLength="25.1" lengthAdjust="spacingAndGlyphs">Class 5</text>
<rect x="41.50" y="623.80" width="10.62" height="5.20" fill="#c3c3c3"/>
<rect x="41.50" y="629.00" width="10.24" height="5.20" fill="#141414"/>
<line x1="39.30" y1="645.70" x2="41.50" y2="645.70" stroke="#1a1a1a" stroke-width="0.8"/>
<text x="34.60" y="648.40" font-size="8.6" text-anchor="end" fill="#2a2a2a" stroke="#2a2a2a" stroke-width="0.18" textLength="25.1" lengthAdjust="spacingAndGlyphs">Class 6</text>
<rect x="41.50" y="640.50" width="1.92" height="5.20" fill="#c3c3c3"/>
<rect x="41.50" y="645.70" width="5.12" height="5.20" fill="#141414"/>
<line x1="139.20" y1="580.10" x2="139.20" y2="584.50" stroke="#222" stroke-width="0.85"/>
<line x1="137.29" y1="581.20" x2="141.11" y2="583.40" stroke="#222" stroke-width="0.85"/>
<line x1="141.11" y1="581.20" x2="137.29" y2="583.40" stroke="#222" stroke-width="0.85"/>
<line x1="41.50" y1="653.70" x2="41.50" y2="656.30" stroke="#1a1a1a" stroke-width="0.8"/>
<text x="41.50" y="666.80" font-size="8.6" text-anchor="middle" fill="#2a2a2a" stroke="#2a2a2a" stroke-width="0.18">0</text>
<line x1="67.10" y1="653.70" x2="67.10" y2="656.30" stroke="#1a1a1a" stroke-width="0.8"/>
<text x="67.10" y="666.80" font-size="8.6" text-anchor="middle" fill="#2a2a2a" stroke="#2a2a2a" stroke-width="0.18">20</text>
<line x1="92.70" y1="653.70" x2="92.70" y2="656.30" stroke="#1a1a1a" stroke-width="0.8"/>
<text x="92.70" y="666.80" font-size="8.6" text-anchor="middle" fill="#2a2a2a" stroke="#2a2a2a" stroke-width="0.18">40</text>
<line x1="118.30" y1="653.70" x2="118.30" y2="656.30" stroke="#1a1a1a" stroke-width="0.8"/>
<text x="118.30" y="666.80" font-size="8.6" text-anchor="middle" fill="#2a2a2a" stroke="#2a2a2a" stroke-width="0.18">60</text>
<line x1="143.90" y1="653.70" x2="143.90" y2="656.30" stroke="#1a1a1a" stroke-width="0.8"/>
<text x="143.90" y="666.80" font-size="8.6" text-anchor="middle" fill="#2a2a2a" stroke="#2a2a2a" stroke-width="0.18">80</text>
<line x1="169.50" y1="653.70" x2="169.50" y2="656.30" stroke="#1a1a1a" stroke-width="0.8"/>
<text x="169.50" y="666.80" font-size="8.6" text-anchor="middle" fill="#2a2a2a" stroke="#2a2a2a" stroke-width="0.18">100</text>
<text x="106.10" y="684.20" font-size="10.3" text-anchor="middle" fill="#2a2a2a" stroke="#2a2a2a" stroke-width="0.18" textLength="101.8" lengthAdjust="spacingAndGlyphs">% of patients with Sézary cells</text>
<rect x="83.00" y="622.80" width="9.80" height="4.90" fill="#c3c3c3"/>
<text x="96.90" y="628.20" font-size="8.6" text-anchor="start" fill="#2a2a2a" stroke="#2a2a2a" stroke-width="0.18" textLength="64.1" lengthAdjust="spacingAndGlyphs">Mycosis fungoides</text>
<rect x="83.00" y="633.20" width="9.80" height="4.90" fill="#141414"/>
<text x="96.90" y="638.70" font-size="8.6" text-anchor="start" fill="#2a2a2a" stroke="#2a2a2a" stroke-width="0.18" textLength="57.1" lengthAdjust="spacingAndGlyphs">Sézary syndrome</text>
<text x="190.30" y="495.80" font-size="11.5" text-anchor="start" fill="#111" font-weight="bold" textLength="6.4" lengthAdjust="spacingAndGlyphs">F</text>
<path d="M256.00,559.10 L256.00,527.42 L270.15,496.07 L291.00,515.75 L313.34,530.75 L320.04,520.08 L333.45,529.92 L355.79,523.42 L367.70,522.58 L367.70,559.10Z" fill="#04a5a3"/>
<line x1="256.00" y1="490.50" x2="256.00" y2="559.60" stroke="#1a1a1a" stroke-width="1.1"/>
<line x1="255.50" y1="559.10" x2="371.10" y2="559.10" stroke="#1a1a1a" stroke-width="1.1"/>
<line x1="254.40" y1="509.10" x2="256.00" y2="509.10" stroke="#1a1a1a" stroke-width="0.8"/>
<line x1="254.40" y1="542.45" x2="256.00" y2="542.45" stroke="#1a1a1a" stroke-width="0.8"/>
<line x1="253.50" y1="492.40" x2="256.00" y2="492.40" stroke="#1a1a1a" stroke-width="0.9"/>
<text x="251.50" y="495.30" font-size="8.2" text-anchor="end" fill="#2a2a2a" stroke="#2a2a2a" stroke-width="0.18" textLength="18.0" lengthAdjust="spacingAndGlyphs">4000</text>
<line x1="253.50" y1="525.80" x2="256.00" y2="525.80" stroke="#1a1a1a" stroke-width="0.9"/>
<text x="251.50" y="528.70" font-size="8.2" text-anchor="end" fill="#2a2a2a" stroke="#2a2a2a" stroke-width="0.18" textLength="18.0" lengthAdjust="spacingAndGlyphs">2000</text>
<line x1="253.50" y1="559.10" x2="256.00" y2="559.10" stroke="#1a1a1a" stroke-width="0.9"/>
<text x="251.50" y="562.00" font-size="8.2" text-anchor="end" fill="#2a2a2a" stroke="#2a2a2a" stroke-width="0.18" textLength="4.5" lengthAdjust="spacingAndGlyphs">0</text>
<text x="256.30" y="570.60" font-size="8.2" text-anchor="middle" fill="#2a2a2a" stroke="#2a2a2a" stroke-width="0.18">0</text>
<text x="367.70" y="570.60" font-size="8.2" text-anchor="middle" fill="#2a2a2a" stroke="#2a2a2a" stroke-width="0.18">15</text>
<line x1="263.45" y1="559.10" x2="263.45" y2="560.90" stroke="#1a1a1a" stroke-width="0.7"/>
<line x1="270.89" y1="559.10" x2="270.89" y2="560.90" stroke="#1a1a1a" stroke-width="0.7"/>
<line x1="278.34" y1="559.10" x2="278.34" y2="560.90" stroke="#1a1a1a" stroke-width="0.7"/>
<line x1="285.79" y1="559.10" x2="285.79" y2="560.90" stroke="#1a1a1a" stroke-width="0.7"/>
<line x1="293.23" y1="559.10" x2="293.23" y2="560.90" stroke="#1a1a1a" stroke-width="0.7"/>
<line x1="300.68" y1="559.10" x2="300.68" y2="560.90" stroke="#1a1a1a" stroke-width="0.7"/>
<line x1="308.13" y1="559.10" x2="308.13" y2="560.90" stroke="#1a1a1a" stroke-width="0.7"/>
<line x1="315.57" y1="559.10" x2="315.57" y2="560.90" stroke="#1a1a1a" stroke-width="0.7"/>
<line x1="323.02" y1="559.10" x2="323.02" y2="560.90" stroke="#1a1a1a" stroke-width="0.7"/>
<line x1="330.47" y1="559.10" x2="330.47" y2="560.90" stroke="#1a1a1a" stroke-width="0.7"/>
<line x1="337.91" y1="559.10" x2="337.91" y2="560.90" stroke="#1a1a1a" stroke-width="0.7"/>
<line x1="345.36" y1="559.10" x2="345.36" y2="560.90" stroke="#1a1a1a" stroke-width="0.7"/>
<line x1="352.81" y1="559.10" x2="352.81" y2="560.90" stroke="#1a1a1a" stroke-width="0.7"/>
<line x1="360.25" y1="559.10" x2="360.25" y2="560.90" stroke="#1a1a1a" stroke-width="0.7"/>
<path d="M406.10,505.13 L431.04,515.15 L458.60,538.53 L511.10,546.04 L511.10,546.88 L458.60,539.19 L431.04,515.15 L406.10,511.81Z" fill="#f9e600"/>
<path d="M406.10,511.81 L431.04,515.15 L458.60,539.19 L511.10,546.88 L511.10,553.82 L458.60,550.38 L431.04,531.85 L406.10,525.17Z" fill="#2aa537"/>
<path d="M406.10,525.17 L431.04,531.85 L458.60,550.38 L511.10,553.82 L511.10,553.89 L458.60,550.55 L431.04,533.35 L406.10,527.84Z" fill="#bb4193"/>
<path d="M406.10,527.84 L431.04,533.35 L458.60,550.55 L511.10,553.89 L511.10,558.90 L458.60,558.90 L431.04,558.90 L406.10,558.90Z" fill="#04a5a3"/>
<line x1="406.10" y1="490.50" x2="406.10" y2="559.40" stroke="#1a1a1a" stroke-width="1.1"/>
<line x1="405.60" y1="558.90" x2="513.50" y2="558.90" stroke="#1a1a1a" stroke-width="1.1"/>
<line x1="404.50" y1="508.95" x2="406.10" y2="508.95" stroke="#1a1a1a" stroke-width="0.8"/>
<line x1="404.50" y1="542.35" x2="406.10" y2="542.35" stroke="#1a1a1a" stroke-width="0.8"/>
<line x1="403.60" y1="492.10" x2="406.10" y2="492.10" stroke="#1a1a1a" stroke-width="0.9"/>
<text x="401.60" y="495.00" font-size="8.2" text-anchor="end" fill="#2a2a2a" stroke="#2a2a2a" stroke-width="0.18" textLength="18.0" lengthAdjust="spacingAndGlyphs">2000</text>
<line x1="403.60" y1="525.80" x2="406.10" y2="525.80" stroke="#1a1a1a" stroke-width="0.9"/>
<text x="401.60" y="528.70" font-size="8.2" text-anchor="end" fill="#2a2a2a" stroke="#2a2a2a" stroke-width="0.18" textLength="18.0" lengthAdjust="spacingAndGlyphs">1000</text>
<line x1="403.60" y1="558.90" x2="406.10" y2="558.90" stroke="#1a1a1a" stroke-width="0.9"/>
<text x="401.60" y="561.80" font-size="8.2" text-anchor="end" fill="#2a2a2a" stroke="#2a2a2a" stroke-width="0.18" textLength="4.5" lengthAdjust="spacingAndGlyphs">0</text>
<text x="406.00" y="570.40" font-size="8.2" text-anchor="middle" fill="#2a2a2a" stroke="#2a2a2a" stroke-width="0.18">0</text>
<text x="511.10" y="570.40" font-size="8.2" text-anchor="middle" fill="#2a2a2a" stroke="#2a2a2a" stroke-width="0.18">8</text>
<line x1="419.23" y1="558.90" x2="419.23" y2="560.70" stroke="#1a1a1a" stroke-width="0.7"/>
<line x1="432.35" y1="558.90" x2="432.35" y2="560.70" stroke="#1a1a1a" stroke-width="0.7"/>
<line x1="445.48" y1="558.90" x2="445.48" y2="560.70" stroke="#1a1a1a" stroke-width="0.7"/>
<line x1="458.60" y1="558.90" x2="458.60" y2="560.70" stroke="#1a1a1a" stroke-width="0.7"/>
<line x1="471.73" y1="558.90" x2="471.73" y2="560.70" stroke="#1a1a1a" stroke-width="0.7"/>
<line x1="484.85" y1="558.90" x2="484.85" y2="560.70" stroke="#1a1a1a" stroke-width="0.7"/>
<line x1="497.98" y1="558.90" x2="497.98" y2="560.70" stroke="#1a1a1a" stroke-width="0.7"/>
<path d="M257.60,611.53 L266.69,610.23 L366.70,623.88 L366.70,627.78 L266.69,611.09 L257.60,614.34Z" fill="#2aa537"/>
<path d="M257.60,614.34 L266.69,611.09 L366.70,627.78 L366.70,633.20 L266.69,625.83 L257.60,628.65Z" fill="#f5a300"/>
<path d="M257.60,628.65 L266.69,625.83 L366.70,633.20 L366.70,654.00 L266.69,654.00 L257.60,654.00Z" fill="#04a5a3"/>
<line x1="257.60" y1="587.00" x2="257.60" y2="654.50" stroke="#1a1a1a" stroke-width="1.1"/>
<line x1="257.10" y1="654.00" x2="370.70" y2="654.00" stroke="#1a1a1a" stroke-width="1.1"/>
<line x1="256.00" y1="599.95" x2="257.60" y2="599.95" stroke="#1a1a1a" stroke-width="0.8"/>
<line x1="256.00" y1="621.50" x2="257.60" y2="621.50" stroke="#1a1a1a" stroke-width="0.8"/>
<line x1="256.00" y1="643.05" x2="257.60" y2="643.05" stroke="#1a1a1a" stroke-width="0.8"/>
<line x1="255.10" y1="589.00" x2="257.60" y2="589.00" stroke="#1a1a1a" stroke-width="0.9"/>
<text x="253.10" y="591.90" font-size="8.2" text-anchor="end" fill="#2a2a2a" stroke="#2a2a2a" stroke-width="0.18" textLength="13.5" lengthAdjust="spacingAndGlyphs">300</text>
<line x1="255.10" y1="610.90" x2="257.60" y2="610.90" stroke="#1a1a1a" stroke-width="0.9"/>
<text x="253.10" y="613.80" font-size="8.2" text-anchor="end" fill="#2a2a2a" stroke="#2a2a2a" stroke-width="0.18" textLength="13.5" lengthAdjust="spacingAndGlyphs">200</text>
<line x1="255.10" y1="632.10" x2="257.60" y2="632.10" stroke="#1a1a1a" stroke-width="0.9"/>
<text x="253.10" y="635.00" font-size="8.2" text-anchor="end" fill="#2a2a2a" stroke="#2a2a2a" stroke-width="0.18" textLength="13.5" lengthAdjust="spacingAndGlyphs">100</text>
<line x1="255.10" y1="654.00" x2="257.60" y2="654.00" stroke="#1a1a1a" stroke-width="0.9"/>
<text x="253.10" y="656.90" font-size="8.2" text-anchor="end" fill="#2a2a2a" stroke="#2a2a2a" stroke-width="0.18" textLength="4.5" lengthAdjust="spacingAndGlyphs">0</text>
<text x="257.60" y="665.50" font-size="8.2" text-anchor="middle" fill="#2a2a2a" stroke="#2a2a2a" stroke-width="0.18">0</text>
<text x="366.70" y="665.50" font-size="8.2" text-anchor="middle" fill="#2a2a2a" stroke="#2a2a2a" stroke-width="0.18">12</text>
<line x1="266.69" y1="654.00" x2="266.69" y2="655.80" stroke="#1a1a1a" stroke-width="0.7"/>
<line x1="275.78" y1="654.00" x2="275.78" y2="655.80" stroke="#1a1a1a" stroke-width="0.7"/>
<line x1="284.88" y1="654.00" x2="284.88" y2="655.80" stroke="#1a1a1a" stroke-width="0.7"/>
<line x1="293.97" y1="654.00" x2="293.97" y2="655.80" stroke="#1a1a1a" stroke-width="0.7"/>
<line x1="303.06" y1="654.00" x2="303.06" y2="655.80" stroke="#1a1a1a" stroke-width="0.7"/>
<line x1="312.15" y1="654.00" x2="312.15" y2="655.80" stroke="#1a1a1a" stroke-width="0.7"/>
<line x1="321.24" y1="654.00" x2="321.24" y2="655.80" stroke="#1a1a1a" stroke-width="0.7"/>
<line x1="330.33" y1="654.00" x2="330.33" y2="655.80" stroke="#1a1a1a" stroke-width="0.7"/>
<line x1="339.43" y1="654.00" x2="339.43" y2="655.80" stroke="#1a1a1a" stroke-width="0.7"/>
<line x1="348.52" y1="654.00" x2="348.52" y2="655.80" stroke="#1a1a1a" stroke-width="0.7"/>
<line x1="357.61" y1="654.00" x2="357.61" y2="655.80" stroke="#1a1a1a" stroke-width="0.7"/>
<path d="M406.10,654.00 L406.10,636.18 L428.83,654.00 L493.38,654.00 L515.20,648.06 L515.20,654.00Z" fill="#04a5a3"/>
<path d="M406.10,630.78 L431.56,634.24 L490.65,642.66 L515.20,634.56 L515.20,648.06 L493.38,654.00 L428.83,654.00 L406.10,636.18Z" fill="#bb4193"/>
<path d="M406.10,629.70 L431.56,592.44 L490.65,626.46 L515.20,634.56 L515.20,634.56 L490.65,642.66 L431.56,634.24 L406.10,630.78Z" fill="#3a237d"/>
<path d="M490.65,626.46 L515.20,627.00 L515.20,634.56Z" fill="#2aa537"/>
<line x1="406.10" y1="586.00" x2="406.10" y2="654.50" stroke="#1a1a1a" stroke-width="1.1"/>
<line x1="405.60" y1="654.00" x2="517.50" y2="654.00" stroke="#1a1a1a" stroke-width="1.1"/>
<line x1="404.50" y1="599.85" x2="406.10" y2="599.85" stroke="#1a1a1a" stroke-width="0.8"/>
<line x1="404.50" y1="621.70" x2="406.10" y2="621.70" stroke="#1a1a1a" stroke-width="0.8"/>
<line x1="404.50" y1="643.25" x2="406.10" y2="643.25" stroke="#1a1a1a" stroke-width="0.8"/>
<line x1="403.60" y1="588.80" x2="406.10" y2="588.80" stroke="#1a1a1a" stroke-width="0.9"/>
<text x="401.60" y="591.70" font-size="8.2" text-anchor="end" fill="#2a2a2a" stroke="#2a2a2a" stroke-width="0.18" textLength="18.0" lengthAdjust="spacingAndGlyphs">6000</text>
<line x1="403.60" y1="610.90" x2="406.10" y2="610.90" stroke="#1a1a1a" stroke-width="0.9"/>
<text x="401.60" y="613.80" font-size="8.2" text-anchor="end" fill="#2a2a2a" stroke="#2a2a2a" stroke-width="0.18" textLength="18.0" lengthAdjust="spacingAndGlyphs">4000</text>
<line x1="403.60" y1="632.50" x2="406.10" y2="632.50" stroke="#1a1a1a" stroke-width="0.9"/>
<text x="401.60" y="635.40" font-size="8.2" text-anchor="end" fill="#2a2a2a" stroke="#2a2a2a" stroke-width="0.18" textLength="18.0" lengthAdjust="spacingAndGlyphs">2000</text>
<line x1="403.60" y1="654.00" x2="406.10" y2="654.00" stroke="#1a1a1a" stroke-width="0.9"/>
<text x="401.60" y="656.90" font-size="8.2" text-anchor="end" fill="#2a2a2a" stroke="#2a2a2a" stroke-width="0.18" textLength="4.5" lengthAdjust="spacingAndGlyphs">0</text>
<text x="406.00" y="665.50" font-size="8.2" text-anchor="middle" fill="#2a2a2a" stroke="#2a2a2a" stroke-width="0.18">0</text>
<text x="515.20" y="665.50" font-size="8.2" text-anchor="middle" fill="#2a2a2a" stroke="#2a2a2a" stroke-width="0.18">12</text>
<line x1="415.19" y1="654.00" x2="415.19" y2="655.80" stroke="#1a1a1a" stroke-width="0.7"/>
<line x1="424.28" y1="654.00" x2="424.28" y2="655.80" stroke="#1a1a1a" stroke-width="0.7"/>
<line x1="433.38" y1="654.00" x2="433.38" y2="655.80" stroke="#1a1a1a" stroke-width="0.7"/>
<line x1="442.47" y1="654.00" x2="442.47" y2="655.80" stroke="#1a1a1a" stroke-width="0.7"/>
<line x1="451.56" y1="654.00" x2="451.56" y2="655.80" stroke="#1a1a1a" stroke-width="0.7"/>
<line x1="460.65" y1="654.00" x2="460.65" y2="655.80" stroke="#1a1a1a" stroke-width="0.7"/>
<line x1="469.74" y1="654.00" x2="469.74" y2="655.80" stroke="#1a1a1a" stroke-width="0.7"/>
<line x1="478.83" y1="654.00" x2="478.83" y2="655.80" stroke="#1a1a1a" stroke-width="0.7"/>
<line x1="487.93" y1="654.00" x2="487.93" y2="655.80" stroke="#1a1a1a" stroke-width="0.7"/>
<line x1="497.02" y1="654.00" x2="497.02" y2="655.80" stroke="#1a1a1a" stroke-width="0.7"/>
<line x1="506.11" y1="654.00" x2="506.11" y2="655.80" stroke="#1a1a1a" stroke-width="0.7"/>
<text x="225.40" y="574.00" font-size="9.2" text-anchor="middle" fill="#2a2a2a" stroke="#2a2a2a" stroke-width="0.18" textLength="51.5" lengthAdjust="spacingAndGlyphs" transform="rotate(-90 225.40 574.00)">Sézary cells/μL</text>
<text x="386.50" y="679.40" font-size="10.3" text-anchor="middle" fill="#2a2a2a" stroke="#2a2a2a" stroke-width="0.18" textLength="26.3" lengthAdjust="spacingAndGlyphs">Months</text>
<rect x="312.90" y="692.40" width="9.00" height="9.00" fill="#04a5a3"/>
<text x="325.70" y="699.20" font-size="8.6" text-anchor="start" fill="#2a2a2a" stroke="#2a2a2a" stroke-width="0.18" textLength="23.8" lengthAdjust="spacingAndGlyphs">Class 1</text>
<rect x="367.90" y="692.40" width="9.00" height="9.00" fill="#bb4193"/>
<text x="380.70" y="699.20" font-size="8.6" text-anchor="start" fill="#2a2a2a" stroke="#2a2a2a" stroke-width="0.18" textLength="23.8" lengthAdjust="spacingAndGlyphs">Class 2</text>
<rect x="422.90" y="692.40" width="9.00" height="9.00" fill="#f5a300"/>
<text x="435.70" y="699.20" font-size="8.6" text-anchor="start" fill="#2a2a2a" stroke="#2a2a2a" stroke-width="0.18" textLength="23.8" lengthAdjust="spacingAndGlyphs">Class 3</text>
<rect x="312.90" y="705.60" width="9.00" height="9.00" fill="#3a237d"/>
<text x="325.70" y="712.40" font-size="8.6" text-anchor="start" fill="#2a2a2a" stroke="#2a2a2a" stroke-width="0.18" textLength="23.8" lengthAdjust="spacingAndGlyphs">Class 4</text>
<rect x="367.90" y="705.60" width="9.00" height="9.00" fill="#2aa537"/>
<text x="380.70" y="712.40" font-size="8.6" text-anchor="start" fill="#2a2a2a" stroke="#2a2a2a" stroke-width="0.18" textLength="23.8" lengthAdjust="spacingAndGlyphs">Class 5</text>
<rect x="422.90" y="705.60" width="9.00" height="9.00" fill="#f9e600"/>
<text x="435.70" y="712.40" font-size="8.6" text-anchor="start" fill="#2a2a2a" stroke="#2a2a2a" stroke-width="0.18" textLength="23.8" lengthAdjust="spacingAndGlyphs">Class 6</text>
</svg></body></html>
